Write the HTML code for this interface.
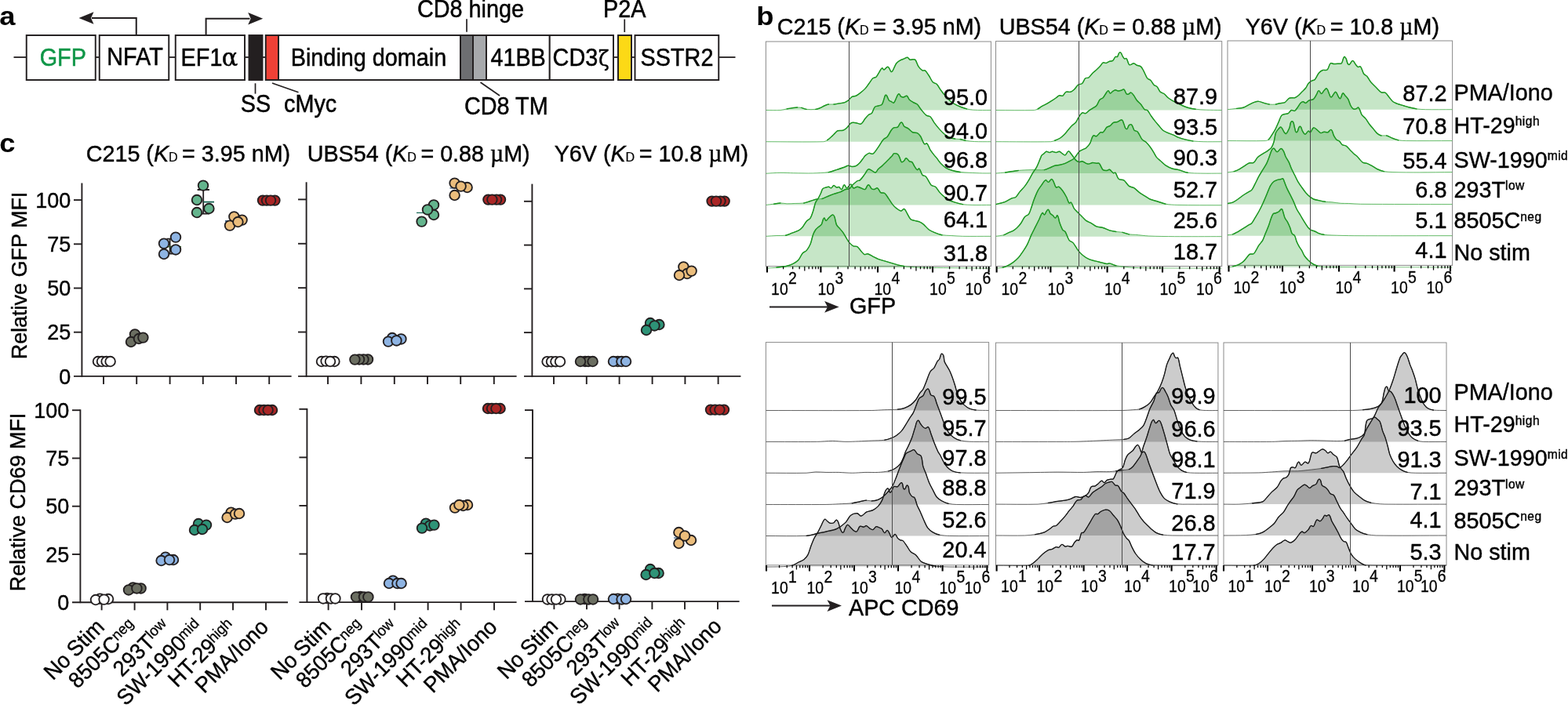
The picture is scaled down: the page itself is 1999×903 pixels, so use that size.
<!DOCTYPE html>
<html lang="en">
<head>
<meta charset="utf-8">
<title>Figure: affinity-tuned CAR reporter activation</title>
<style>
html,body{margin:0;padding:0;background:#fff;}
body{width:1999px;height:903px;overflow:hidden;}
svg{display:block;font-family:'Liberation Sans', Arial, Helvetica, sans-serif;}
text{white-space:pre;}
</style>
</head>
<body>
<svg width="1999" height="903" viewBox="0 0 1999 903">
<rect x="0" y="0" width="1999" height="903" fill="#ffffff"/>
<g id="panel-a">
<text transform="translate(-0.8 32.2) scale(1.07 1)" font-size="34" text-anchor="start" fill="#000" font-weight="bold" >a</text>
<line x1="17.5" y1="73" x2="33.75" y2="73" stroke="#231f20" stroke-width="1.8" />
<line x1="121.75" y1="73" x2="126.75" y2="73" stroke="#231f20" stroke-width="1.8" />
<line x1="215.25" y1="73" x2="223.75" y2="73" stroke="#231f20" stroke-width="1.8" />
<line x1="312" y1="73" x2="317.5" y2="73" stroke="#231f20" stroke-width="1.8" />
<line x1="334.5" y1="73" x2="338.75" y2="73" stroke="#231f20" stroke-width="1.8" />
<line x1="782" y1="73" x2="788" y2="73" stroke="#231f20" stroke-width="1.8" />
<line x1="805" y1="73" x2="809.5" y2="73" stroke="#231f20" stroke-width="1.8" />
<line x1="916.25" y1="73" x2="937.5" y2="73" stroke="#231f20" stroke-width="1.8" />
<rect x="33.75" y="45" width="88" height="57" fill="#fff" stroke="#231f20" stroke-width="1.95"/>
<rect x="126.75" y="45" width="88.5" height="57" fill="#fff" stroke="#231f20" stroke-width="1.95"/>
<rect x="223.75" y="45" width="88.25" height="57" fill="#fff" stroke="#231f20" stroke-width="1.95"/>
<rect x="317.5" y="45" width="17" height="57" fill="#231f20" stroke="#231f20" stroke-width="1.95"/>
<rect x="338.75" y="45" width="16.25" height="57" fill="#ef4136" stroke="#231f20" stroke-width="1.95"/>
<rect x="355" y="45" width="232" height="57" fill="#fff" stroke="#231f20" stroke-width="1.95"/>
<rect x="587" y="45" width="16" height="57" fill="#6d6e71" stroke="#231f20" stroke-width="1.95"/>
<rect x="603" y="45" width="17" height="57" fill="#a7a9ac" stroke="#231f20" stroke-width="1.95"/>
<rect x="620" y="45" width="80.75" height="57" fill="#fff" stroke="#231f20" stroke-width="1.95"/>
<rect x="700.75" y="45" width="81.25" height="57" fill="#fff" stroke="#231f20" stroke-width="1.95"/>
<rect x="788" y="45" width="17" height="57" fill="#fcd916" stroke="#231f20" stroke-width="1.95"/>
<rect x="809.5" y="45" width="106.75" height="57" fill="#fff" stroke="#231f20" stroke-width="1.95"/>
<text transform="translate(80.3 83.6) scale(0.932 1)" font-size="30.9" text-anchor="middle" fill="#0f9647" stroke="#0f9647" stroke-width="0.5" >GFP</text>
<text transform="translate(172 83.2) scale(0.932 1)" font-size="30.9" text-anchor="middle" fill="#000" stroke="#000" stroke-width="0.5" >NFAT</text>
<text transform="translate(230.6 83.6) scale(0.932 1)" font-size="30.9" text-anchor="start" fill="#000" stroke="#000" stroke-width="0.5" >EF1<tspan font-family="'DejaVu Serif', 'Liberation Serif', serif" font-size="32.5" dx="-0.8">α</tspan></text>
<text transform="translate(470 83.6) scale(0.932 1)" font-size="30.9" text-anchor="middle" fill="#000" stroke="#000" stroke-width="0.5" >Binding domain</text>
<text transform="translate(660.6 83.6) scale(0.932 1)" font-size="30.9" text-anchor="middle" fill="#000" stroke="#000" stroke-width="0.5" >41BB</text>
<text transform="translate(704.6 83.6) scale(0.932 1)" font-size="30.9" text-anchor="start" fill="#000" stroke="#000" stroke-width="0.5" >CD3<tspan font-family="'DejaVu Serif', 'Liberation Serif', serif" font-size="27" dx="0.8">ζ</tspan></text>
<text transform="translate(863 83.6) scale(0.932 1)" font-size="30.9" text-anchor="middle" fill="#000" stroke="#000" stroke-width="0.5" >SSTR2</text>
<path d="M173.75 45 V23 H117" fill="none" stroke="#231f20" stroke-width="2"/>
<path d="M100.5 23 L119.5 15.3 L116 23 L119.5 30.7 Z" fill="#231f20"/>
<path d="M262.6 45 V23.75 H318.5" fill="none" stroke="#231f20" stroke-width="2"/>
<path d="M335.2 23.75 L316.2 16.05 L319.7 23.75 L316.2 31.45 Z" fill="#231f20"/>
<line x1="325.5" y1="106.25" x2="325.5" y2="119.6" stroke="#231f20" stroke-width="1.7" />
<text transform="translate(326 142.9) scale(0.932 1)" font-size="30.9" text-anchor="middle" fill="#000" stroke="#000" stroke-width="0.5" >SS</text>
<line x1="347" y1="106" x2="380.5" y2="117.8" stroke="#231f20" stroke-width="1.7" />
<text transform="translate(362 142.9) scale(0.932 1)" font-size="30.9" text-anchor="start" fill="#000" stroke="#000" stroke-width="0.5" >cMyc</text>
<text transform="translate(532 21.6) scale(0.932 1)" font-size="30.9" text-anchor="start" fill="#000" stroke="#000" stroke-width="0.5" >CD8 hinge</text>
<line x1="595" y1="24.25" x2="595" y2="40.75" stroke="#231f20" stroke-width="1.7" />
<text transform="translate(769 21.6) scale(0.932 1)" font-size="30.9" text-anchor="start" fill="#000" stroke="#000" stroke-width="0.5" >P2A</text>
<line x1="796.25" y1="24.5" x2="796.25" y2="41" stroke="#231f20" stroke-width="1.7" />
<line x1="612.5" y1="105" x2="637" y2="122" stroke="#231f20" stroke-width="1.7" />
<text transform="translate(592 145.9) scale(0.932 1)" font-size="30.9" text-anchor="start" fill="#000" stroke="#000" stroke-width="0.5" >CD8 TM</text>
</g>
<g id="panel-c">
<text transform="translate(-0.8 194) scale(1.07 1)" font-size="34" text-anchor="start" fill="#000" font-weight="bold" >c</text>
<text transform="translate(109.7 205.85) scale(0.961 1)" font-size="29.9" text-anchor="start" fill="#000" stroke="#000" stroke-width="0.42" >C215 (<tspan font-style="italic">K</tspan><tspan font-size="16.8" dx="-0.2" stroke-width="0.2">D</tspan><tspan dx="-2.6"> = 3.95 nM)</tspan></text>
<text transform="translate(391.7 205.85) scale(0.961 1)" font-size="29.9" text-anchor="start" fill="#000" stroke="#000" stroke-width="0.42" >UBS54 (<tspan font-style="italic">K</tspan><tspan font-size="16.8" dx="-0.2" stroke-width="0.2">D</tspan><tspan dx="-2.6"> = 0.88 <tspan font-family="'Liberation Serif', 'DejaVu Serif', serif" font-size="31">µ</tspan>M)</tspan></text>
<text transform="translate(706.7 205.85) scale(0.961 1)" font-size="29.9" text-anchor="start" fill="#000" stroke="#000" stroke-width="0.42" >Y6V (<tspan font-style="italic">K</tspan><tspan font-size="16.8" dx="-0.2" stroke-width="0.2">D</tspan><tspan dx="-2.6"> = 10.8 <tspan font-family="'Liberation Serif', 'DejaVu Serif', serif" font-size="31">µ</tspan>M)</tspan></text>
<text transform="translate(34 351.5) rotate(-90) scale(0.953 1)" font-size="28.3" text-anchor="middle" fill="#000" stroke="#000" stroke-width="0.4" >Relative GFP MFI</text>
<text transform="translate(31.6 640.5) rotate(-90) scale(0.953 1)" font-size="28.3" text-anchor="middle" fill="#000" stroke="#000" stroke-width="0.4" >Relative CD69 MFI</text>
<line x1="104.4" y1="233.5" x2="104.4" y2="480.85" stroke="#231f20" stroke-width="1.9" />
<line x1="94" y1="479.9" x2="371.6" y2="479.9" stroke="#231f20" stroke-width="1.9" />
<text transform="translate(90.3 489.6) scale(0.953 1)" font-size="28.3" text-anchor="end" fill="#000" stroke="#000" stroke-width="0.4" >0</text>
<line x1="94" y1="423.7" x2="104.4" y2="423.7" stroke="#231f20" stroke-width="1.9" />
<text transform="translate(90.3 433.4) scale(0.953 1)" font-size="28.3" text-anchor="end" fill="#000" stroke="#000" stroke-width="0.4" >25</text>
<line x1="94" y1="367.5" x2="104.4" y2="367.5" stroke="#231f20" stroke-width="1.9" />
<text transform="translate(90.3 377.2) scale(0.953 1)" font-size="28.3" text-anchor="end" fill="#000" stroke="#000" stroke-width="0.4" >50</text>
<line x1="94" y1="311.3" x2="104.4" y2="311.3" stroke="#231f20" stroke-width="1.9" />
<text transform="translate(90.3 321) scale(0.953 1)" font-size="28.3" text-anchor="end" fill="#000" stroke="#000" stroke-width="0.4" >75</text>
<line x1="94" y1="255.1" x2="104.4" y2="255.1" stroke="#231f20" stroke-width="1.9" />
<text transform="translate(90.3 264.8) scale(0.953 1)" font-size="28.3" text-anchor="end" fill="#000" stroke="#000" stroke-width="0.4" >100</text>
<line x1="132" y1="479.9" x2="132" y2="490" stroke="#231f20" stroke-width="1.9" />
<line x1="174.2" y1="479.9" x2="174.2" y2="490" stroke="#231f20" stroke-width="1.9" />
<line x1="216.6" y1="479.9" x2="216.6" y2="490" stroke="#231f20" stroke-width="1.9" />
<line x1="258.8" y1="479.9" x2="258.8" y2="490" stroke="#231f20" stroke-width="1.9" />
<line x1="301" y1="479.9" x2="301" y2="490" stroke="#231f20" stroke-width="1.9" />
<line x1="343.2" y1="479.9" x2="343.2" y2="490" stroke="#231f20" stroke-width="1.9" />
<path d="M216.6 304.6 V323.6 M212.5 304.6 H220.5 M212.5 323.6 H220.5" stroke="#231f20" stroke-width="1.8" fill="none"/>
<path d="M210 314.6 H231" stroke="#2c5e1e" stroke-width="1.4" fill="none"/>
<path d="M259.2 242 V272.6 M251.6 242 H267 M252 272.6 H267" stroke="#231f20" stroke-width="1.8" fill="none"/>
<path d="M259.4 257.6 H273" stroke="#14614f" stroke-width="1.8" fill="none"/>
<path d="M287 281.9 H300" stroke="#1f4e79" stroke-width="1.5" fill="none"/>
<circle cx="125" cy="461" r="6.3" fill="#ffffff" stroke="#231f20" stroke-width="1.85"/>
<circle cx="130" cy="461" r="6.3" fill="#ffffff" stroke="#231f20" stroke-width="1.85"/>
<circle cx="135.6" cy="461" r="6.3" fill="#ffffff" stroke="#231f20" stroke-width="1.85"/>
<circle cx="140.6" cy="461" r="6.3" fill="#ffffff" stroke="#231f20" stroke-width="1.85"/>
<circle cx="172" cy="426.4" r="6.3" fill="#6b6e61" stroke="#231f20" stroke-width="1.85"/>
<circle cx="167" cy="436" r="6.3" fill="#6b6e61" stroke="#231f20" stroke-width="1.85"/>
<circle cx="177" cy="432" r="6.3" fill="#6b6e61" stroke="#231f20" stroke-width="1.85"/>
<circle cx="182.4" cy="430.6" r="6.3" fill="#6b6e61" stroke="#231f20" stroke-width="1.85"/>
<circle cx="209" cy="310.6" r="6.3" fill="#8eb4e3" stroke="#231f20" stroke-width="1.85"/>
<circle cx="209" cy="324" r="6.3" fill="#8eb4e3" stroke="#231f20" stroke-width="1.85"/>
<circle cx="224" cy="302.6" r="6.3" fill="#8eb4e3" stroke="#231f20" stroke-width="1.85"/>
<circle cx="224" cy="318.4" r="6.3" fill="#8eb4e3" stroke="#231f20" stroke-width="1.85"/>
<circle cx="259" cy="236.6" r="6.3" fill="#64b48d" stroke="#231f20" stroke-width="1.85"/>
<circle cx="251" cy="255" r="6.3" fill="#64b48d" stroke="#231f20" stroke-width="1.85"/>
<circle cx="251" cy="271" r="6.3" fill="#64b48d" stroke="#231f20" stroke-width="1.85"/>
<circle cx="266.4" cy="266" r="6.3" fill="#64b48d" stroke="#231f20" stroke-width="1.85"/>
<circle cx="298.4" cy="276.4" r="6.3" fill="#ebbd7c" stroke="#231f20" stroke-width="1.85"/>
<circle cx="293" cy="287.6" r="6.3" fill="#ebbd7c" stroke="#231f20" stroke-width="1.85"/>
<circle cx="308.6" cy="280.6" r="6.3" fill="#ebbd7c" stroke="#231f20" stroke-width="1.85"/>
<circle cx="303.4" cy="283" r="6.3" fill="#ebbd7c" stroke="#231f20" stroke-width="1.85"/>
<circle cx="335" cy="255.6" r="6.3" fill="#aa2626" stroke="#231f20" stroke-width="1.85"/>
<circle cx="340" cy="255.6" r="6.3" fill="#aa2626" stroke="#231f20" stroke-width="1.85"/>
<circle cx="350.4" cy="255.6" r="6.3" fill="#aa2626" stroke="#231f20" stroke-width="1.85"/>
<circle cx="345" cy="255.6" r="6.3" fill="#aa2626" stroke="#231f20" stroke-width="1.85"/>
<line x1="390.6" y1="232.3" x2="390.6" y2="480.85" stroke="#231f20" stroke-width="1.9" />
<line x1="380" y1="479.9" x2="658.6" y2="479.9" stroke="#231f20" stroke-width="1.9" />
<line x1="380" y1="423.52" x2="390.6" y2="423.52" stroke="#231f20" stroke-width="1.9" />
<line x1="380" y1="367.15" x2="390.6" y2="367.15" stroke="#231f20" stroke-width="1.9" />
<line x1="380" y1="310.77" x2="390.6" y2="310.77" stroke="#231f20" stroke-width="1.9" />
<line x1="380" y1="254.4" x2="390.6" y2="254.4" stroke="#231f20" stroke-width="1.9" />
<line x1="418" y1="479.9" x2="418" y2="490" stroke="#231f20" stroke-width="1.9" />
<line x1="460.4" y1="479.9" x2="460.4" y2="490" stroke="#231f20" stroke-width="1.9" />
<line x1="502.8" y1="479.9" x2="502.8" y2="490" stroke="#231f20" stroke-width="1.9" />
<line x1="545" y1="479.9" x2="545" y2="490" stroke="#231f20" stroke-width="1.9" />
<line x1="587.2" y1="479.9" x2="587.2" y2="490" stroke="#231f20" stroke-width="1.9" />
<line x1="629.8" y1="479.9" x2="629.8" y2="490" stroke="#231f20" stroke-width="1.9" />
<path d="M531 271.4 H545" stroke="#1d6b5a" stroke-width="1.3" fill="none"/>
<path d="M573.5 240 H587" stroke="#1f4e79" stroke-width="1.1" fill="none"/>
<circle cx="410" cy="461" r="6.3" fill="#ffffff" stroke="#231f20" stroke-width="1.85"/>
<circle cx="415.6" cy="460.6" r="6.3" fill="#ffffff" stroke="#231f20" stroke-width="1.85"/>
<circle cx="426.4" cy="461" r="6.3" fill="#ffffff" stroke="#231f20" stroke-width="1.85"/>
<circle cx="421" cy="461" r="6.3" fill="#ffffff" stroke="#231f20" stroke-width="1.85"/>
<circle cx="469" cy="458.4" r="6.3" fill="#6b6e61" stroke="#231f20" stroke-width="1.85"/>
<circle cx="463.4" cy="458.4" r="6.3" fill="#6b6e61" stroke="#231f20" stroke-width="1.85"/>
<circle cx="458" cy="458.4" r="6.3" fill="#6b6e61" stroke="#231f20" stroke-width="1.85"/>
<circle cx="452.4" cy="458.6" r="6.3" fill="#6b6e61" stroke="#231f20" stroke-width="1.85"/>
<circle cx="500" cy="431" r="6.3" fill="#8eb4e3" stroke="#231f20" stroke-width="1.85"/>
<circle cx="511.4" cy="432.4" r="6.3" fill="#8eb4e3" stroke="#231f20" stroke-width="1.85"/>
<circle cx="495" cy="435.6" r="6.3" fill="#8eb4e3" stroke="#231f20" stroke-width="1.85"/>
<circle cx="505.4" cy="434.4" r="6.3" fill="#8eb4e3" stroke="#231f20" stroke-width="1.85"/>
<circle cx="553" cy="261.4" r="6.3" fill="#64b48d" stroke="#231f20" stroke-width="1.85"/>
<circle cx="553" cy="274" r="6.3" fill="#64b48d" stroke="#231f20" stroke-width="1.85"/>
<circle cx="545" cy="267.4" r="6.3" fill="#64b48d" stroke="#231f20" stroke-width="1.85"/>
<circle cx="537.6" cy="282.6" r="6.3" fill="#64b48d" stroke="#231f20" stroke-width="1.85"/>
<circle cx="579.6" cy="233.6" r="6.3" fill="#ebbd7c" stroke="#231f20" stroke-width="1.85"/>
<circle cx="595.6" cy="239" r="6.3" fill="#ebbd7c" stroke="#231f20" stroke-width="1.85"/>
<circle cx="579.6" cy="249" r="6.3" fill="#ebbd7c" stroke="#231f20" stroke-width="1.85"/>
<circle cx="587.6" cy="237.6" r="6.3" fill="#ebbd7c" stroke="#231f20" stroke-width="1.85"/>
<circle cx="622.4" cy="254.6" r="6.3" fill="#aa2626" stroke="#231f20" stroke-width="1.85"/>
<circle cx="638" cy="254.6" r="6.3" fill="#aa2626" stroke="#231f20" stroke-width="1.85"/>
<circle cx="633" cy="254.6" r="6.3" fill="#aa2626" stroke="#231f20" stroke-width="1.85"/>
<circle cx="627.4" cy="254.6" r="6.3" fill="#aa2626" stroke="#231f20" stroke-width="1.85"/>
<line x1="678.4" y1="234.6" x2="678.4" y2="480.85" stroke="#231f20" stroke-width="1.9" />
<line x1="668" y1="479.9" x2="944.4" y2="479.9" stroke="#231f20" stroke-width="1.9" />
<line x1="668" y1="424.12" x2="678.4" y2="424.12" stroke="#231f20" stroke-width="1.9" />
<line x1="668" y1="368.35" x2="678.4" y2="368.35" stroke="#231f20" stroke-width="1.9" />
<line x1="668" y1="312.57" x2="678.4" y2="312.57" stroke="#231f20" stroke-width="1.9" />
<line x1="668" y1="256.8" x2="678.4" y2="256.8" stroke="#231f20" stroke-width="1.9" />
<line x1="706" y1="479.9" x2="706" y2="490" stroke="#231f20" stroke-width="1.9" />
<line x1="747.8" y1="479.9" x2="747.8" y2="490" stroke="#231f20" stroke-width="1.9" />
<line x1="789.6" y1="479.9" x2="789.6" y2="490" stroke="#231f20" stroke-width="1.9" />
<line x1="831.6" y1="479.9" x2="831.6" y2="490" stroke="#231f20" stroke-width="1.9" />
<line x1="873.4" y1="479.9" x2="873.4" y2="490" stroke="#231f20" stroke-width="1.9" />
<line x1="915.6" y1="479.9" x2="915.6" y2="490" stroke="#231f20" stroke-width="1.9" />
<circle cx="697.6" cy="461.2" r="6.3" fill="#ffffff" stroke="#231f20" stroke-width="1.85"/>
<circle cx="703" cy="461.2" r="6.3" fill="#ffffff" stroke="#231f20" stroke-width="1.85"/>
<circle cx="708.4" cy="461.2" r="6.3" fill="#ffffff" stroke="#231f20" stroke-width="1.85"/>
<circle cx="714" cy="461.2" r="6.3" fill="#ffffff" stroke="#231f20" stroke-width="1.85"/>
<circle cx="746" cy="461" r="6.3" fill="#6b6e61" stroke="#231f20" stroke-width="1.85"/>
<circle cx="750" cy="461" r="6.3" fill="#6b6e61" stroke="#231f20" stroke-width="1.85"/>
<circle cx="740" cy="461" r="6.3" fill="#6b6e61" stroke="#231f20" stroke-width="1.85"/>
<circle cx="755.6" cy="461" r="6.3" fill="#6b6e61" stroke="#231f20" stroke-width="1.85"/>
<circle cx="787.6" cy="461" r="6.3" fill="#8eb4e3" stroke="#231f20" stroke-width="1.85"/>
<circle cx="782" cy="461" r="6.3" fill="#8eb4e3" stroke="#231f20" stroke-width="1.85"/>
<circle cx="792.4" cy="461" r="6.3" fill="#8eb4e3" stroke="#231f20" stroke-width="1.85"/>
<circle cx="798" cy="461" r="6.3" fill="#8eb4e3" stroke="#231f20" stroke-width="1.85"/>
<circle cx="829" cy="412" r="6.3" fill="#2e9377" stroke="#231f20" stroke-width="1.85"/>
<circle cx="840.4" cy="414" r="6.3" fill="#2e9377" stroke="#231f20" stroke-width="1.85"/>
<circle cx="834.4" cy="415.4" r="6.3" fill="#2e9377" stroke="#231f20" stroke-width="1.85"/>
<circle cx="824" cy="421" r="6.3" fill="#2e9377" stroke="#231f20" stroke-width="1.85"/>
<circle cx="871.4" cy="340.4" r="6.3" fill="#ebbd7c" stroke="#231f20" stroke-width="1.85"/>
<circle cx="876" cy="349" r="6.3" fill="#ebbd7c" stroke="#231f20" stroke-width="1.85"/>
<circle cx="881.6" cy="345.6" r="6.3" fill="#ebbd7c" stroke="#231f20" stroke-width="1.85"/>
<circle cx="866" cy="351" r="6.3" fill="#ebbd7c" stroke="#231f20" stroke-width="1.85"/>
<circle cx="907.6" cy="256.6" r="6.3" fill="#aa2626" stroke="#231f20" stroke-width="1.85"/>
<circle cx="923.6" cy="256.6" r="6.3" fill="#aa2626" stroke="#231f20" stroke-width="1.85"/>
<circle cx="918.4" cy="256.6" r="6.3" fill="#aa2626" stroke="#231f20" stroke-width="1.85"/>
<circle cx="913" cy="256.6" r="6.3" fill="#aa2626" stroke="#231f20" stroke-width="1.85"/>
<line x1="102.4" y1="522.3" x2="102.4" y2="769.15" stroke="#231f20" stroke-width="1.9" />
<line x1="92" y1="768.2" x2="367" y2="768.2" stroke="#231f20" stroke-width="1.9" />
<text transform="translate(88.3 777.9) scale(0.953 1)" font-size="28.3" text-anchor="end" fill="#000" stroke="#000" stroke-width="0.4" >0</text>
<line x1="92" y1="706.95" x2="102.4" y2="706.95" stroke="#231f20" stroke-width="1.9" />
<text transform="translate(88.3 716.65) scale(0.953 1)" font-size="28.3" text-anchor="end" fill="#000" stroke="#000" stroke-width="0.4" >25</text>
<line x1="92" y1="645.7" x2="102.4" y2="645.7" stroke="#231f20" stroke-width="1.9" />
<text transform="translate(88.3 655.4) scale(0.953 1)" font-size="28.3" text-anchor="end" fill="#000" stroke="#000" stroke-width="0.4" >50</text>
<line x1="92" y1="584.45" x2="102.4" y2="584.45" stroke="#231f20" stroke-width="1.9" />
<text transform="translate(88.3 594.15) scale(0.953 1)" font-size="28.3" text-anchor="end" fill="#000" stroke="#000" stroke-width="0.4" >75</text>
<line x1="92" y1="523.2" x2="102.4" y2="523.2" stroke="#231f20" stroke-width="1.9" />
<text transform="translate(88.3 532.9) scale(0.953 1)" font-size="28.3" text-anchor="end" fill="#000" stroke="#000" stroke-width="0.4" >100</text>
<line x1="129.6" y1="768.2" x2="129.6" y2="778.3" stroke="#231f20" stroke-width="1.9" />
<line x1="171.6" y1="768.2" x2="171.6" y2="778.3" stroke="#231f20" stroke-width="1.9" />
<line x1="213.4" y1="768.2" x2="213.4" y2="778.3" stroke="#231f20" stroke-width="1.9" />
<line x1="255.2" y1="768.2" x2="255.2" y2="778.3" stroke="#231f20" stroke-width="1.9" />
<line x1="297" y1="768.2" x2="297" y2="778.3" stroke="#231f20" stroke-width="1.9" />
<line x1="339" y1="768.2" x2="339" y2="778.3" stroke="#231f20" stroke-width="1.9" />
<circle cx="127.4" cy="763.6" r="6.3" fill="#ffffff" stroke="#231f20" stroke-width="1.85"/>
<circle cx="122" cy="765" r="6.3" fill="#ffffff" stroke="#231f20" stroke-width="1.85"/>
<circle cx="138" cy="764" r="6.3" fill="#ffffff" stroke="#231f20" stroke-width="1.85"/>
<circle cx="132.6" cy="764.6" r="6.3" fill="#ffffff" stroke="#231f20" stroke-width="1.85"/>
<circle cx="169.6" cy="749.4" r="6.3" fill="#6b6e61" stroke="#231f20" stroke-width="1.85"/>
<circle cx="179.6" cy="750.4" r="6.3" fill="#6b6e61" stroke="#231f20" stroke-width="1.85"/>
<circle cx="164" cy="752.4" r="6.3" fill="#6b6e61" stroke="#231f20" stroke-width="1.85"/>
<circle cx="174.4" cy="750.4" r="6.3" fill="#6b6e61" stroke="#231f20" stroke-width="1.85"/>
<circle cx="211" cy="710.6" r="6.3" fill="#8eb4e3" stroke="#231f20" stroke-width="1.85"/>
<circle cx="221" cy="714" r="6.3" fill="#8eb4e3" stroke="#231f20" stroke-width="1.85"/>
<circle cx="205.6" cy="715" r="6.3" fill="#8eb4e3" stroke="#231f20" stroke-width="1.85"/>
<circle cx="216" cy="714" r="6.3" fill="#8eb4e3" stroke="#231f20" stroke-width="1.85"/>
<circle cx="253" cy="668" r="6.3" fill="#2e9377" stroke="#231f20" stroke-width="1.85"/>
<circle cx="263" cy="669.6" r="6.3" fill="#2e9377" stroke="#231f20" stroke-width="1.85"/>
<circle cx="248" cy="676" r="6.3" fill="#2e9377" stroke="#231f20" stroke-width="1.85"/>
<circle cx="258" cy="675" r="6.3" fill="#2e9377" stroke="#231f20" stroke-width="1.85"/>
<circle cx="294.6" cy="653.6" r="6.3" fill="#ebbd7c" stroke="#231f20" stroke-width="1.85"/>
<circle cx="289.6" cy="660" r="6.3" fill="#ebbd7c" stroke="#231f20" stroke-width="1.85"/>
<circle cx="300" cy="655.6" r="6.3" fill="#ebbd7c" stroke="#231f20" stroke-width="1.85"/>
<circle cx="305" cy="655" r="6.3" fill="#ebbd7c" stroke="#231f20" stroke-width="1.85"/>
<circle cx="331" cy="523" r="6.3" fill="#aa2626" stroke="#231f20" stroke-width="1.85"/>
<circle cx="336.4" cy="523" r="6.3" fill="#aa2626" stroke="#231f20" stroke-width="1.85"/>
<circle cx="347" cy="523" r="6.3" fill="#aa2626" stroke="#231f20" stroke-width="1.85"/>
<circle cx="341.6" cy="523" r="6.3" fill="#aa2626" stroke="#231f20" stroke-width="1.85"/>
<g transform="translate(134.6 801.4) rotate(-45)">
<text transform="translate(-94.96 0) scale(0.953 1)" font-size="28.3" text-anchor="start" fill="#000" stroke="#000" stroke-width="0.4" word-spacing="-1.0">No Stim</text>
</g>
<g transform="translate(176.6 801.4) rotate(-45)">
<text transform="translate(-109.92 0) scale(0.953 1)" font-size="28.3" text-anchor="start" fill="#000" stroke="#000" stroke-width="0.4" >8505C</text>
<text transform="translate(-30.75 -7.4) scale(0.97 1)" font-size="19" text-anchor="start" fill="#000" stroke="#000" stroke-width="0.3" >neg</text>
</g>
<g transform="translate(218.4 801.4) rotate(-45)">
<text transform="translate(-88.83 0) scale(0.953 1)" font-size="28.3" text-anchor="start" fill="#000" stroke="#000" stroke-width="0.4" >293T</text>
<text transform="translate(-27.65 -7.4) scale(0.97 1)" font-size="19" text-anchor="start" fill="#000" stroke="#000" stroke-width="0.3" >low</text>
</g>
<g transform="translate(260.2 801.4) rotate(-45)">
<text transform="translate(-141.33 0) scale(0.953 1)" font-size="28.3" text-anchor="start" fill="#000" stroke="#000" stroke-width="0.4" >SW-1990</text>
<text transform="translate(-29.7 -7.4) scale(0.97 1)" font-size="19" text-anchor="start" fill="#000" stroke="#000" stroke-width="0.3" >mid</text>
</g>
<g transform="translate(302 801.4) rotate(-45)">
<text transform="translate(-107.99 0) scale(0.953 1)" font-size="28.3" text-anchor="start" fill="#000" stroke="#000" stroke-width="0.4" >HT-29</text>
<text transform="translate(-34.84 -7.4) scale(0.97 1)" font-size="19" text-anchor="start" fill="#000" stroke="#000" stroke-width="0.3" >high</text>
</g>
<g transform="translate(344 801.4) rotate(-45)">
<text transform="translate(-118.43 0) scale(0.953 1)" font-size="28.3" text-anchor="start" fill="#000" stroke="#000" stroke-width="0.4" >PMA/Iono</text>
</g>
<line x1="391.4" y1="520.9" x2="391.4" y2="769.05" stroke="#231f20" stroke-width="1.9" />
<line x1="381.4" y1="768.1" x2="658.6" y2="768.1" stroke="#231f20" stroke-width="1.9" />
<line x1="381.4" y1="706.52" x2="391.4" y2="706.52" stroke="#231f20" stroke-width="1.9" />
<line x1="381.4" y1="644.95" x2="391.4" y2="644.95" stroke="#231f20" stroke-width="1.9" />
<line x1="381.4" y1="583.38" x2="391.4" y2="583.38" stroke="#231f20" stroke-width="1.9" />
<line x1="381.4" y1="521.8" x2="391.4" y2="521.8" stroke="#231f20" stroke-width="1.9" />
<line x1="418.6" y1="768.1" x2="418.6" y2="778.2" stroke="#231f20" stroke-width="1.9" />
<line x1="461" y1="768.1" x2="461" y2="778.2" stroke="#231f20" stroke-width="1.9" />
<line x1="503.2" y1="768.1" x2="503.2" y2="778.2" stroke="#231f20" stroke-width="1.9" />
<line x1="545.6" y1="768.1" x2="545.6" y2="778.2" stroke="#231f20" stroke-width="1.9" />
<line x1="587.6" y1="768.1" x2="587.6" y2="778.2" stroke="#231f20" stroke-width="1.9" />
<line x1="630" y1="768.1" x2="630" y2="778.2" stroke="#231f20" stroke-width="1.9" />
<circle cx="417" cy="763" r="6.3" fill="#ffffff" stroke="#231f20" stroke-width="1.85"/>
<circle cx="412" cy="763.4" r="6.3" fill="#ffffff" stroke="#231f20" stroke-width="1.85"/>
<circle cx="422" cy="763.4" r="6.3" fill="#ffffff" stroke="#231f20" stroke-width="1.85"/>
<circle cx="427.4" cy="763.4" r="6.3" fill="#ffffff" stroke="#231f20" stroke-width="1.85"/>
<circle cx="459.4" cy="761" r="6.3" fill="#6b6e61" stroke="#231f20" stroke-width="1.85"/>
<circle cx="454" cy="761.4" r="6.3" fill="#6b6e61" stroke="#231f20" stroke-width="1.85"/>
<circle cx="464" cy="761.4" r="6.3" fill="#6b6e61" stroke="#231f20" stroke-width="1.85"/>
<circle cx="469.4" cy="761.4" r="6.3" fill="#6b6e61" stroke="#231f20" stroke-width="1.85"/>
<circle cx="501" cy="740.6" r="6.3" fill="#8eb4e3" stroke="#231f20" stroke-width="1.85"/>
<circle cx="496" cy="744" r="6.3" fill="#8eb4e3" stroke="#231f20" stroke-width="1.85"/>
<circle cx="506.4" cy="744" r="6.3" fill="#8eb4e3" stroke="#231f20" stroke-width="1.85"/>
<circle cx="511.6" cy="744" r="6.3" fill="#8eb4e3" stroke="#231f20" stroke-width="1.85"/>
<circle cx="543" cy="667.6" r="6.3" fill="#2e9377" stroke="#231f20" stroke-width="1.85"/>
<circle cx="548" cy="670.4" r="6.3" fill="#2e9377" stroke="#231f20" stroke-width="1.85"/>
<circle cx="538" cy="673.6" r="6.3" fill="#2e9377" stroke="#231f20" stroke-width="1.85"/>
<circle cx="553.4" cy="669.6" r="6.3" fill="#2e9377" stroke="#231f20" stroke-width="1.85"/>
<circle cx="580" cy="647.6" r="6.3" fill="#ebbd7c" stroke="#231f20" stroke-width="1.85"/>
<circle cx="596" cy="644" r="6.3" fill="#ebbd7c" stroke="#231f20" stroke-width="1.85"/>
<circle cx="590.4" cy="645" r="6.3" fill="#ebbd7c" stroke="#231f20" stroke-width="1.85"/>
<circle cx="585.4" cy="644" r="6.3" fill="#ebbd7c" stroke="#231f20" stroke-width="1.85"/>
<circle cx="622" cy="521" r="6.3" fill="#aa2626" stroke="#231f20" stroke-width="1.85"/>
<circle cx="627" cy="521" r="6.3" fill="#aa2626" stroke="#231f20" stroke-width="1.85"/>
<circle cx="637.6" cy="521" r="6.3" fill="#aa2626" stroke="#231f20" stroke-width="1.85"/>
<circle cx="632.4" cy="521" r="6.3" fill="#aa2626" stroke="#231f20" stroke-width="1.85"/>
<g transform="translate(424 801.3) rotate(-45)">
<text transform="translate(-94.96 0) scale(0.953 1)" font-size="28.3" text-anchor="start" fill="#000" stroke="#000" stroke-width="0.4" word-spacing="-1.0">No Stim</text>
</g>
<g transform="translate(466.4 801.3) rotate(-45)">
<text transform="translate(-109.92 0) scale(0.953 1)" font-size="28.3" text-anchor="start" fill="#000" stroke="#000" stroke-width="0.4" >8505C</text>
<text transform="translate(-30.75 -7.4) scale(0.97 1)" font-size="19" text-anchor="start" fill="#000" stroke="#000" stroke-width="0.3" >neg</text>
</g>
<g transform="translate(508.6 801.3) rotate(-45)">
<text transform="translate(-88.83 0) scale(0.953 1)" font-size="28.3" text-anchor="start" fill="#000" stroke="#000" stroke-width="0.4" >293T</text>
<text transform="translate(-27.65 -7.4) scale(0.97 1)" font-size="19" text-anchor="start" fill="#000" stroke="#000" stroke-width="0.3" >low</text>
</g>
<g transform="translate(551 801.3) rotate(-45)">
<text transform="translate(-141.33 0) scale(0.953 1)" font-size="28.3" text-anchor="start" fill="#000" stroke="#000" stroke-width="0.4" >SW-1990</text>
<text transform="translate(-29.7 -7.4) scale(0.97 1)" font-size="19" text-anchor="start" fill="#000" stroke="#000" stroke-width="0.3" >mid</text>
</g>
<g transform="translate(593 801.3) rotate(-45)">
<text transform="translate(-107.99 0) scale(0.953 1)" font-size="28.3" text-anchor="start" fill="#000" stroke="#000" stroke-width="0.4" >HT-29</text>
<text transform="translate(-34.84 -7.4) scale(0.97 1)" font-size="19" text-anchor="start" fill="#000" stroke="#000" stroke-width="0.3" >high</text>
</g>
<g transform="translate(635.4 801.3) rotate(-45)">
<text transform="translate(-118.43 0) scale(0.953 1)" font-size="28.3" text-anchor="start" fill="#000" stroke="#000" stroke-width="0.4" >PMA/Iono</text>
</g>
<line x1="679" y1="522.2" x2="679" y2="768.05" stroke="#231f20" stroke-width="1.9" />
<line x1="669" y1="767.1" x2="942.6" y2="767.1" stroke="#231f20" stroke-width="1.9" />
<line x1="669" y1="706.1" x2="679" y2="706.1" stroke="#231f20" stroke-width="1.9" />
<line x1="669" y1="645.1" x2="679" y2="645.1" stroke="#231f20" stroke-width="1.9" />
<line x1="669" y1="584.1" x2="679" y2="584.1" stroke="#231f20" stroke-width="1.9" />
<line x1="669" y1="523.1" x2="679" y2="523.1" stroke="#231f20" stroke-width="1.9" />
<line x1="706.4" y1="767.1" x2="706.4" y2="777.2" stroke="#231f20" stroke-width="1.9" />
<line x1="748" y1="767.1" x2="748" y2="777.2" stroke="#231f20" stroke-width="1.9" />
<line x1="789.6" y1="767.1" x2="789.6" y2="777.2" stroke="#231f20" stroke-width="1.9" />
<line x1="831.4" y1="767.1" x2="831.4" y2="777.2" stroke="#231f20" stroke-width="1.9" />
<line x1="873" y1="767.1" x2="873" y2="777.2" stroke="#231f20" stroke-width="1.9" />
<line x1="915" y1="767.1" x2="915" y2="777.2" stroke="#231f20" stroke-width="1.9" />
<path d="M859 686 H873" stroke="#1f4e79" stroke-width="1.1" fill="none"/>
<circle cx="698" cy="764.4" r="6.3" fill="#ffffff" stroke="#231f20" stroke-width="1.85"/>
<circle cx="703.6" cy="764.4" r="6.3" fill="#ffffff" stroke="#231f20" stroke-width="1.85"/>
<circle cx="714.4" cy="764.4" r="6.3" fill="#ffffff" stroke="#231f20" stroke-width="1.85"/>
<circle cx="709" cy="764.4" r="6.3" fill="#ffffff" stroke="#231f20" stroke-width="1.85"/>
<circle cx="745.4" cy="764" r="6.3" fill="#6b6e61" stroke="#231f20" stroke-width="1.85"/>
<circle cx="740" cy="764.4" r="6.3" fill="#6b6e61" stroke="#231f20" stroke-width="1.85"/>
<circle cx="750.4" cy="764.4" r="6.3" fill="#6b6e61" stroke="#231f20" stroke-width="1.85"/>
<circle cx="756" cy="764.4" r="6.3" fill="#6b6e61" stroke="#231f20" stroke-width="1.85"/>
<circle cx="787.6" cy="763.6" r="6.3" fill="#8eb4e3" stroke="#231f20" stroke-width="1.85"/>
<circle cx="782" cy="764" r="6.3" fill="#8eb4e3" stroke="#231f20" stroke-width="1.85"/>
<circle cx="792.6" cy="764.4" r="6.3" fill="#8eb4e3" stroke="#231f20" stroke-width="1.85"/>
<circle cx="798" cy="764" r="6.3" fill="#8eb4e3" stroke="#231f20" stroke-width="1.85"/>
<circle cx="829" cy="726" r="6.3" fill="#2e9377" stroke="#231f20" stroke-width="1.85"/>
<circle cx="839.6" cy="731" r="6.3" fill="#2e9377" stroke="#231f20" stroke-width="1.85"/>
<circle cx="823.6" cy="733" r="6.3" fill="#2e9377" stroke="#231f20" stroke-width="1.85"/>
<circle cx="834.4" cy="731" r="6.3" fill="#2e9377" stroke="#231f20" stroke-width="1.85"/>
<circle cx="865.4" cy="679" r="6.3" fill="#ebbd7c" stroke="#231f20" stroke-width="1.85"/>
<circle cx="881" cy="689" r="6.3" fill="#ebbd7c" stroke="#231f20" stroke-width="1.85"/>
<circle cx="865.4" cy="693" r="6.3" fill="#ebbd7c" stroke="#231f20" stroke-width="1.85"/>
<circle cx="873" cy="683.4" r="6.3" fill="#ebbd7c" stroke="#231f20" stroke-width="1.85"/>
<circle cx="906" cy="522.6" r="6.3" fill="#aa2626" stroke="#231f20" stroke-width="1.85"/>
<circle cx="911.6" cy="522.6" r="6.3" fill="#aa2626" stroke="#231f20" stroke-width="1.85"/>
<circle cx="923" cy="522.6" r="6.3" fill="#aa2626" stroke="#231f20" stroke-width="1.85"/>
<circle cx="917.4" cy="522.6" r="6.3" fill="#aa2626" stroke="#231f20" stroke-width="1.85"/>
<g transform="translate(713 800.3) rotate(-45)">
<text transform="translate(-94.96 0) scale(0.953 1)" font-size="28.3" text-anchor="start" fill="#000" stroke="#000" stroke-width="0.4" word-spacing="-1.0">No Stim</text>
</g>
<g transform="translate(754.6 800.3) rotate(-45)">
<text transform="translate(-109.92 0) scale(0.953 1)" font-size="28.3" text-anchor="start" fill="#000" stroke="#000" stroke-width="0.4" >8505C</text>
<text transform="translate(-30.75 -7.4) scale(0.97 1)" font-size="19" text-anchor="start" fill="#000" stroke="#000" stroke-width="0.3" >neg</text>
</g>
<g transform="translate(796.2 800.3) rotate(-45)">
<text transform="translate(-88.83 0) scale(0.953 1)" font-size="28.3" text-anchor="start" fill="#000" stroke="#000" stroke-width="0.4" >293T</text>
<text transform="translate(-27.65 -7.4) scale(0.97 1)" font-size="19" text-anchor="start" fill="#000" stroke="#000" stroke-width="0.3" >low</text>
</g>
<g transform="translate(838 800.3) rotate(-45)">
<text transform="translate(-141.33 0) scale(0.953 1)" font-size="28.3" text-anchor="start" fill="#000" stroke="#000" stroke-width="0.4" >SW-1990</text>
<text transform="translate(-29.7 -7.4) scale(0.97 1)" font-size="19" text-anchor="start" fill="#000" stroke="#000" stroke-width="0.3" >mid</text>
</g>
<g transform="translate(879.6 800.3) rotate(-45)">
<text transform="translate(-107.99 0) scale(0.953 1)" font-size="28.3" text-anchor="start" fill="#000" stroke="#000" stroke-width="0.4" >HT-29</text>
<text transform="translate(-34.84 -7.4) scale(0.97 1)" font-size="19" text-anchor="start" fill="#000" stroke="#000" stroke-width="0.3" >high</text>
</g>
<g transform="translate(921.6 800.3) rotate(-45)">
<text transform="translate(-118.43 0) scale(0.953 1)" font-size="28.3" text-anchor="start" fill="#000" stroke="#000" stroke-width="0.4" >PMA/Iono</text>
</g>
</g>
<g id="panel-b">
<text transform="translate(964.3 32.2) scale(1.07 1)" font-size="34" text-anchor="start" fill="#000" font-weight="bold" >b</text>
<text transform="translate(990.7 44.35) scale(0.961 1)" font-size="29.9" text-anchor="start" fill="#000" stroke="#000" stroke-width="0.42" >C215 (<tspan font-style="italic">K</tspan><tspan font-size="16.8" dx="-0.2" stroke-width="0.2">D</tspan><tspan dx="-2.6"> = 3.95 nM)</tspan></text>
<text transform="translate(1273.7 44.35) scale(0.961 1)" font-size="29.9" text-anchor="start" fill="#000" stroke="#000" stroke-width="0.42" >UBS54 (<tspan font-style="italic">K</tspan><tspan font-size="16.8" dx="-0.2" stroke-width="0.2">D</tspan><tspan dx="-2.6"> = 0.88 <tspan font-family="'Liberation Serif', 'DejaVu Serif', serif" font-size="31">µ</tspan>M)</tspan></text>
<text transform="translate(1587.7 44.35) scale(0.961 1)" font-size="29.9" text-anchor="start" fill="#000" stroke="#000" stroke-width="0.42" >Y6V (<tspan font-style="italic">K</tspan><tspan font-size="16.8" dx="-0.2" stroke-width="0.2">D</tspan><tspan dx="-2.6"> = 10.8 <tspan font-family="'Liberation Serif', 'DejaVu Serif', serif" font-size="31">µ</tspan>M)</tspan></text>
<g id="hist-g1">
<clipPath id="clip-g1"><rect x="976.4" y="53" width="287" height="289.6"/></clipPath>
<rect x="976.4" y="53" width="287" height="286.6" fill="#fff" stroke="#8a8a8a" stroke-width="1"/>
<g clip-path="url(#clip-g1)">
<path d="M976.4 140.53C981.96 140.53 989.37 140.87 994.92 140.53C997.45 140.37 1000.71 139.28 1003.22 138.87C1007.2 138.23 1012.5 137.37 1016.51 137.04C1018 136.92 1020.03 137.08 1021.5 137.38C1023.54 137.78 1026.07 139.14 1028.14 139.37C1031.61 139.75 1036.29 139.65 1039.77 139.37C1041.31 139.25 1043.31 138.61 1044.75 138.04C1046.82 137.21 1049.35 135.6 1051.4 134.72C1052.84 134.1 1054.82 133.28 1056.38 133.06C1058.35 132.77 1061.04 133.23 1063.02 133.06C1065.04 132.88 1067.67 132.22 1069.67 131.89C1071.66 131.57 1074.4 131.53 1076.31 130.9C1077.94 130.36 1079.92 129.1 1081.3 128.07C1082.93 126.85 1084.51 124.45 1086.28 123.42C1087.61 122.65 1089.86 122.89 1091.26 122.26C1092.9 121.52 1094.83 120.05 1096.25 118.94C1098.33 117.3 1101.08 115.06 1102.89 113.12C1104.59 111.3 1106.38 108.47 1107.87 106.48C1109.37 104.49 1111.01 101.51 1112.86 99.83C1113.85 98.93 1116.06 99.12 1117.01 98.17C1118.67 96.51 1119.87 93.49 1121.16 91.53C1122.11 90.1 1122.91 87.55 1124.49 86.88C1125.39 86.49 1126.01 89.25 1126.98 89.04C1128.82 88.63 1130.14 84.72 1131.96 85.22C1134.15 85.81 1134.46 89.97 1136.11 91.53C1136.52 91.91 1137.48 91.17 1137.77 90.7C1139.53 87.85 1140.8 83.44 1142.76 80.73C1143.86 79.2 1146.11 77.86 1147.74 76.91C1149.13 76.1 1151.23 75.51 1152.72 74.92C1153.97 74.42 1155.56 73.02 1156.88 73.26C1158.2 73.49 1158.94 75.78 1160.2 76.25C1161.14 76.6 1162.51 75.75 1163.52 75.75C1164.53 75.75 1166.21 75.47 1166.84 76.25C1168.66 78.47 1169.4 82.5 1171 84.88C1172.17 86.64 1174.17 88.78 1175.98 89.87C1176.83 90.38 1178.52 89.24 1179.3 89.87C1181.25 91.42 1182.9 94.44 1184.29 96.51C1185.9 98.93 1187.3 102.68 1189.27 104.82C1190.4 106.05 1193.07 106.13 1194.25 107.31C1196.16 109.21 1197.64 112.61 1199.24 114.78C1201.13 117.35 1203.76 120.7 1205.88 123.09C1207.75 125.2 1210.34 127.96 1212.52 129.73C1214.35 131.22 1217.09 132.79 1219.17 133.89C1221.09 134.89 1223.79 135.95 1225.81 136.71C1227.78 137.45 1230.42 138.39 1232.46 138.87C1234.92 139.44 1238.25 139.99 1240.76 140.2C1244.24 140.49 1248.9 140.48 1252.39 140.53C1255.69 140.58 1260.1 140.53 1263.4 140.53L1263.4 140.53L976.4 140.53Z" fill="rgba(10,145,15,0.23)" stroke="none"/>
<path d="M976.4 180.73C998.4 180.73 1027.74 181.29 1049.73 180.73C1051.34 180.69 1053.35 179.58 1054.72 178.74C1056.37 177.72 1058.27 175.9 1059.7 174.58C1061.26 173.16 1063.14 171.05 1064.68 169.6C1065.64 168.71 1066.77 167.19 1068.01 166.78C1069.9 166.15 1072.75 166.9 1074.65 166.28C1076.36 165.72 1078.31 164.17 1079.63 162.96C1081.33 161.4 1082.82 158.58 1084.62 157.14C1085.42 156.5 1086.91 156.31 1087.94 156.31C1089.46 156.31 1091.43 156.89 1092.92 157.14C1094.42 157.39 1096.6 158.74 1097.91 157.97C1100.06 156.72 1101.3 153.24 1102.89 151.33C1104.29 149.65 1106.17 147.38 1107.87 146.01C1108.71 145.34 1110.54 145.53 1111.2 144.68C1112.9 142.48 1113.53 138.49 1115.35 136.38C1116.2 135.39 1118.27 135.5 1119.5 135.05C1121.01 134.5 1123.59 134.39 1124.49 133.06C1126.55 129.98 1126.94 124.72 1128.64 121.43C1128.87 120.98 1130 121.35 1130.3 121.76C1131.59 123.57 1132.27 126.63 1133.62 128.41C1134.11 129.05 1135.38 129.07 1136.11 129.4C1137.13 129.87 1138.52 131.7 1139.44 131.06C1141.19 129.84 1141.71 126.62 1142.76 124.75C1143.61 123.23 1144.07 120.25 1145.75 119.77C1147.01 119.41 1147.49 122.36 1148.57 123.09C1149.42 123.66 1150.87 124.03 1151.89 123.92C1153.23 123.77 1154.82 121.71 1156.05 122.26C1157.69 122.99 1158.1 125.97 1159.37 127.24C1160.64 128.51 1162.8 129.66 1164.35 130.56C1165.8 131.41 1168.1 131.93 1169.34 133.06C1171.17 134.74 1172.73 137.78 1174.32 139.7C1176.23 142.02 1178.6 145.32 1180.96 147.18C1182.2 148.15 1184.79 147.77 1185.95 148.84C1187.93 150.66 1189.33 154.14 1190.93 156.31C1192.82 158.88 1195.45 162.23 1197.57 164.62C1199.45 166.72 1202.03 169.48 1204.22 171.26C1206.04 172.74 1208.71 174.47 1210.86 175.42C1212.75 176.24 1215.48 176.75 1217.51 177.08C1219.48 177.4 1222.18 177.25 1224.15 177.57C1226.18 177.9 1228.77 178.9 1230.8 179.24C1234.26 179.8 1238.92 180.4 1242.43 180.56C1248.71 180.85 1257.11 180.68 1263.4 180.73L1263.4 180.73L976.4 180.73Z" fill="rgba(10,145,15,0.23)" stroke="none"/>
<path d="M976.4 221.26C981.96 220.96 989.35 220.34 994.92 220.27C999.9 220.2 1006.54 220.68 1011.53 220.76C1019 220.88 1028.97 221.12 1036.45 220.93C1042.44 220.77 1050.45 220.46 1056.38 219.6C1059.47 219.16 1063.37 217.55 1066.35 216.61C1069.35 215.66 1073.34 214.34 1076.31 213.29C1077.83 212.75 1079.69 211.43 1081.3 211.3C1082.83 211.17 1084.74 212.41 1086.28 212.46C1087.79 212.51 1089.91 212.31 1091.26 211.63C1093 210.76 1094.93 208.91 1096.25 207.48C1097.94 205.64 1099.73 202.82 1101.23 200.83C1101.72 200.18 1102.26 199.19 1102.89 198.67C1104.28 197.53 1106.13 195.78 1107.87 195.35C1109.34 194.98 1111.58 197 1112.86 196.18C1115.54 194.45 1117.62 190.45 1119.5 187.87C1121.62 184.97 1123.78 180.61 1126.15 177.91C1127.33 176.55 1129.96 175.95 1131.13 174.58C1133.02 172.38 1134.42 168.64 1136.11 166.28C1136.93 165.13 1138.17 163.59 1139.44 162.96C1140.79 162.28 1143.19 163.02 1144.42 162.13C1146.29 160.77 1146.77 156.21 1149.07 155.98C1151 155.79 1151.29 160 1152.72 161.3C1153.96 162.42 1156.33 162.84 1157.71 163.79C1159.6 165.09 1161.47 167.74 1163.52 168.77C1165.1 169.56 1167.76 168.81 1169.34 169.6C1170.91 170.39 1172.53 172.27 1173.49 173.75C1175.3 176.56 1176.22 181.25 1178.47 183.72C1179.16 184.48 1181.07 182.16 1181.79 182.89C1183.76 184.86 1184.49 188.82 1185.95 191.2C1187.25 193.32 1189.38 195.89 1190.93 197.84C1191.87 199.03 1193.31 200.47 1194.25 201.66C1195.8 203.61 1197.54 206.48 1199.24 208.31C1201.04 210.24 1203.62 212.74 1205.88 214.12C1208.17 215.52 1211.61 216.69 1214.19 217.44C1217.11 218.29 1221.13 219.04 1224.15 219.44C1227.62 219.89 1232.29 220.08 1235.78 220.27C1240.76 220.53 1247.41 220.81 1252.39 220.93C1255.69 221.01 1260.1 220.93 1263.4 220.93L1263.4 220.93L976.4 220.93Z" fill="rgba(10,145,15,0.23)" stroke="none"/>
<path d="M976.4 261.46C979.46 261.06 983.55 260.54 986.61 260.13C989.1 259.8 992.4 259.02 994.92 258.97C997.42 258.92 1000.72 259.73 1003.22 259.8C1006.21 259.88 1010.2 259.58 1013.19 259.47C1016.68 259.33 1021.36 259.49 1024.82 258.97C1027.39 258.58 1030.63 257.23 1033.12 256.48C1035.61 255.73 1038.88 254.5 1041.43 253.99C1043.39 253.59 1046.13 253.97 1048.07 253.49C1050.17 252.96 1052.71 251.49 1054.72 250.66C1057.2 249.64 1060.49 248.23 1063.02 247.34C1065.48 246.48 1068.9 245.79 1071.33 244.85C1073.41 244.04 1075.87 242.28 1077.97 241.53C1079.4 241.02 1081.66 241.48 1082.96 240.7C1084.32 239.88 1085.15 237.67 1086.28 236.54C1088.15 234.67 1090.72 232.2 1092.92 230.73C1093.78 230.16 1095.49 230.59 1096.25 229.9C1098.6 227.74 1100.95 224.13 1102.89 221.59C1104.19 219.89 1105.13 216.74 1107.04 215.78C1108.24 215.18 1109.97 216.89 1111.2 217.44C1112.72 218.13 1114.54 220.26 1116.18 219.93C1117.74 219.62 1118.37 216.91 1119.5 215.78C1120.88 214.4 1123.05 212.94 1124.49 211.63C1126.04 210.2 1127.97 208.14 1129.47 206.64C1130.96 205.15 1132.96 203.16 1134.45 201.66C1135.45 200.66 1136.86 199.41 1137.77 198.34C1138.36 197.66 1138.56 196.07 1139.44 195.85C1140.91 195.48 1143.16 195.84 1144.42 196.68C1145.63 197.48 1146.26 199.53 1146.91 200.83C1147.76 202.53 1147.86 205.54 1149.4 206.64C1150.31 207.29 1151.88 205.71 1152.72 204.98C1153.67 204.17 1153.98 201.51 1155.22 201.66C1156.96 201.88 1157.9 204.84 1159.37 205.81C1160.22 206.38 1161.96 205.92 1162.69 206.64C1164.11 208.07 1164.9 210.79 1166.01 212.46C1166.9 213.79 1167.87 215.98 1169.34 216.61C1170.16 216.97 1171.19 214.31 1171.83 214.95C1173.8 216.92 1174.2 221.12 1175.98 223.26C1176.84 224.29 1179.18 223.97 1180.13 224.92C1181.8 226.58 1183.01 229.58 1184.29 231.56C1185.26 233.07 1186.2 235.42 1187.61 236.54C1188.84 237.53 1191.38 237.2 1192.59 238.21C1194.51 239.8 1195.95 242.96 1197.57 244.85C1198.95 246.46 1200.95 248.46 1202.56 249.83C1204.45 251.46 1207.02 253.61 1209.2 254.82C1211.55 256.12 1214.95 257.33 1217.51 258.14C1220.45 259.07 1224.43 260.16 1227.48 260.63C1230.93 261.16 1235.61 261.38 1239.1 261.46C1246.39 261.63 1256.11 261.46 1263.4 261.46L1263.4 261.46L976.4 261.46Z" fill="rgba(10,145,15,0.23)" stroke="none"/>
<path d="M976.4 301.33C980.46 301.08 985.87 300.69 989.93 300.5C993.42 300.34 998.12 300.74 1001.56 300.17C1004.17 299.73 1007.39 298.12 1009.87 297.18C1012.38 296.22 1015.83 295.17 1018.17 293.85C1019.87 292.9 1021.89 291.18 1023.16 289.7C1024.91 287.65 1026.39 284.27 1028.14 282.23C1029.41 280.75 1032.04 279.69 1033.12 278.07C1034.61 275.84 1035.6 272.31 1036.45 269.77C1037.59 266.33 1038.42 261.51 1039.77 258.14C1040.43 256.47 1042.2 254.72 1043.09 253.16C1044.2 251.22 1045.47 248.53 1046.41 246.51C1047.21 244.79 1047.64 242.12 1048.9 240.7C1049.8 239.69 1051.78 239.46 1053.06 239.04C1054.03 238.71 1055.36 238.08 1056.38 238.21C1057.48 238.34 1058.62 240.14 1059.7 239.87C1061.07 239.53 1061.62 236.72 1063.02 236.54C1064.26 236.39 1065.15 238.68 1066.35 239.04C1067.31 239.33 1068.72 238.18 1069.67 238.54C1070.92 239.01 1071.76 242.05 1072.99 241.53C1074.84 240.74 1074.36 236.2 1076.31 235.71C1077.86 235.33 1078.05 240.03 1079.63 239.87C1081.74 239.66 1082.5 234.88 1084.62 234.88C1086.41 234.88 1086.27 239.2 1087.94 239.87C1089.4 240.45 1091.35 238.21 1092.92 238.21C1094.5 238.21 1096.41 239.37 1097.91 239.87C1099.4 240.37 1101.46 242.18 1102.89 241.53C1104.84 240.64 1104.91 235.93 1107.04 235.71C1108.98 235.52 1109.66 239.5 1111.2 240.7C1112.01 241.33 1113.5 241.64 1114.52 241.53C1115.85 241.38 1117.47 239.27 1118.67 239.87C1120.59 240.83 1121.09 244.42 1122.82 245.68C1124.05 246.57 1126.59 245.6 1127.81 246.51C1129.8 248.01 1131.35 251.12 1132.79 253.16C1134.34 255.36 1136.09 258.53 1137.77 260.63C1139.09 262.28 1141.08 264.33 1142.76 265.61C1144.35 266.84 1146.57 268.77 1148.57 268.94C1150.02 269.06 1151.35 265.99 1152.72 266.45C1154.43 267.01 1155.09 269.9 1156.05 271.43C1157.59 273.89 1158.98 277.68 1161.03 279.73C1162.14 280.85 1164.5 280.96 1166.01 281.4C1167.99 281.96 1170.77 282.25 1172.66 283.06C1174.31 283.76 1176.28 285.21 1177.64 286.38C1179.78 288.21 1182.03 291.33 1184.29 293.02C1186.07 294.36 1188.86 295.52 1190.93 296.35C1193.86 297.52 1197.8 299.07 1200.9 299.67C1204.33 300.33 1209.03 300.28 1212.52 300.5C1217.01 300.78 1222.98 301.26 1227.48 301.33C1238.25 301.5 1252.62 301.33 1263.4 301.33L1263.4 301.33L976.4 301.33Z" fill="rgba(10,145,15,0.23)" stroke="none"/>
<path d="M976.4 342.52C980.46 342.13 985.88 341.7 989.93 341.2C993.93 340.7 999.29 340.11 1003.22 339.2C1005.8 338.61 1009.19 337.46 1011.53 336.21C1013.73 335.04 1016.53 333.1 1018.17 331.23C1020.09 329.04 1021.27 325.13 1023.16 322.92C1024.33 321.56 1026.97 320.97 1028.14 319.6C1030.03 317.4 1032.01 313.98 1033.12 311.3C1034.52 307.95 1035.21 303.08 1036.45 299.67C1037.21 297.57 1038.53 294.88 1039.77 293.02C1040.55 291.85 1042.04 290.64 1043.09 289.7C1044.28 288.64 1046.38 287.72 1047.24 286.38C1048.69 284.12 1048.53 279.82 1050.56 278.07C1051.51 277.26 1051.81 281.4 1053.06 281.4C1054.47 281.4 1055.33 279.02 1056.38 278.07C1057.83 276.77 1059.46 274.34 1061.36 273.92C1062.39 273.69 1063.46 275.43 1063.85 276.41C1065 279.27 1065.17 283.53 1066.35 286.38C1066.95 287.85 1068.65 289.31 1069.67 290.53C1071.14 292.3 1073.33 294.47 1074.65 296.35C1076.33 298.72 1078.09 302.19 1079.63 304.65C1080.59 306.17 1081.75 308.31 1082.96 309.63C1084.27 311.07 1086.2 312.92 1087.94 313.79C1089.3 314.47 1091.66 313.78 1092.92 314.62C1094.83 315.89 1096.35 318.74 1097.91 320.43C1099.1 321.73 1100.42 323.93 1102.06 324.58C1103.24 325.06 1104.97 323.47 1106.21 323.75C1108.38 324.26 1110.86 326.08 1112.86 327.08C1114.85 328.07 1117.42 329.59 1119.5 330.4C1121.93 331.34 1125.32 332.14 1127.81 332.89C1130.3 333.64 1133.62 334.63 1136.11 335.38C1138.6 336.13 1141.89 337.24 1144.42 337.87C1146.88 338.49 1150.2 339.23 1152.72 339.53C1157.69 340.13 1164.34 340.66 1169.34 340.86C1179.3 341.26 1192.59 341.35 1202.56 341.53C1220.81 341.85 1245.15 342.23 1263.4 342.52L1263.4 341.53L976.4 341.53Z" fill="rgba(10,145,15,0.23)" stroke="none"/>
<path d="M976.4 140.53C981.96 140.53 989.37 140.87 994.92 140.53C997.45 140.37 1000.71 139.28 1003.22 138.87C1007.2 138.23 1012.5 137.37 1016.51 137.04C1018 136.92 1020.03 137.08 1021.5 137.38C1023.54 137.78 1026.07 139.14 1028.14 139.37C1031.61 139.75 1036.29 139.65 1039.77 139.37C1041.31 139.25 1043.31 138.61 1044.75 138.04C1046.82 137.21 1049.35 135.6 1051.4 134.72C1052.84 134.1 1054.82 133.28 1056.38 133.06C1058.35 132.77 1061.04 133.23 1063.02 133.06C1065.04 132.88 1067.67 132.22 1069.67 131.89C1071.66 131.57 1074.4 131.53 1076.31 130.9C1077.94 130.36 1079.92 129.1 1081.3 128.07C1082.93 126.85 1084.51 124.45 1086.28 123.42C1087.61 122.65 1089.86 122.89 1091.26 122.26C1092.9 121.52 1094.83 120.05 1096.25 118.94C1098.33 117.3 1101.08 115.06 1102.89 113.12C1104.59 111.3 1106.38 108.47 1107.87 106.48C1109.37 104.49 1111.01 101.51 1112.86 99.83C1113.85 98.93 1116.06 99.12 1117.01 98.17C1118.67 96.51 1119.87 93.49 1121.16 91.53C1122.11 90.1 1122.91 87.55 1124.49 86.88C1125.39 86.49 1126.01 89.25 1126.98 89.04C1128.82 88.63 1130.14 84.72 1131.96 85.22C1134.15 85.81 1134.46 89.97 1136.11 91.53C1136.52 91.91 1137.48 91.17 1137.77 90.7C1139.53 87.85 1140.8 83.44 1142.76 80.73C1143.86 79.2 1146.11 77.86 1147.74 76.91C1149.13 76.1 1151.23 75.51 1152.72 74.92C1153.97 74.42 1155.56 73.02 1156.88 73.26C1158.2 73.49 1158.94 75.78 1160.2 76.25C1161.14 76.6 1162.51 75.75 1163.52 75.75C1164.53 75.75 1166.21 75.47 1166.84 76.25C1168.66 78.47 1169.4 82.5 1171 84.88C1172.17 86.64 1174.17 88.78 1175.98 89.87C1176.83 90.38 1178.52 89.24 1179.3 89.87C1181.25 91.42 1182.9 94.44 1184.29 96.51C1185.9 98.93 1187.3 102.68 1189.27 104.82C1190.4 106.05 1193.07 106.13 1194.25 107.31C1196.16 109.21 1197.64 112.61 1199.24 114.78C1201.13 117.35 1203.76 120.7 1205.88 123.09C1207.75 125.2 1210.34 127.96 1212.52 129.73C1214.35 131.22 1217.09 132.79 1219.17 133.89C1221.09 134.89 1223.79 135.95 1225.81 136.71C1227.78 137.45 1230.42 138.39 1232.46 138.87C1234.92 139.44 1238.25 139.99 1240.76 140.2C1244.24 140.49 1248.9 140.48 1252.39 140.53C1255.69 140.58 1260.1 140.53 1263.4 140.53" fill="none" stroke="#3daa42" stroke-width="0.8" stroke-linejoin="round"/>
<path d="M1003.22 138.87C1007.2 138.23 1012.5 137.37 1016.51 137.04M1021.5 137.38C1023.54 137.78 1026.07 139.14 1028.14 139.37M1039.77 139.37C1041.31 139.25 1043.31 138.61 1044.75 138.04C1046.82 137.21 1049.35 135.6 1051.4 134.72C1052.84 134.1 1054.82 133.28 1056.38 133.06M1063.02 133.06C1065.04 132.88 1067.67 132.22 1069.67 131.89C1071.66 131.57 1074.4 131.53 1076.31 130.9C1077.94 130.36 1079.92 129.1 1081.3 128.07C1082.93 126.85 1084.51 124.45 1086.28 123.42C1087.61 122.65 1089.86 122.89 1091.26 122.26C1092.9 121.52 1094.83 120.05 1096.25 118.94C1098.33 117.3 1101.08 115.06 1102.89 113.12C1104.59 111.3 1106.38 108.47 1107.87 106.48C1109.37 104.49 1111.01 101.51 1112.86 99.83C1113.85 98.93 1116.06 99.12 1117.01 98.17C1118.67 96.51 1119.87 93.49 1121.16 91.53C1122.11 90.1 1122.91 87.55 1124.49 86.88C1125.39 86.49 1126.01 89.25 1126.98 89.04C1128.82 88.63 1130.14 84.72 1131.96 85.22C1134.15 85.81 1134.46 89.97 1136.11 91.53C1136.52 91.91 1137.48 91.17 1137.77 90.7C1139.53 87.85 1140.8 83.44 1142.76 80.73C1143.86 79.2 1146.11 77.86 1147.74 76.91C1149.13 76.1 1151.23 75.51 1152.72 74.92C1153.97 74.42 1155.56 73.02 1156.88 73.26C1158.2 73.49 1158.94 75.78 1160.2 76.25C1161.14 76.6 1162.51 75.75 1163.52 75.75C1164.53 75.75 1166.21 75.47 1166.84 76.25C1168.66 78.47 1169.4 82.5 1171 84.88C1172.17 86.64 1174.17 88.78 1175.98 89.87C1176.83 90.38 1178.52 89.24 1179.3 89.87C1181.25 91.42 1182.9 94.44 1184.29 96.51C1185.9 98.93 1187.3 102.68 1189.27 104.82C1190.4 106.05 1193.07 106.13 1194.25 107.31C1196.16 109.21 1197.64 112.61 1199.24 114.78C1201.13 117.35 1203.76 120.7 1205.88 123.09C1207.75 125.2 1210.34 127.96 1212.52 129.73C1214.35 131.22 1217.09 132.79 1219.17 133.89C1221.09 134.89 1223.79 135.95 1225.81 136.71C1227.78 137.45 1230.42 138.39 1232.46 138.87" fill="none" stroke="#1a961f" stroke-width="1.45" stroke-linejoin="round" stroke-linecap="round"/>
<path d="M976.4 180.73C998.4 180.73 1027.74 181.29 1049.73 180.73C1051.34 180.69 1053.35 179.58 1054.72 178.74C1056.37 177.72 1058.27 175.9 1059.7 174.58C1061.26 173.16 1063.14 171.05 1064.68 169.6C1065.64 168.71 1066.77 167.19 1068.01 166.78C1069.9 166.15 1072.75 166.9 1074.65 166.28C1076.36 165.72 1078.31 164.17 1079.63 162.96C1081.33 161.4 1082.82 158.58 1084.62 157.14C1085.42 156.5 1086.91 156.31 1087.94 156.31C1089.46 156.31 1091.43 156.89 1092.92 157.14C1094.42 157.39 1096.6 158.74 1097.91 157.97C1100.06 156.72 1101.3 153.24 1102.89 151.33C1104.29 149.65 1106.17 147.38 1107.87 146.01C1108.71 145.34 1110.54 145.53 1111.2 144.68C1112.9 142.48 1113.53 138.49 1115.35 136.38C1116.2 135.39 1118.27 135.5 1119.5 135.05C1121.01 134.5 1123.59 134.39 1124.49 133.06C1126.55 129.98 1126.94 124.72 1128.64 121.43C1128.87 120.98 1130 121.35 1130.3 121.76C1131.59 123.57 1132.27 126.63 1133.62 128.41C1134.11 129.05 1135.38 129.07 1136.11 129.4C1137.13 129.87 1138.52 131.7 1139.44 131.06C1141.19 129.84 1141.71 126.62 1142.76 124.75C1143.61 123.23 1144.07 120.25 1145.75 119.77C1147.01 119.41 1147.49 122.36 1148.57 123.09C1149.42 123.66 1150.87 124.03 1151.89 123.92C1153.23 123.77 1154.82 121.71 1156.05 122.26C1157.69 122.99 1158.1 125.97 1159.37 127.24C1160.64 128.51 1162.8 129.66 1164.35 130.56C1165.8 131.41 1168.1 131.93 1169.34 133.06C1171.17 134.74 1172.73 137.78 1174.32 139.7C1176.23 142.02 1178.6 145.32 1180.96 147.18C1182.2 148.15 1184.79 147.77 1185.95 148.84C1187.93 150.66 1189.33 154.14 1190.93 156.31C1192.82 158.88 1195.45 162.23 1197.57 164.62C1199.45 166.72 1202.03 169.48 1204.22 171.26C1206.04 172.74 1208.71 174.47 1210.86 175.42C1212.75 176.24 1215.48 176.75 1217.51 177.08C1219.48 177.4 1222.18 177.25 1224.15 177.57C1226.18 177.9 1228.77 178.9 1230.8 179.24C1234.26 179.8 1238.92 180.4 1242.43 180.56C1248.71 180.85 1257.11 180.68 1263.4 180.73" fill="none" stroke="#3daa42" stroke-width="0.8" stroke-linejoin="round"/>
<path d="M1054.72 178.74C1056.37 177.72 1058.27 175.9 1059.7 174.58C1061.26 173.16 1063.14 171.05 1064.68 169.6C1065.64 168.71 1066.77 167.19 1068.01 166.78C1069.9 166.15 1072.75 166.9 1074.65 166.28C1076.36 165.72 1078.31 164.17 1079.63 162.96C1081.33 161.4 1082.82 158.58 1084.62 157.14C1085.42 156.5 1086.91 156.31 1087.94 156.31C1089.46 156.31 1091.43 156.89 1092.92 157.14C1094.42 157.39 1096.6 158.74 1097.91 157.97C1100.06 156.72 1101.3 153.24 1102.89 151.33C1104.29 149.65 1106.17 147.38 1107.87 146.01C1108.71 145.34 1110.54 145.53 1111.2 144.68C1112.9 142.48 1113.53 138.49 1115.35 136.38C1116.2 135.39 1118.27 135.5 1119.5 135.05C1121.01 134.5 1123.59 134.39 1124.49 133.06C1126.55 129.98 1126.94 124.72 1128.64 121.43C1128.87 120.98 1130 121.35 1130.3 121.76C1131.59 123.57 1132.27 126.63 1133.62 128.41C1134.11 129.05 1135.38 129.07 1136.11 129.4C1137.13 129.87 1138.52 131.7 1139.44 131.06C1141.19 129.84 1141.71 126.62 1142.76 124.75C1143.61 123.23 1144.07 120.25 1145.75 119.77C1147.01 119.41 1147.49 122.36 1148.57 123.09C1149.42 123.66 1150.87 124.03 1151.89 123.92C1153.23 123.77 1154.82 121.71 1156.05 122.26C1157.69 122.99 1158.1 125.97 1159.37 127.24C1160.64 128.51 1162.8 129.66 1164.35 130.56C1165.8 131.41 1168.1 131.93 1169.34 133.06C1171.17 134.74 1172.73 137.78 1174.32 139.7C1176.23 142.02 1178.6 145.32 1180.96 147.18C1182.2 148.15 1184.79 147.77 1185.95 148.84C1187.93 150.66 1189.33 154.14 1190.93 156.31C1192.82 158.88 1195.45 162.23 1197.57 164.62C1199.45 166.72 1202.03 169.48 1204.22 171.26C1206.04 172.74 1208.71 174.47 1210.86 175.42C1212.75 176.24 1215.48 176.75 1217.51 177.08M1224.15 177.57C1226.18 177.9 1228.77 178.9 1230.8 179.24" fill="none" stroke="#1a961f" stroke-width="1.45" stroke-linejoin="round" stroke-linecap="round"/>
<path d="M976.4 221.26C981.96 220.96 989.35 220.34 994.92 220.27C999.9 220.2 1006.54 220.68 1011.53 220.76C1019 220.88 1028.97 221.12 1036.45 220.93C1042.44 220.77 1050.45 220.46 1056.38 219.6C1059.47 219.16 1063.37 217.55 1066.35 216.61C1069.35 215.66 1073.34 214.34 1076.31 213.29C1077.83 212.75 1079.69 211.43 1081.3 211.3C1082.83 211.17 1084.74 212.41 1086.28 212.46C1087.79 212.51 1089.91 212.31 1091.26 211.63C1093 210.76 1094.93 208.91 1096.25 207.48C1097.94 205.64 1099.73 202.82 1101.23 200.83C1101.72 200.18 1102.26 199.19 1102.89 198.67C1104.28 197.53 1106.13 195.78 1107.87 195.35C1109.34 194.98 1111.58 197 1112.86 196.18C1115.54 194.45 1117.62 190.45 1119.5 187.87C1121.62 184.97 1123.78 180.61 1126.15 177.91C1127.33 176.55 1129.96 175.95 1131.13 174.58C1133.02 172.38 1134.42 168.64 1136.11 166.28C1136.93 165.13 1138.17 163.59 1139.44 162.96C1140.79 162.28 1143.19 163.02 1144.42 162.13C1146.29 160.77 1146.77 156.21 1149.07 155.98C1151 155.79 1151.29 160 1152.72 161.3C1153.96 162.42 1156.33 162.84 1157.71 163.79C1159.6 165.09 1161.47 167.74 1163.52 168.77C1165.1 169.56 1167.76 168.81 1169.34 169.6C1170.91 170.39 1172.53 172.27 1173.49 173.75C1175.3 176.56 1176.22 181.25 1178.47 183.72C1179.16 184.48 1181.07 182.16 1181.79 182.89C1183.76 184.86 1184.49 188.82 1185.95 191.2C1187.25 193.32 1189.38 195.89 1190.93 197.84C1191.87 199.03 1193.31 200.47 1194.25 201.66C1195.8 203.61 1197.54 206.48 1199.24 208.31C1201.04 210.24 1203.62 212.74 1205.88 214.12C1208.17 215.52 1211.61 216.69 1214.19 217.44C1217.11 218.29 1221.13 219.04 1224.15 219.44C1227.62 219.89 1232.29 220.08 1235.78 220.27C1240.76 220.53 1247.41 220.81 1252.39 220.93C1255.69 221.01 1260.1 220.93 1263.4 220.93" fill="none" stroke="#3daa42" stroke-width="0.8" stroke-linejoin="round"/>
<path d="M1056.38 219.6C1059.47 219.16 1063.37 217.55 1066.35 216.61C1069.35 215.66 1073.34 214.34 1076.31 213.29C1077.83 212.75 1079.69 211.43 1081.3 211.3C1082.83 211.17 1084.74 212.41 1086.28 212.46C1087.79 212.51 1089.91 212.31 1091.26 211.63C1093 210.76 1094.93 208.91 1096.25 207.48C1097.94 205.64 1099.73 202.82 1101.23 200.83C1101.72 200.18 1102.26 199.19 1102.89 198.67C1104.28 197.53 1106.13 195.78 1107.87 195.35C1109.34 194.98 1111.58 197 1112.86 196.18C1115.54 194.45 1117.62 190.45 1119.5 187.87C1121.62 184.97 1123.78 180.61 1126.15 177.91C1127.33 176.55 1129.96 175.95 1131.13 174.58C1133.02 172.38 1134.42 168.64 1136.11 166.28C1136.93 165.13 1138.17 163.59 1139.44 162.96C1140.79 162.28 1143.19 163.02 1144.42 162.13C1146.29 160.77 1146.77 156.21 1149.07 155.98C1151 155.79 1151.29 160 1152.72 161.3C1153.96 162.42 1156.33 162.84 1157.71 163.79C1159.6 165.09 1161.47 167.74 1163.52 168.77C1165.1 169.56 1167.76 168.81 1169.34 169.6C1170.91 170.39 1172.53 172.27 1173.49 173.75C1175.3 176.56 1176.22 181.25 1178.47 183.72C1179.16 184.48 1181.07 182.16 1181.79 182.89C1183.76 184.86 1184.49 188.82 1185.95 191.2C1187.25 193.32 1189.38 195.89 1190.93 197.84C1191.87 199.03 1193.31 200.47 1194.25 201.66C1195.8 203.61 1197.54 206.48 1199.24 208.31C1201.04 210.24 1203.62 212.74 1205.88 214.12C1208.17 215.52 1211.61 216.69 1214.19 217.44C1217.11 218.29 1221.13 219.04 1224.15 219.44" fill="none" stroke="#1a961f" stroke-width="1.45" stroke-linejoin="round" stroke-linecap="round"/>
<path d="M976.4 261.46C979.46 261.06 983.55 260.54 986.61 260.13C989.1 259.8 992.4 259.02 994.92 258.97C997.42 258.92 1000.72 259.73 1003.22 259.8C1006.21 259.88 1010.2 259.58 1013.19 259.47C1016.68 259.33 1021.36 259.49 1024.82 258.97C1027.39 258.58 1030.63 257.23 1033.12 256.48C1035.61 255.73 1038.88 254.5 1041.43 253.99C1043.39 253.59 1046.13 253.97 1048.07 253.49C1050.17 252.96 1052.71 251.49 1054.72 250.66C1057.2 249.64 1060.49 248.23 1063.02 247.34C1065.48 246.48 1068.9 245.79 1071.33 244.85C1073.41 244.04 1075.87 242.28 1077.97 241.53C1079.4 241.02 1081.66 241.48 1082.96 240.7C1084.32 239.88 1085.15 237.67 1086.28 236.54C1088.15 234.67 1090.72 232.2 1092.92 230.73C1093.78 230.16 1095.49 230.59 1096.25 229.9C1098.6 227.74 1100.95 224.13 1102.89 221.59C1104.19 219.89 1105.13 216.74 1107.04 215.78C1108.24 215.18 1109.97 216.89 1111.2 217.44C1112.72 218.13 1114.54 220.26 1116.18 219.93C1117.74 219.62 1118.37 216.91 1119.5 215.78C1120.88 214.4 1123.05 212.94 1124.49 211.63C1126.04 210.2 1127.97 208.14 1129.47 206.64C1130.96 205.15 1132.96 203.16 1134.45 201.66C1135.45 200.66 1136.86 199.41 1137.77 198.34C1138.36 197.66 1138.56 196.07 1139.44 195.85C1140.91 195.48 1143.16 195.84 1144.42 196.68C1145.63 197.48 1146.26 199.53 1146.91 200.83C1147.76 202.53 1147.86 205.54 1149.4 206.64C1150.31 207.29 1151.88 205.71 1152.72 204.98C1153.67 204.17 1153.98 201.51 1155.22 201.66C1156.96 201.88 1157.9 204.84 1159.37 205.81C1160.22 206.38 1161.96 205.92 1162.69 206.64C1164.11 208.07 1164.9 210.79 1166.01 212.46C1166.9 213.79 1167.87 215.98 1169.34 216.61C1170.16 216.97 1171.19 214.31 1171.83 214.95C1173.8 216.92 1174.2 221.12 1175.98 223.26C1176.84 224.29 1179.18 223.97 1180.13 224.92C1181.8 226.58 1183.01 229.58 1184.29 231.56C1185.26 233.07 1186.2 235.42 1187.61 236.54C1188.84 237.53 1191.38 237.2 1192.59 238.21C1194.51 239.8 1195.95 242.96 1197.57 244.85C1198.95 246.46 1200.95 248.46 1202.56 249.83C1204.45 251.46 1207.02 253.61 1209.2 254.82C1211.55 256.12 1214.95 257.33 1217.51 258.14C1220.45 259.07 1224.43 260.16 1227.48 260.63C1230.93 261.16 1235.61 261.38 1239.1 261.46C1246.39 261.63 1256.11 261.46 1263.4 261.46" fill="none" stroke="#3daa42" stroke-width="0.8" stroke-linejoin="round"/>
<path d="M986.61 260.13C989.1 259.8 992.4 259.02 994.92 258.97M1024.82 258.97C1027.39 258.58 1030.63 257.23 1033.12 256.48C1035.61 255.73 1038.88 254.5 1041.43 253.99M1048.07 253.49C1050.17 252.96 1052.71 251.49 1054.72 250.66C1057.2 249.64 1060.49 248.23 1063.02 247.34C1065.48 246.48 1068.9 245.79 1071.33 244.85C1073.41 244.04 1075.87 242.28 1077.97 241.53C1079.4 241.02 1081.66 241.48 1082.96 240.7C1084.32 239.88 1085.15 237.67 1086.28 236.54C1088.15 234.67 1090.72 232.2 1092.92 230.73C1093.78 230.16 1095.49 230.59 1096.25 229.9C1098.6 227.74 1100.95 224.13 1102.89 221.59C1104.19 219.89 1105.13 216.74 1107.04 215.78C1108.24 215.18 1109.97 216.89 1111.2 217.44C1112.72 218.13 1114.54 220.26 1116.18 219.93C1117.74 219.62 1118.37 216.91 1119.5 215.78C1120.88 214.4 1123.05 212.94 1124.49 211.63C1126.04 210.2 1127.97 208.14 1129.47 206.64C1130.96 205.15 1132.96 203.16 1134.45 201.66C1135.45 200.66 1136.86 199.41 1137.77 198.34C1138.36 197.66 1138.56 196.07 1139.44 195.85C1140.91 195.48 1143.16 195.84 1144.42 196.68C1145.63 197.48 1146.26 199.53 1146.91 200.83C1147.76 202.53 1147.86 205.54 1149.4 206.64C1150.31 207.29 1151.88 205.71 1152.72 204.98C1153.67 204.17 1153.98 201.51 1155.22 201.66C1156.96 201.88 1157.9 204.84 1159.37 205.81C1160.22 206.38 1161.96 205.92 1162.69 206.64C1164.11 208.07 1164.9 210.79 1166.01 212.46C1166.9 213.79 1167.87 215.98 1169.34 216.61C1170.16 216.97 1171.19 214.31 1171.83 214.95C1173.8 216.92 1174.2 221.12 1175.98 223.26C1176.84 224.29 1179.18 223.97 1180.13 224.92C1181.8 226.58 1183.01 229.58 1184.29 231.56C1185.26 233.07 1186.2 235.42 1187.61 236.54C1188.84 237.53 1191.38 237.2 1192.59 238.21C1194.51 239.8 1195.95 242.96 1197.57 244.85C1198.95 246.46 1200.95 248.46 1202.56 249.83C1204.45 251.46 1207.02 253.61 1209.2 254.82C1211.55 256.12 1214.95 257.33 1217.51 258.14C1220.45 259.07 1224.43 260.16 1227.48 260.63" fill="none" stroke="#1a961f" stroke-width="1.45" stroke-linejoin="round" stroke-linecap="round"/>
<path d="M976.4 301.33C980.46 301.08 985.87 300.69 989.93 300.5C993.42 300.34 998.12 300.74 1001.56 300.17C1004.17 299.73 1007.39 298.12 1009.87 297.18C1012.38 296.22 1015.83 295.17 1018.17 293.85C1019.87 292.9 1021.89 291.18 1023.16 289.7C1024.91 287.65 1026.39 284.27 1028.14 282.23C1029.41 280.75 1032.04 279.69 1033.12 278.07C1034.61 275.84 1035.6 272.31 1036.45 269.77C1037.59 266.33 1038.42 261.51 1039.77 258.14C1040.43 256.47 1042.2 254.72 1043.09 253.16C1044.2 251.22 1045.47 248.53 1046.41 246.51C1047.21 244.79 1047.64 242.12 1048.9 240.7C1049.8 239.69 1051.78 239.46 1053.06 239.04C1054.03 238.71 1055.36 238.08 1056.38 238.21C1057.48 238.34 1058.62 240.14 1059.7 239.87C1061.07 239.53 1061.62 236.72 1063.02 236.54C1064.26 236.39 1065.15 238.68 1066.35 239.04C1067.31 239.33 1068.72 238.18 1069.67 238.54C1070.92 239.01 1071.76 242.05 1072.99 241.53C1074.84 240.74 1074.36 236.2 1076.31 235.71C1077.86 235.33 1078.05 240.03 1079.63 239.87C1081.74 239.66 1082.5 234.88 1084.62 234.88C1086.41 234.88 1086.27 239.2 1087.94 239.87C1089.4 240.45 1091.35 238.21 1092.92 238.21C1094.5 238.21 1096.41 239.37 1097.91 239.87C1099.4 240.37 1101.46 242.18 1102.89 241.53C1104.84 240.64 1104.91 235.93 1107.04 235.71C1108.98 235.52 1109.66 239.5 1111.2 240.7C1112.01 241.33 1113.5 241.64 1114.52 241.53C1115.85 241.38 1117.47 239.27 1118.67 239.87C1120.59 240.83 1121.09 244.42 1122.82 245.68C1124.05 246.57 1126.59 245.6 1127.81 246.51C1129.8 248.01 1131.35 251.12 1132.79 253.16C1134.34 255.36 1136.09 258.53 1137.77 260.63C1139.09 262.28 1141.08 264.33 1142.76 265.61C1144.35 266.84 1146.57 268.77 1148.57 268.94C1150.02 269.06 1151.35 265.99 1152.72 266.45C1154.43 267.01 1155.09 269.9 1156.05 271.43C1157.59 273.89 1158.98 277.68 1161.03 279.73C1162.14 280.85 1164.5 280.96 1166.01 281.4C1167.99 281.96 1170.77 282.25 1172.66 283.06C1174.31 283.76 1176.28 285.21 1177.64 286.38C1179.78 288.21 1182.03 291.33 1184.29 293.02C1186.07 294.36 1188.86 295.52 1190.93 296.35C1193.86 297.52 1197.8 299.07 1200.9 299.67C1204.33 300.33 1209.03 300.28 1212.52 300.5C1217.01 300.78 1222.98 301.26 1227.48 301.33C1238.25 301.5 1252.62 301.33 1263.4 301.33" fill="none" stroke="#3daa42" stroke-width="0.8" stroke-linejoin="round"/>
<path d="M1001.56 300.17C1004.17 299.73 1007.39 298.12 1009.87 297.18C1012.38 296.22 1015.83 295.17 1018.17 293.85C1019.87 292.9 1021.89 291.18 1023.16 289.7C1024.91 287.65 1026.39 284.27 1028.14 282.23C1029.41 280.75 1032.04 279.69 1033.12 278.07C1034.61 275.84 1035.6 272.31 1036.45 269.77C1037.59 266.33 1038.42 261.51 1039.77 258.14C1040.43 256.47 1042.2 254.72 1043.09 253.16C1044.2 251.22 1045.47 248.53 1046.41 246.51C1047.21 244.79 1047.64 242.12 1048.9 240.7C1049.8 239.69 1051.78 239.46 1053.06 239.04C1054.03 238.71 1055.36 238.08 1056.38 238.21C1057.48 238.34 1058.62 240.14 1059.7 239.87C1061.07 239.53 1061.62 236.72 1063.02 236.54C1064.26 236.39 1065.15 238.68 1066.35 239.04C1067.31 239.33 1068.72 238.18 1069.67 238.54C1070.92 239.01 1071.76 242.05 1072.99 241.53C1074.84 240.74 1074.36 236.2 1076.31 235.71C1077.86 235.33 1078.05 240.03 1079.63 239.87C1081.74 239.66 1082.5 234.88 1084.62 234.88C1086.41 234.88 1086.27 239.2 1087.94 239.87C1089.4 240.45 1091.35 238.21 1092.92 238.21C1094.5 238.21 1096.41 239.37 1097.91 239.87C1099.4 240.37 1101.46 242.18 1102.89 241.53C1104.84 240.64 1104.91 235.93 1107.04 235.71C1108.98 235.52 1109.66 239.5 1111.2 240.7C1112.01 241.33 1113.5 241.64 1114.52 241.53C1115.85 241.38 1117.47 239.27 1118.67 239.87C1120.59 240.83 1121.09 244.42 1122.82 245.68C1124.05 246.57 1126.59 245.6 1127.81 246.51C1129.8 248.01 1131.35 251.12 1132.79 253.16C1134.34 255.36 1136.09 258.53 1137.77 260.63C1139.09 262.28 1141.08 264.33 1142.76 265.61C1144.35 266.84 1146.57 268.77 1148.57 268.94C1150.02 269.06 1151.35 265.99 1152.72 266.45C1154.43 267.01 1155.09 269.9 1156.05 271.43C1157.59 273.89 1158.98 277.68 1161.03 279.73C1162.14 280.85 1164.5 280.96 1166.01 281.4C1167.99 281.96 1170.77 282.25 1172.66 283.06C1174.31 283.76 1176.28 285.21 1177.64 286.38C1179.78 288.21 1182.03 291.33 1184.29 293.02C1186.07 294.36 1188.86 295.52 1190.93 296.35C1193.86 297.52 1197.8 299.07 1200.9 299.67" fill="none" stroke="#1a961f" stroke-width="1.45" stroke-linejoin="round" stroke-linecap="round"/>
<path d="M976.4 342.52C980.46 342.13 985.88 341.7 989.93 341.2C993.93 340.7 999.29 340.11 1003.22 339.2C1005.8 338.61 1009.19 337.46 1011.53 336.21C1013.73 335.04 1016.53 333.1 1018.17 331.23C1020.09 329.04 1021.27 325.13 1023.16 322.92C1024.33 321.56 1026.97 320.97 1028.14 319.6C1030.03 317.4 1032.01 313.98 1033.12 311.3C1034.52 307.95 1035.21 303.08 1036.45 299.67C1037.21 297.57 1038.53 294.88 1039.77 293.02C1040.55 291.85 1042.04 290.64 1043.09 289.7C1044.28 288.64 1046.38 287.72 1047.24 286.38C1048.69 284.12 1048.53 279.82 1050.56 278.07C1051.51 277.26 1051.81 281.4 1053.06 281.4C1054.47 281.4 1055.33 279.02 1056.38 278.07C1057.83 276.77 1059.46 274.34 1061.36 273.92C1062.39 273.69 1063.46 275.43 1063.85 276.41C1065 279.27 1065.17 283.53 1066.35 286.38C1066.95 287.85 1068.65 289.31 1069.67 290.53C1071.14 292.3 1073.33 294.47 1074.65 296.35C1076.33 298.72 1078.09 302.19 1079.63 304.65C1080.59 306.17 1081.75 308.31 1082.96 309.63C1084.27 311.07 1086.2 312.92 1087.94 313.79C1089.3 314.47 1091.66 313.78 1092.92 314.62C1094.83 315.89 1096.35 318.74 1097.91 320.43C1099.1 321.73 1100.42 323.93 1102.06 324.58C1103.24 325.06 1104.97 323.47 1106.21 323.75C1108.38 324.26 1110.86 326.08 1112.86 327.08C1114.85 328.07 1117.42 329.59 1119.5 330.4C1121.93 331.34 1125.32 332.14 1127.81 332.89C1130.3 333.64 1133.62 334.63 1136.11 335.38C1138.6 336.13 1141.89 337.24 1144.42 337.87C1146.88 338.49 1150.2 339.23 1152.72 339.53C1157.69 340.13 1164.34 340.66 1169.34 340.86C1179.3 341.26 1192.59 341.35 1202.56 341.53C1220.81 341.85 1245.15 342.23 1263.4 342.52" fill="none" stroke="#3daa42" stroke-width="0.8" stroke-linejoin="round"/>
<path d="M989.93 341.2C993.93 340.7 999.29 340.11 1003.22 339.2C1005.8 338.61 1009.19 337.46 1011.53 336.21C1013.73 335.04 1016.53 333.1 1018.17 331.23C1020.09 329.04 1021.27 325.13 1023.16 322.92C1024.33 321.56 1026.97 320.97 1028.14 319.6C1030.03 317.4 1032.01 313.98 1033.12 311.3C1034.52 307.95 1035.21 303.08 1036.45 299.67C1037.21 297.57 1038.53 294.88 1039.77 293.02C1040.55 291.85 1042.04 290.64 1043.09 289.7C1044.28 288.64 1046.38 287.72 1047.24 286.38C1048.69 284.12 1048.53 279.82 1050.56 278.07C1051.51 277.26 1051.81 281.4 1053.06 281.4C1054.47 281.4 1055.33 279.02 1056.38 278.07C1057.83 276.77 1059.46 274.34 1061.36 273.92C1062.39 273.69 1063.46 275.43 1063.85 276.41C1065 279.27 1065.17 283.53 1066.35 286.38C1066.95 287.85 1068.65 289.31 1069.67 290.53C1071.14 292.3 1073.33 294.47 1074.65 296.35C1076.33 298.72 1078.09 302.19 1079.63 304.65C1080.59 306.17 1081.75 308.31 1082.96 309.63C1084.27 311.07 1086.2 312.92 1087.94 313.79C1089.3 314.47 1091.66 313.78 1092.92 314.62C1094.83 315.89 1096.35 318.74 1097.91 320.43C1099.1 321.73 1100.42 323.93 1102.06 324.58C1103.24 325.06 1104.97 323.47 1106.21 323.75C1108.38 324.26 1110.86 326.08 1112.86 327.08C1114.85 328.07 1117.42 329.59 1119.5 330.4C1121.93 331.34 1125.32 332.14 1127.81 332.89C1130.3 333.64 1133.62 334.63 1136.11 335.38C1138.6 336.13 1141.89 337.24 1144.42 337.87C1146.88 338.49 1150.2 339.23 1152.72 339.53" fill="none" stroke="#1a961f" stroke-width="1.45" stroke-linejoin="round" stroke-linecap="round"/>
</g>
<line x1="1082.5" y1="53" x2="1082.5" y2="339.6" stroke="#4a4a4a" stroke-width="1" />
<text transform="translate(1259 133.9) scale(0.982 1)" font-size="29.4" text-anchor="end" fill="#000" stroke="#000" stroke-width="0.42" >95.0</text>
<text transform="translate(1259 177) scale(0.982 1)" font-size="29.4" text-anchor="end" fill="#000" stroke="#000" stroke-width="0.42" >94.0</text>
<text transform="translate(1259 213.5) scale(0.982 1)" font-size="29.4" text-anchor="end" fill="#000" stroke="#000" stroke-width="0.42" >96.8</text>
<text transform="translate(1259 256.3) scale(0.982 1)" font-size="29.4" text-anchor="end" fill="#000" stroke="#000" stroke-width="0.42" >90.7</text>
<text transform="translate(1259 290.3) scale(0.982 1)" font-size="29.4" text-anchor="end" fill="#000" stroke="#000" stroke-width="0.42" >64.1</text>
<text transform="translate(1259 333) scale(0.982 1)" font-size="29.4" text-anchor="end" fill="#000" stroke="#000" stroke-width="0.42" >31.8</text>
</g>
<g id="hist-g2">
<clipPath id="clip-g2"><rect x="1269.5" y="52.6" width="288.2" height="290"/></clipPath>
<rect x="1269.5" y="52.6" width="288.2" height="287" fill="#fff" stroke="#8a8a8a" stroke-width="1"/>
<g clip-path="url(#clip-g2)">
<path d="M1269.5 140.53C1284.1 140.53 1303.57 140.98 1318.16 140.53C1319.73 140.48 1321.73 139.58 1323.14 138.87C1324.75 138.07 1326.56 136.44 1328.12 135.55C1330.06 134.44 1332.83 133.32 1334.77 132.23C1336.82 131.07 1339.43 129.34 1341.41 128.07C1342.92 127.1 1344.92 125.77 1346.4 124.75C1347.66 123.88 1349.08 122.2 1350.55 121.76C1351.75 121.4 1353.6 122.86 1354.7 122.26C1356.41 121.33 1357.11 118.15 1358.85 117.28C1360.41 116.5 1363 117.79 1364.67 117.28C1366.39 116.75 1368.33 115.17 1369.65 113.95C1371.34 112.4 1372.8 109.52 1374.63 108.14C1375.9 107.19 1378.45 107.54 1379.62 106.48C1381.36 104.9 1382.02 101.41 1383.77 99.83C1384.72 98.98 1386.9 99.75 1387.92 99C1389.78 97.65 1391.28 94.81 1392.91 93.19C1394.28 91.81 1396.46 90.35 1397.89 89.04C1399.45 87.61 1401.45 85.62 1402.87 84.05C1403.95 82.87 1404.76 80.6 1406.2 79.9C1407.32 79.35 1409.12 80.64 1410.35 80.4C1411.73 80.12 1413.18 78.71 1414.5 78.24C1415.7 77.81 1417.65 78.19 1418.65 77.41C1420.07 76.31 1420.61 73.59 1421.98 72.43C1422.54 71.94 1423.94 72.95 1424.47 72.43C1425.89 71 1425.8 66.86 1427.79 66.61C1429.57 66.39 1430.08 70.12 1431.11 71.59C1431.83 72.62 1432.54 74.28 1433.6 74.92C1434.25 75.3 1435.63 73.99 1436.1 74.58C1437.66 76.59 1437.9 80.35 1439.42 82.39C1439.87 82.99 1441.19 82.6 1441.91 82.39C1442.98 82.09 1444.13 80.61 1445.23 80.73C1446.68 80.89 1448.06 82.62 1449.39 83.22C1450.82 83.87 1453.14 83.9 1454.37 84.88C1455.77 86.01 1456.82 88.3 1457.69 89.87C1459.31 92.79 1460.7 97.14 1462.67 99.83C1463.53 101.01 1465.8 101.3 1466.83 102.33C1468.34 103.84 1469.46 106.62 1470.98 108.14C1472.01 109.17 1474.16 109.56 1475.13 110.63C1476.71 112.37 1477.62 115.61 1479.29 117.28C1480.47 118.46 1482.93 118.76 1484.27 119.77C1485.96 121.04 1487.63 123.4 1489.25 124.75C1490.63 125.9 1492.68 127.18 1494.24 128.07C1496.17 129.18 1498.89 130.4 1500.88 131.4C1502.87 132.39 1505.48 133.82 1507.52 134.72C1509.48 135.57 1512.11 136.65 1514.17 137.21C1517.11 138 1521.11 138.81 1524.14 139.2C1528.1 139.71 1533.43 140.04 1537.43 140.2C1543.5 140.44 1551.62 140.43 1557.7 140.53L1557.7 140.53L1269.5 140.53Z" fill="rgba(10,145,15,0.23)" stroke="none"/>
<path d="M1269.5 180.73C1290.58 180.73 1318.68 181.15 1339.75 180.73C1341.31 180.7 1343.28 179.8 1344.73 179.24C1346.77 178.45 1349.52 177.39 1351.38 176.25C1353.04 175.23 1354.99 173.47 1356.36 172.09C1357.99 170.47 1359.85 168.02 1361.35 166.28C1362.84 164.53 1364.7 162.09 1366.33 160.47C1367.7 159.09 1370.07 157.81 1371.31 156.31C1372.6 154.77 1373.52 152.17 1374.63 150.5C1376.02 148.43 1377.52 145.19 1379.62 143.85C1380.69 143.17 1382.55 145.05 1383.77 144.68C1385.3 144.23 1386.63 142.3 1387.92 141.36C1389.38 140.31 1391.41 139.04 1392.91 138.04C1394.4 137.04 1396.73 136.09 1397.89 134.72C1399.55 132.76 1400.4 129.21 1402.04 127.24C1402.97 126.13 1405.17 125.78 1406.2 124.75C1407.47 123.48 1408.46 121.22 1409.52 119.77C1410.46 118.48 1411.26 115.84 1412.84 115.61C1414.07 115.44 1414.1 118.76 1415.33 118.94C1416.57 119.11 1417.6 117.11 1418.65 116.45C1419.6 115.85 1420.87 114.87 1421.98 114.78C1423.03 114.71 1424.25 115.88 1425.3 115.95C1426.56 116.03 1428.23 115.61 1429.45 115.28C1430.49 115.01 1431.88 113.35 1432.77 113.95C1434.44 115.08 1434.72 118.31 1436.1 119.77C1436.61 120.32 1437.86 120.31 1438.59 120.1C1439.71 119.78 1440.77 117.88 1441.91 118.11C1443.29 118.38 1444.39 120.3 1445.23 121.43C1446.64 123.31 1447.93 126.22 1449.39 128.07C1450.69 129.74 1452.99 131.45 1454.37 133.06C1455.99 134.95 1457.5 138.03 1459.35 139.7C1460.12 140.39 1461.95 139.81 1462.67 140.53C1464.58 142.44 1466.1 145.8 1467.66 148.01C1469.09 150.04 1471.08 152.71 1472.64 154.65C1474.08 156.44 1476.13 158.72 1477.62 160.47C1479.12 162.21 1480.8 164.86 1482.61 166.28C1484.36 167.66 1487.21 168.71 1489.25 169.6C1491.2 170.45 1493.95 171.24 1495.9 172.09C1497.94 172.99 1500.46 174.61 1502.54 175.42C1504.97 176.36 1508.32 177.29 1510.85 177.91C1513.81 178.63 1517.79 179.53 1520.81 179.9C1524.78 180.38 1530.11 180.64 1534.1 180.73C1541.18 180.89 1550.62 180.73 1557.7 180.73L1557.7 180.73L1269.5 180.73Z" fill="rgba(10,145,15,0.23)" stroke="none"/>
<path d="M1269.5 221.1C1273.13 220.75 1277.99 220.39 1281.61 219.93C1286.61 219.3 1293.21 217.94 1298.22 217.44C1303.19 216.95 1309.85 216.74 1314.83 216.61C1319.82 216.49 1326.49 217.14 1331.45 216.61C1333.56 216.38 1336.11 214.91 1338.09 214.12C1340.1 213.32 1342.65 211.89 1344.73 211.3C1346.67 210.74 1349.41 210.74 1351.38 210.3C1353.41 209.84 1356.09 209.08 1358.02 208.31C1360.09 207.48 1362.71 206.04 1364.67 204.98C1365.95 204.29 1367.7 203.42 1368.82 202.49C1369.72 201.75 1370.6 200.42 1371.31 199.5C1372.84 197.53 1374.46 194.54 1376.3 192.86C1377.53 191.73 1379.78 191.11 1381.28 190.37C1382.28 189.87 1383.77 189.45 1384.6 188.7C1386.31 187.17 1388.43 184.88 1389.58 182.89C1391.21 180.09 1391.56 175.32 1393.74 172.92C1394.59 171.98 1396.73 174.28 1397.89 173.75C1399.82 172.88 1401.06 169.86 1402.87 168.77C1403.73 168.26 1405.42 169.39 1406.2 168.77C1408.14 167.21 1409.34 163.8 1411.18 162.13C1412.17 161.22 1414.23 161.23 1415.33 160.47C1416.78 159.45 1417.94 157.16 1419.49 156.31C1420.82 155.59 1423.02 155.93 1424.47 155.48C1426.28 154.92 1428.46 152.44 1430.28 152.99C1431.88 153.47 1432.03 156.48 1432.77 157.97C1433.77 159.97 1433.93 164.08 1436.1 164.62C1437.84 165.05 1438.03 160.78 1439.42 159.63C1440.2 158.99 1442.03 158.42 1442.74 159.14C1444.41 160.81 1444.53 164.48 1446.06 166.28C1446.93 167.3 1449.34 166.92 1450.22 167.94C1452.47 170.57 1453.85 175.22 1456.03 177.91C1457.16 179.3 1459.69 180.02 1461.01 181.23C1462.71 182.78 1464.62 185.21 1466 187.04C1467.61 189.2 1469.55 192.23 1470.98 194.52C1472.04 196.22 1473.05 198.76 1474.3 200.33C1475.57 201.93 1477.77 203.62 1479.29 204.98C1481.25 206.76 1483.73 209.33 1485.93 210.8C1488.25 212.34 1491.61 214.03 1494.24 214.95C1496.63 215.79 1500.09 215.96 1502.54 216.61C1506.07 217.55 1510.56 219.69 1514.17 220.27C1519.1 221.05 1525.79 221 1530.78 221.1C1538.86 221.25 1549.62 221.1 1557.7 221.1L1557.7 221.1L1269.5 221.1Z" fill="rgba(10,145,15,0.23)" stroke="none"/>
<path d="M1269.5 260.63C1273.13 259.63 1278.09 258.65 1281.61 257.31C1284.26 256.3 1287.32 253.96 1289.92 252.82C1291.33 252.2 1293.69 252.46 1294.9 251.5C1296.85 249.94 1298.3 246.77 1299.88 244.85C1301.79 242.53 1304.69 239.74 1306.53 237.38C1308.18 235.25 1310.12 232.21 1311.51 229.9C1313.12 227.22 1314.89 223.44 1316.5 220.76C1317.88 218.45 1320.23 215.68 1321.48 213.29C1323.23 209.92 1324.96 205.15 1326.46 201.66C1326.96 200.51 1327.37 198.84 1328.12 197.84C1328.67 197.12 1329.91 196.74 1330.61 196.18C1331.66 195.34 1332.63 193.48 1333.94 193.19C1335.21 192.91 1336.78 194.52 1338.09 194.52C1339.16 194.52 1340.34 193.19 1341.41 193.19C1342.96 193.19 1344.85 194.52 1346.4 194.52C1347.7 194.52 1349.27 192.93 1350.55 193.19C1352.05 193.49 1353.4 195.37 1354.7 196.18C1355.65 196.77 1357 198.29 1358.02 197.84C1359.8 197.05 1360.28 193.28 1362.18 192.86C1363.55 192.55 1364.57 195.12 1365.5 196.18C1366.32 197.12 1367.26 198.5 1367.99 199.5C1369 200.89 1370.07 202.97 1371.31 204.15C1372.36 205.16 1374.04 206.36 1375.47 206.64C1376.71 206.89 1378.37 205.59 1379.62 205.81C1381.26 206.11 1383.05 207.68 1384.6 208.31C1385.56 208.69 1386.9 209.24 1387.92 209.14C1389.49 208.98 1391.34 207.61 1392.91 207.48C1394.42 207.35 1396.38 208.15 1397.89 208.31C1398.88 208.4 1400.51 207.6 1401.21 208.31C1403.27 210.36 1404.05 214.65 1406.2 216.61C1407.31 217.64 1409.66 217.5 1411.18 217.44C1412.23 217.4 1413.52 215.89 1414.5 216.28C1416.37 217.03 1417.71 219.82 1419.49 220.76C1420.16 221.12 1421.47 219.7 1421.98 220.27C1423.77 222.28 1424.12 226.44 1426.13 228.24C1427.66 229.61 1431.08 228.74 1432.77 229.9C1435.25 231.6 1437.02 235.58 1439.42 237.38C1441.12 238.65 1444.26 238.74 1446.06 239.87C1448.31 241.27 1450.59 244.09 1452.71 245.68C1454.59 247.09 1457.36 248.59 1459.35 249.83C1461.35 251.08 1463.85 253.03 1466 253.99C1468.37 255.04 1471.82 255.71 1474.3 256.48C1477.8 257.56 1482.34 259.46 1485.93 260.13C1490.36 260.96 1496.38 261.36 1500.88 261.46C1517.92 261.86 1540.65 261.69 1557.7 261.79L1557.7 261.46L1269.5 261.46Z" fill="rgba(10,145,15,0.23)" stroke="none"/>
<path d="M1269.5 301.33C1272.64 300.83 1276.9 300.56 1279.95 299.67C1282.09 299.04 1284.57 297.27 1286.59 296.35C1288.06 295.68 1290.19 295.16 1291.58 294.35C1293.21 293.4 1295.21 291.84 1296.56 290.53C1298.21 288.93 1300.22 286.59 1301.54 284.72C1303.22 282.34 1304.64 278.62 1306.53 276.41C1307.7 275.05 1310.47 274.55 1311.51 273.09C1313.07 270.91 1313.92 267.31 1314.83 264.78C1315.91 261.82 1317.02 257.76 1318.16 254.82C1319.52 251.28 1321.38 246.55 1323.14 243.19C1324.39 240.8 1326.53 237.89 1328.12 235.71C1329.52 233.8 1330.9 230.45 1333.11 229.57C1334.32 229.08 1335.13 232.56 1336.43 232.39C1338.11 232.17 1338.9 228.78 1340.58 228.57C1341.74 228.43 1342.51 230.54 1343.07 231.56C1344.26 233.71 1344.66 237.3 1346.4 239.04C1347.12 239.76 1348.8 237.75 1349.72 238.21C1351.61 239.15 1353.43 241.5 1354.7 243.19C1356.44 245.51 1358.33 248.92 1359.68 251.5C1360.83 253.67 1361.39 257.12 1363.01 258.97C1363.53 259.56 1364.97 257.55 1365.5 258.14C1367.35 260.22 1368.07 264.15 1369.65 266.45C1370.85 268.19 1373.14 269.93 1374.63 271.43C1376.13 272.92 1378.12 274.92 1379.62 276.41C1381.11 277.91 1382.88 280.17 1384.6 281.4C1386.41 282.69 1389.3 283.62 1391.25 284.72C1393.29 285.87 1395.7 288.02 1397.89 288.87C1400.26 289.79 1403.76 289.8 1406.2 290.53C1408.77 291.3 1411.93 293.08 1414.5 293.85C1416.94 294.58 1420.29 295.14 1422.81 295.51C1425.28 295.89 1428.66 295.85 1431.11 296.35C1433.66 296.86 1436.86 298.38 1439.42 298.84C1441.88 299.28 1445.24 299.12 1447.72 299.34C1452.71 299.77 1459.33 300.76 1464.34 301C1474.29 301.46 1487.59 301.59 1497.56 301.66C1515.6 301.79 1539.66 301.66 1557.7 301.66L1557.7 301.66L1269.5 301.66Z" fill="rgba(10,145,15,0.23)" stroke="none"/>
<path d="M1269.5 342.52C1272.14 342.13 1275.7 341.84 1278.29 341.2C1280.36 340.68 1283.03 339.66 1284.93 338.7C1287.04 337.65 1289.7 335.96 1291.58 334.55C1293.7 332.96 1296.46 330.72 1298.22 328.74C1300.47 326.2 1302.99 322.42 1304.87 319.6C1306.48 317.18 1308.55 313.89 1309.85 311.3C1311.55 307.9 1313.24 303.11 1314.83 299.67C1316.23 296.63 1318.32 292.69 1319.82 289.7C1321.31 286.71 1323.31 282.72 1324.8 279.73C1326.05 277.24 1326.86 273.26 1328.95 271.43C1329.75 270.73 1330.44 274.25 1331.45 273.92C1332.82 273.46 1333.07 270.93 1333.94 269.77C1334.57 268.92 1335.48 266.8 1336.43 267.28C1337.92 268.02 1337.89 270.94 1338.92 272.26C1339.69 273.24 1341.3 273.93 1342.24 274.75C1343.3 275.68 1344.16 278.07 1345.56 278.07C1346.81 278.07 1347.18 273.87 1348.06 274.75C1349.9 276.59 1349.66 280.61 1350.55 283.06C1351.66 286.1 1353.03 290.25 1354.7 293.02C1355.34 294.09 1357.36 294.46 1358.02 295.51C1359.91 298.54 1360.95 303.4 1363.01 306.31C1364.04 307.78 1366.81 308.28 1367.99 309.63C1370.36 312.34 1372.39 316.8 1374.63 319.6C1376.4 321.8 1379.09 324.47 1381.28 326.25C1383.1 327.73 1385.78 329.44 1387.92 330.4C1390.3 331.46 1393.72 332.21 1396.23 332.89C1398.7 333.56 1402.05 334.28 1404.53 334.88C1406.53 335.37 1409.13 336.34 1411.18 336.54C1412.19 336.65 1413.5 335.69 1414.5 335.88C1417.09 336.36 1420.23 338.19 1422.81 338.7C1427.74 339.69 1434.41 340.46 1439.42 340.86C1446.88 341.46 1456.85 341.92 1464.34 342.03C1492.34 342.42 1529.69 342.38 1557.7 342.52L1557.7 341.53L1269.5 341.53Z" fill="rgba(10,145,15,0.23)" stroke="none"/>
<path d="M1269.5 140.53C1284.1 140.53 1303.57 140.98 1318.16 140.53C1319.73 140.48 1321.73 139.58 1323.14 138.87C1324.75 138.07 1326.56 136.44 1328.12 135.55C1330.06 134.44 1332.83 133.32 1334.77 132.23C1336.82 131.07 1339.43 129.34 1341.41 128.07C1342.92 127.1 1344.92 125.77 1346.4 124.75C1347.66 123.88 1349.08 122.2 1350.55 121.76C1351.75 121.4 1353.6 122.86 1354.7 122.26C1356.41 121.33 1357.11 118.15 1358.85 117.28C1360.41 116.5 1363 117.79 1364.67 117.28C1366.39 116.75 1368.33 115.17 1369.65 113.95C1371.34 112.4 1372.8 109.52 1374.63 108.14C1375.9 107.19 1378.45 107.54 1379.62 106.48C1381.36 104.9 1382.02 101.41 1383.77 99.83C1384.72 98.98 1386.9 99.75 1387.92 99C1389.78 97.65 1391.28 94.81 1392.91 93.19C1394.28 91.81 1396.46 90.35 1397.89 89.04C1399.45 87.61 1401.45 85.62 1402.87 84.05C1403.95 82.87 1404.76 80.6 1406.2 79.9C1407.32 79.35 1409.12 80.64 1410.35 80.4C1411.73 80.12 1413.18 78.71 1414.5 78.24C1415.7 77.81 1417.65 78.19 1418.65 77.41C1420.07 76.31 1420.61 73.59 1421.98 72.43C1422.54 71.94 1423.94 72.95 1424.47 72.43C1425.89 71 1425.8 66.86 1427.79 66.61C1429.57 66.39 1430.08 70.12 1431.11 71.59C1431.83 72.62 1432.54 74.28 1433.6 74.92C1434.25 75.3 1435.63 73.99 1436.1 74.58C1437.66 76.59 1437.9 80.35 1439.42 82.39C1439.87 82.99 1441.19 82.6 1441.91 82.39C1442.98 82.09 1444.13 80.61 1445.23 80.73C1446.68 80.89 1448.06 82.62 1449.39 83.22C1450.82 83.87 1453.14 83.9 1454.37 84.88C1455.77 86.01 1456.82 88.3 1457.69 89.87C1459.31 92.79 1460.7 97.14 1462.67 99.83C1463.53 101.01 1465.8 101.3 1466.83 102.33C1468.34 103.84 1469.46 106.62 1470.98 108.14C1472.01 109.17 1474.16 109.56 1475.13 110.63C1476.71 112.37 1477.62 115.61 1479.29 117.28C1480.47 118.46 1482.93 118.76 1484.27 119.77C1485.96 121.04 1487.63 123.4 1489.25 124.75C1490.63 125.9 1492.68 127.18 1494.24 128.07C1496.17 129.18 1498.89 130.4 1500.88 131.4C1502.87 132.39 1505.48 133.82 1507.52 134.72C1509.48 135.57 1512.11 136.65 1514.17 137.21C1517.11 138 1521.11 138.81 1524.14 139.2C1528.1 139.71 1533.43 140.04 1537.43 140.2C1543.5 140.44 1551.62 140.43 1557.7 140.53" fill="none" stroke="#3daa42" stroke-width="0.8" stroke-linejoin="round"/>
<path d="M1323.14 138.87C1324.75 138.07 1326.56 136.44 1328.12 135.55C1330.06 134.44 1332.83 133.32 1334.77 132.23C1336.82 131.07 1339.43 129.34 1341.41 128.07C1342.92 127.1 1344.92 125.77 1346.4 124.75C1347.66 123.88 1349.08 122.2 1350.55 121.76C1351.75 121.4 1353.6 122.86 1354.7 122.26C1356.41 121.33 1357.11 118.15 1358.85 117.28C1360.41 116.5 1363 117.79 1364.67 117.28C1366.39 116.75 1368.33 115.17 1369.65 113.95C1371.34 112.4 1372.8 109.52 1374.63 108.14C1375.9 107.19 1378.45 107.54 1379.62 106.48C1381.36 104.9 1382.02 101.41 1383.77 99.83C1384.72 98.98 1386.9 99.75 1387.92 99C1389.78 97.65 1391.28 94.81 1392.91 93.19C1394.28 91.81 1396.46 90.35 1397.89 89.04C1399.45 87.61 1401.45 85.62 1402.87 84.05C1403.95 82.87 1404.76 80.6 1406.2 79.9C1407.32 79.35 1409.12 80.64 1410.35 80.4C1411.73 80.12 1413.18 78.71 1414.5 78.24C1415.7 77.81 1417.65 78.19 1418.65 77.41C1420.07 76.31 1420.61 73.59 1421.98 72.43C1422.54 71.94 1423.94 72.95 1424.47 72.43C1425.89 71 1425.8 66.86 1427.79 66.61C1429.57 66.39 1430.08 70.12 1431.11 71.59C1431.83 72.62 1432.54 74.28 1433.6 74.92C1434.25 75.3 1435.63 73.99 1436.1 74.58C1437.66 76.59 1437.9 80.35 1439.42 82.39C1439.87 82.99 1441.19 82.6 1441.91 82.39C1442.98 82.09 1444.13 80.61 1445.23 80.73C1446.68 80.89 1448.06 82.62 1449.39 83.22C1450.82 83.87 1453.14 83.9 1454.37 84.88C1455.77 86.01 1456.82 88.3 1457.69 89.87C1459.31 92.79 1460.7 97.14 1462.67 99.83C1463.53 101.01 1465.8 101.3 1466.83 102.33C1468.34 103.84 1469.46 106.62 1470.98 108.14C1472.01 109.17 1474.16 109.56 1475.13 110.63C1476.71 112.37 1477.62 115.61 1479.29 117.28C1480.47 118.46 1482.93 118.76 1484.27 119.77C1485.96 121.04 1487.63 123.4 1489.25 124.75C1490.63 125.9 1492.68 127.18 1494.24 128.07C1496.17 129.18 1498.89 130.4 1500.88 131.4C1502.87 132.39 1505.48 133.82 1507.52 134.72C1509.48 135.57 1512.11 136.65 1514.17 137.21C1517.11 138 1521.11 138.81 1524.14 139.2" fill="none" stroke="#1a961f" stroke-width="1.45" stroke-linejoin="round" stroke-linecap="round"/>
<path d="M1269.5 180.73C1290.58 180.73 1318.68 181.15 1339.75 180.73C1341.31 180.7 1343.28 179.8 1344.73 179.24C1346.77 178.45 1349.52 177.39 1351.38 176.25C1353.04 175.23 1354.99 173.47 1356.36 172.09C1357.99 170.47 1359.85 168.02 1361.35 166.28C1362.84 164.53 1364.7 162.09 1366.33 160.47C1367.7 159.09 1370.07 157.81 1371.31 156.31C1372.6 154.77 1373.52 152.17 1374.63 150.5C1376.02 148.43 1377.52 145.19 1379.62 143.85C1380.69 143.17 1382.55 145.05 1383.77 144.68C1385.3 144.23 1386.63 142.3 1387.92 141.36C1389.38 140.31 1391.41 139.04 1392.91 138.04C1394.4 137.04 1396.73 136.09 1397.89 134.72C1399.55 132.76 1400.4 129.21 1402.04 127.24C1402.97 126.13 1405.17 125.78 1406.2 124.75C1407.47 123.48 1408.46 121.22 1409.52 119.77C1410.46 118.48 1411.26 115.84 1412.84 115.61C1414.07 115.44 1414.1 118.76 1415.33 118.94C1416.57 119.11 1417.6 117.11 1418.65 116.45C1419.6 115.85 1420.87 114.87 1421.98 114.78C1423.03 114.71 1424.25 115.88 1425.3 115.95C1426.56 116.03 1428.23 115.61 1429.45 115.28C1430.49 115.01 1431.88 113.35 1432.77 113.95C1434.44 115.08 1434.72 118.31 1436.1 119.77C1436.61 120.32 1437.86 120.31 1438.59 120.1C1439.71 119.78 1440.77 117.88 1441.91 118.11C1443.29 118.38 1444.39 120.3 1445.23 121.43C1446.64 123.31 1447.93 126.22 1449.39 128.07C1450.69 129.74 1452.99 131.45 1454.37 133.06C1455.99 134.95 1457.5 138.03 1459.35 139.7C1460.12 140.39 1461.95 139.81 1462.67 140.53C1464.58 142.44 1466.1 145.8 1467.66 148.01C1469.09 150.04 1471.08 152.71 1472.64 154.65C1474.08 156.44 1476.13 158.72 1477.62 160.47C1479.12 162.21 1480.8 164.86 1482.61 166.28C1484.36 167.66 1487.21 168.71 1489.25 169.6C1491.2 170.45 1493.95 171.24 1495.9 172.09C1497.94 172.99 1500.46 174.61 1502.54 175.42C1504.97 176.36 1508.32 177.29 1510.85 177.91C1513.81 178.63 1517.79 179.53 1520.81 179.9C1524.78 180.38 1530.11 180.64 1534.1 180.73C1541.18 180.89 1550.62 180.73 1557.7 180.73" fill="none" stroke="#3daa42" stroke-width="0.8" stroke-linejoin="round"/>
<path d="M1344.73 179.24C1346.77 178.45 1349.52 177.39 1351.38 176.25C1353.04 175.23 1354.99 173.47 1356.36 172.09C1357.99 170.47 1359.85 168.02 1361.35 166.28C1362.84 164.53 1364.7 162.09 1366.33 160.47C1367.7 159.09 1370.07 157.81 1371.31 156.31C1372.6 154.77 1373.52 152.17 1374.63 150.5C1376.02 148.43 1377.52 145.19 1379.62 143.85C1380.69 143.17 1382.55 145.05 1383.77 144.68C1385.3 144.23 1386.63 142.3 1387.92 141.36C1389.38 140.31 1391.41 139.04 1392.91 138.04C1394.4 137.04 1396.73 136.09 1397.89 134.72C1399.55 132.76 1400.4 129.21 1402.04 127.24C1402.97 126.13 1405.17 125.78 1406.2 124.75C1407.47 123.48 1408.46 121.22 1409.52 119.77C1410.46 118.48 1411.26 115.84 1412.84 115.61C1414.07 115.44 1414.1 118.76 1415.33 118.94C1416.57 119.11 1417.6 117.11 1418.65 116.45C1419.6 115.85 1420.87 114.87 1421.98 114.78C1423.03 114.71 1424.25 115.88 1425.3 115.95C1426.56 116.03 1428.23 115.61 1429.45 115.28C1430.49 115.01 1431.88 113.35 1432.77 113.95C1434.44 115.08 1434.72 118.31 1436.1 119.77C1436.61 120.32 1437.86 120.31 1438.59 120.1C1439.71 119.78 1440.77 117.88 1441.91 118.11C1443.29 118.38 1444.39 120.3 1445.23 121.43C1446.64 123.31 1447.93 126.22 1449.39 128.07C1450.69 129.74 1452.99 131.45 1454.37 133.06C1455.99 134.95 1457.5 138.03 1459.35 139.7C1460.12 140.39 1461.95 139.81 1462.67 140.53C1464.58 142.44 1466.1 145.8 1467.66 148.01C1469.09 150.04 1471.08 152.71 1472.64 154.65C1474.08 156.44 1476.13 158.72 1477.62 160.47C1479.12 162.21 1480.8 164.86 1482.61 166.28C1484.36 167.66 1487.21 168.71 1489.25 169.6C1491.2 170.45 1493.95 171.24 1495.9 172.09C1497.94 172.99 1500.46 174.61 1502.54 175.42C1504.97 176.36 1508.32 177.29 1510.85 177.91C1513.81 178.63 1517.79 179.53 1520.81 179.9" fill="none" stroke="#1a961f" stroke-width="1.45" stroke-linejoin="round" stroke-linecap="round"/>
<path d="M1269.5 221.1C1273.13 220.75 1277.99 220.39 1281.61 219.93C1286.61 219.3 1293.21 217.94 1298.22 217.44C1303.19 216.95 1309.85 216.74 1314.83 216.61C1319.82 216.49 1326.49 217.14 1331.45 216.61C1333.56 216.38 1336.11 214.91 1338.09 214.12C1340.1 213.32 1342.65 211.89 1344.73 211.3C1346.67 210.74 1349.41 210.74 1351.38 210.3C1353.41 209.84 1356.09 209.08 1358.02 208.31C1360.09 207.48 1362.71 206.04 1364.67 204.98C1365.95 204.29 1367.7 203.42 1368.82 202.49C1369.72 201.75 1370.6 200.42 1371.31 199.5C1372.84 197.53 1374.46 194.54 1376.3 192.86C1377.53 191.73 1379.78 191.11 1381.28 190.37C1382.28 189.87 1383.77 189.45 1384.6 188.7C1386.31 187.17 1388.43 184.88 1389.58 182.89C1391.21 180.09 1391.56 175.32 1393.74 172.92C1394.59 171.98 1396.73 174.28 1397.89 173.75C1399.82 172.88 1401.06 169.86 1402.87 168.77C1403.73 168.26 1405.42 169.39 1406.2 168.77C1408.14 167.21 1409.34 163.8 1411.18 162.13C1412.17 161.22 1414.23 161.23 1415.33 160.47C1416.78 159.45 1417.94 157.16 1419.49 156.31C1420.82 155.59 1423.02 155.93 1424.47 155.48C1426.28 154.92 1428.46 152.44 1430.28 152.99C1431.88 153.47 1432.03 156.48 1432.77 157.97C1433.77 159.97 1433.93 164.08 1436.1 164.62C1437.84 165.05 1438.03 160.78 1439.42 159.63C1440.2 158.99 1442.03 158.42 1442.74 159.14C1444.41 160.81 1444.53 164.48 1446.06 166.28C1446.93 167.3 1449.34 166.92 1450.22 167.94C1452.47 170.57 1453.85 175.22 1456.03 177.91C1457.16 179.3 1459.69 180.02 1461.01 181.23C1462.71 182.78 1464.62 185.21 1466 187.04C1467.61 189.2 1469.55 192.23 1470.98 194.52C1472.04 196.22 1473.05 198.76 1474.3 200.33C1475.57 201.93 1477.77 203.62 1479.29 204.98C1481.25 206.76 1483.73 209.33 1485.93 210.8C1488.25 212.34 1491.61 214.03 1494.24 214.95C1496.63 215.79 1500.09 215.96 1502.54 216.61C1506.07 217.55 1510.56 219.69 1514.17 220.27C1519.1 221.05 1525.79 221 1530.78 221.1C1538.86 221.25 1549.62 221.1 1557.7 221.1" fill="none" stroke="#3daa42" stroke-width="0.8" stroke-linejoin="round"/>
<path d="M1281.61 219.93C1286.61 219.3 1293.21 217.94 1298.22 217.44M1331.45 216.61C1333.56 216.38 1336.11 214.91 1338.09 214.12C1340.1 213.32 1342.65 211.89 1344.73 211.3C1346.67 210.74 1349.41 210.74 1351.38 210.3C1353.41 209.84 1356.09 209.08 1358.02 208.31C1360.09 207.48 1362.71 206.04 1364.67 204.98C1365.95 204.29 1367.7 203.42 1368.82 202.49C1369.72 201.75 1370.6 200.42 1371.31 199.5C1372.84 197.53 1374.46 194.54 1376.3 192.86C1377.53 191.73 1379.78 191.11 1381.28 190.37C1382.28 189.87 1383.77 189.45 1384.6 188.7C1386.31 187.17 1388.43 184.88 1389.58 182.89C1391.21 180.09 1391.56 175.32 1393.74 172.92C1394.59 171.98 1396.73 174.28 1397.89 173.75C1399.82 172.88 1401.06 169.86 1402.87 168.77C1403.73 168.26 1405.42 169.39 1406.2 168.77C1408.14 167.21 1409.34 163.8 1411.18 162.13C1412.17 161.22 1414.23 161.23 1415.33 160.47C1416.78 159.45 1417.94 157.16 1419.49 156.31C1420.82 155.59 1423.02 155.93 1424.47 155.48C1426.28 154.92 1428.46 152.44 1430.28 152.99C1431.88 153.47 1432.03 156.48 1432.77 157.97C1433.77 159.97 1433.93 164.08 1436.1 164.62C1437.84 165.05 1438.03 160.78 1439.42 159.63C1440.2 158.99 1442.03 158.42 1442.74 159.14C1444.41 160.81 1444.53 164.48 1446.06 166.28C1446.93 167.3 1449.34 166.92 1450.22 167.94C1452.47 170.57 1453.85 175.22 1456.03 177.91C1457.16 179.3 1459.69 180.02 1461.01 181.23C1462.71 182.78 1464.62 185.21 1466 187.04C1467.61 189.2 1469.55 192.23 1470.98 194.52C1472.04 196.22 1473.05 198.76 1474.3 200.33C1475.57 201.93 1477.77 203.62 1479.29 204.98C1481.25 206.76 1483.73 209.33 1485.93 210.8C1488.25 212.34 1491.61 214.03 1494.24 214.95C1496.63 215.79 1500.09 215.96 1502.54 216.61C1506.07 217.55 1510.56 219.69 1514.17 220.27" fill="none" stroke="#1a961f" stroke-width="1.45" stroke-linejoin="round" stroke-linecap="round"/>
<path d="M1269.5 260.63C1273.13 259.63 1278.09 258.65 1281.61 257.31C1284.26 256.3 1287.32 253.96 1289.92 252.82C1291.33 252.2 1293.69 252.46 1294.9 251.5C1296.85 249.94 1298.3 246.77 1299.88 244.85C1301.79 242.53 1304.69 239.74 1306.53 237.38C1308.18 235.25 1310.12 232.21 1311.51 229.9C1313.12 227.22 1314.89 223.44 1316.5 220.76C1317.88 218.45 1320.23 215.68 1321.48 213.29C1323.23 209.92 1324.96 205.15 1326.46 201.66C1326.96 200.51 1327.37 198.84 1328.12 197.84C1328.67 197.12 1329.91 196.74 1330.61 196.18C1331.66 195.34 1332.63 193.48 1333.94 193.19C1335.21 192.91 1336.78 194.52 1338.09 194.52C1339.16 194.52 1340.34 193.19 1341.41 193.19C1342.96 193.19 1344.85 194.52 1346.4 194.52C1347.7 194.52 1349.27 192.93 1350.55 193.19C1352.05 193.49 1353.4 195.37 1354.7 196.18C1355.65 196.77 1357 198.29 1358.02 197.84C1359.8 197.05 1360.28 193.28 1362.18 192.86C1363.55 192.55 1364.57 195.12 1365.5 196.18C1366.32 197.12 1367.26 198.5 1367.99 199.5C1369 200.89 1370.07 202.97 1371.31 204.15C1372.36 205.16 1374.04 206.36 1375.47 206.64C1376.71 206.89 1378.37 205.59 1379.62 205.81C1381.26 206.11 1383.05 207.68 1384.6 208.31C1385.56 208.69 1386.9 209.24 1387.92 209.14C1389.49 208.98 1391.34 207.61 1392.91 207.48C1394.42 207.35 1396.38 208.15 1397.89 208.31C1398.88 208.4 1400.51 207.6 1401.21 208.31C1403.27 210.36 1404.05 214.65 1406.2 216.61C1407.31 217.64 1409.66 217.5 1411.18 217.44C1412.23 217.4 1413.52 215.89 1414.5 216.28C1416.37 217.03 1417.71 219.82 1419.49 220.76C1420.16 221.12 1421.47 219.7 1421.98 220.27C1423.77 222.28 1424.12 226.44 1426.13 228.24C1427.66 229.61 1431.08 228.74 1432.77 229.9C1435.25 231.6 1437.02 235.58 1439.42 237.38C1441.12 238.65 1444.26 238.74 1446.06 239.87C1448.31 241.27 1450.59 244.09 1452.71 245.68C1454.59 247.09 1457.36 248.59 1459.35 249.83C1461.35 251.08 1463.85 253.03 1466 253.99C1468.37 255.04 1471.82 255.71 1474.3 256.48C1477.8 257.56 1482.34 259.46 1485.93 260.13C1490.36 260.96 1496.38 261.36 1500.88 261.46C1517.92 261.86 1540.65 261.69 1557.7 261.79" fill="none" stroke="#3daa42" stroke-width="0.8" stroke-linejoin="round"/>
<path d="M1269.5 260.63C1273.13 259.63 1278.09 258.65 1281.61 257.31C1284.26 256.3 1287.32 253.96 1289.92 252.82C1291.33 252.2 1293.69 252.46 1294.9 251.5C1296.85 249.94 1298.3 246.77 1299.88 244.85C1301.79 242.53 1304.69 239.74 1306.53 237.38C1308.18 235.25 1310.12 232.21 1311.51 229.9C1313.12 227.22 1314.89 223.44 1316.5 220.76C1317.88 218.45 1320.23 215.68 1321.48 213.29C1323.23 209.92 1324.96 205.15 1326.46 201.66C1326.96 200.51 1327.37 198.84 1328.12 197.84C1328.67 197.12 1329.91 196.74 1330.61 196.18C1331.66 195.34 1332.63 193.48 1333.94 193.19C1335.21 192.91 1336.78 194.52 1338.09 194.52C1339.16 194.52 1340.34 193.19 1341.41 193.19C1342.96 193.19 1344.85 194.52 1346.4 194.52C1347.7 194.52 1349.27 192.93 1350.55 193.19C1352.05 193.49 1353.4 195.37 1354.7 196.18C1355.65 196.77 1357 198.29 1358.02 197.84C1359.8 197.05 1360.28 193.28 1362.18 192.86C1363.55 192.55 1364.57 195.12 1365.5 196.18C1366.32 197.12 1367.26 198.5 1367.99 199.5C1369 200.89 1370.07 202.97 1371.31 204.15C1372.36 205.16 1374.04 206.36 1375.47 206.64C1376.71 206.89 1378.37 205.59 1379.62 205.81C1381.26 206.11 1383.05 207.68 1384.6 208.31C1385.56 208.69 1386.9 209.24 1387.92 209.14C1389.49 208.98 1391.34 207.61 1392.91 207.48C1394.42 207.35 1396.38 208.15 1397.89 208.31C1398.88 208.4 1400.51 207.6 1401.21 208.31C1403.27 210.36 1404.05 214.65 1406.2 216.61C1407.31 217.64 1409.66 217.5 1411.18 217.44C1412.23 217.4 1413.52 215.89 1414.5 216.28C1416.37 217.03 1417.71 219.82 1419.49 220.76C1420.16 221.12 1421.47 219.7 1421.98 220.27C1423.77 222.28 1424.12 226.44 1426.13 228.24C1427.66 229.61 1431.08 228.74 1432.77 229.9C1435.25 231.6 1437.02 235.58 1439.42 237.38C1441.12 238.65 1444.26 238.74 1446.06 239.87C1448.31 241.27 1450.59 244.09 1452.71 245.68C1454.59 247.09 1457.36 248.59 1459.35 249.83C1461.35 251.08 1463.85 253.03 1466 253.99C1468.37 255.04 1471.82 255.71 1474.3 256.48C1477.8 257.56 1482.34 259.46 1485.93 260.13" fill="none" stroke="#1a961f" stroke-width="1.45" stroke-linejoin="round" stroke-linecap="round"/>
<path d="M1269.5 301.33C1272.64 300.83 1276.9 300.56 1279.95 299.67C1282.09 299.04 1284.57 297.27 1286.59 296.35C1288.06 295.68 1290.19 295.16 1291.58 294.35C1293.21 293.4 1295.21 291.84 1296.56 290.53C1298.21 288.93 1300.22 286.59 1301.54 284.72C1303.22 282.34 1304.64 278.62 1306.53 276.41C1307.7 275.05 1310.47 274.55 1311.51 273.09C1313.07 270.91 1313.92 267.31 1314.83 264.78C1315.91 261.82 1317.02 257.76 1318.16 254.82C1319.52 251.28 1321.38 246.55 1323.14 243.19C1324.39 240.8 1326.53 237.89 1328.12 235.71C1329.52 233.8 1330.9 230.45 1333.11 229.57C1334.32 229.08 1335.13 232.56 1336.43 232.39C1338.11 232.17 1338.9 228.78 1340.58 228.57C1341.74 228.43 1342.51 230.54 1343.07 231.56C1344.26 233.71 1344.66 237.3 1346.4 239.04C1347.12 239.76 1348.8 237.75 1349.72 238.21C1351.61 239.15 1353.43 241.5 1354.7 243.19C1356.44 245.51 1358.33 248.92 1359.68 251.5C1360.83 253.67 1361.39 257.12 1363.01 258.97C1363.53 259.56 1364.97 257.55 1365.5 258.14C1367.35 260.22 1368.07 264.15 1369.65 266.45C1370.85 268.19 1373.14 269.93 1374.63 271.43C1376.13 272.92 1378.12 274.92 1379.62 276.41C1381.11 277.91 1382.88 280.17 1384.6 281.4C1386.41 282.69 1389.3 283.62 1391.25 284.72C1393.29 285.87 1395.7 288.02 1397.89 288.87C1400.26 289.79 1403.76 289.8 1406.2 290.53C1408.77 291.3 1411.93 293.08 1414.5 293.85C1416.94 294.58 1420.29 295.14 1422.81 295.51C1425.28 295.89 1428.66 295.85 1431.11 296.35C1433.66 296.86 1436.86 298.38 1439.42 298.84C1441.88 299.28 1445.24 299.12 1447.72 299.34C1452.71 299.77 1459.33 300.76 1464.34 301C1474.29 301.46 1487.59 301.59 1497.56 301.66C1515.6 301.79 1539.66 301.66 1557.7 301.66" fill="none" stroke="#3daa42" stroke-width="0.8" stroke-linejoin="round"/>
<path d="M1279.95 299.67C1282.09 299.04 1284.57 297.27 1286.59 296.35C1288.06 295.68 1290.19 295.16 1291.58 294.35C1293.21 293.4 1295.21 291.84 1296.56 290.53C1298.21 288.93 1300.22 286.59 1301.54 284.72C1303.22 282.34 1304.64 278.62 1306.53 276.41C1307.7 275.05 1310.47 274.55 1311.51 273.09C1313.07 270.91 1313.92 267.31 1314.83 264.78C1315.91 261.82 1317.02 257.76 1318.16 254.82C1319.52 251.28 1321.38 246.55 1323.14 243.19C1324.39 240.8 1326.53 237.89 1328.12 235.71C1329.52 233.8 1330.9 230.45 1333.11 229.57C1334.32 229.08 1335.13 232.56 1336.43 232.39C1338.11 232.17 1338.9 228.78 1340.58 228.57C1341.74 228.43 1342.51 230.54 1343.07 231.56C1344.26 233.71 1344.66 237.3 1346.4 239.04C1347.12 239.76 1348.8 237.75 1349.72 238.21C1351.61 239.15 1353.43 241.5 1354.7 243.19C1356.44 245.51 1358.33 248.92 1359.68 251.5C1360.83 253.67 1361.39 257.12 1363.01 258.97C1363.53 259.56 1364.97 257.55 1365.5 258.14C1367.35 260.22 1368.07 264.15 1369.65 266.45C1370.85 268.19 1373.14 269.93 1374.63 271.43C1376.13 272.92 1378.12 274.92 1379.62 276.41C1381.11 277.91 1382.88 280.17 1384.6 281.4C1386.41 282.69 1389.3 283.62 1391.25 284.72C1393.29 285.87 1395.7 288.02 1397.89 288.87C1400.26 289.79 1403.76 289.8 1406.2 290.53C1408.77 291.3 1411.93 293.08 1414.5 293.85C1416.94 294.58 1420.29 295.14 1422.81 295.51M1431.11 296.35C1433.66 296.86 1436.86 298.38 1439.42 298.84" fill="none" stroke="#1a961f" stroke-width="1.45" stroke-linejoin="round" stroke-linecap="round"/>
<path d="M1269.5 342.52C1272.14 342.13 1275.7 341.84 1278.29 341.2C1280.36 340.68 1283.03 339.66 1284.93 338.7C1287.04 337.65 1289.7 335.96 1291.58 334.55C1293.7 332.96 1296.46 330.72 1298.22 328.74C1300.47 326.2 1302.99 322.42 1304.87 319.6C1306.48 317.18 1308.55 313.89 1309.85 311.3C1311.55 307.9 1313.24 303.11 1314.83 299.67C1316.23 296.63 1318.32 292.69 1319.82 289.7C1321.31 286.71 1323.31 282.72 1324.8 279.73C1326.05 277.24 1326.86 273.26 1328.95 271.43C1329.75 270.73 1330.44 274.25 1331.45 273.92C1332.82 273.46 1333.07 270.93 1333.94 269.77C1334.57 268.92 1335.48 266.8 1336.43 267.28C1337.92 268.02 1337.89 270.94 1338.92 272.26C1339.69 273.24 1341.3 273.93 1342.24 274.75C1343.3 275.68 1344.16 278.07 1345.56 278.07C1346.81 278.07 1347.18 273.87 1348.06 274.75C1349.9 276.59 1349.66 280.61 1350.55 283.06C1351.66 286.1 1353.03 290.25 1354.7 293.02C1355.34 294.09 1357.36 294.46 1358.02 295.51C1359.91 298.54 1360.95 303.4 1363.01 306.31C1364.04 307.78 1366.81 308.28 1367.99 309.63C1370.36 312.34 1372.39 316.8 1374.63 319.6C1376.4 321.8 1379.09 324.47 1381.28 326.25C1383.1 327.73 1385.78 329.44 1387.92 330.4C1390.3 331.46 1393.72 332.21 1396.23 332.89C1398.7 333.56 1402.05 334.28 1404.53 334.88C1406.53 335.37 1409.13 336.34 1411.18 336.54C1412.19 336.65 1413.5 335.69 1414.5 335.88C1417.09 336.36 1420.23 338.19 1422.81 338.7C1427.74 339.69 1434.41 340.46 1439.42 340.86C1446.88 341.46 1456.85 341.92 1464.34 342.03C1492.34 342.42 1529.69 342.38 1557.7 342.52" fill="none" stroke="#3daa42" stroke-width="0.8" stroke-linejoin="round"/>
<path d="M1278.29 341.2C1280.36 340.68 1283.03 339.66 1284.93 338.7C1287.04 337.65 1289.7 335.96 1291.58 334.55C1293.7 332.96 1296.46 330.72 1298.22 328.74C1300.47 326.2 1302.99 322.42 1304.87 319.6C1306.48 317.18 1308.55 313.89 1309.85 311.3C1311.55 307.9 1313.24 303.11 1314.83 299.67C1316.23 296.63 1318.32 292.69 1319.82 289.7C1321.31 286.71 1323.31 282.72 1324.8 279.73C1326.05 277.24 1326.86 273.26 1328.95 271.43C1329.75 270.73 1330.44 274.25 1331.45 273.92C1332.82 273.46 1333.07 270.93 1333.94 269.77C1334.57 268.92 1335.48 266.8 1336.43 267.28C1337.92 268.02 1337.89 270.94 1338.92 272.26C1339.69 273.24 1341.3 273.93 1342.24 274.75C1343.3 275.68 1344.16 278.07 1345.56 278.07C1346.81 278.07 1347.18 273.87 1348.06 274.75C1349.9 276.59 1349.66 280.61 1350.55 283.06C1351.66 286.1 1353.03 290.25 1354.7 293.02C1355.34 294.09 1357.36 294.46 1358.02 295.51C1359.91 298.54 1360.95 303.4 1363.01 306.31C1364.04 307.78 1366.81 308.28 1367.99 309.63C1370.36 312.34 1372.39 316.8 1374.63 319.6C1376.4 321.8 1379.09 324.47 1381.28 326.25C1383.1 327.73 1385.78 329.44 1387.92 330.4C1390.3 331.46 1393.72 332.21 1396.23 332.89C1398.7 333.56 1402.05 334.28 1404.53 334.88C1406.53 335.37 1409.13 336.34 1411.18 336.54C1412.19 336.65 1413.5 335.69 1414.5 335.88C1417.09 336.36 1420.23 338.19 1422.81 338.7" fill="none" stroke="#1a961f" stroke-width="1.45" stroke-linejoin="round" stroke-linecap="round"/>
</g>
<line x1="1375.5" y1="52.6" x2="1375.5" y2="339.6" stroke="#4a4a4a" stroke-width="1" />
<text transform="translate(1552 132.9) scale(0.982 1)" font-size="29.4" text-anchor="end" fill="#000" stroke="#000" stroke-width="0.42" >87.9</text>
<text transform="translate(1552 172) scale(0.982 1)" font-size="29.4" text-anchor="end" fill="#000" stroke="#000" stroke-width="0.42" >93.5</text>
<text transform="translate(1552 211) scale(0.982 1)" font-size="29.4" text-anchor="end" fill="#000" stroke="#000" stroke-width="0.42" >90.3</text>
<text transform="translate(1552 252) scale(0.982 1)" font-size="29.4" text-anchor="end" fill="#000" stroke="#000" stroke-width="0.42" >52.7</text>
<text transform="translate(1552 291) scale(0.982 1)" font-size="29.4" text-anchor="end" fill="#000" stroke="#000" stroke-width="0.42" >25.6</text>
<text transform="translate(1552 330.5) scale(0.982 1)" font-size="29.4" text-anchor="end" fill="#000" stroke="#000" stroke-width="0.42" >18.7</text>
</g>
<g id="hist-g3">
<clipPath id="clip-g3"><rect x="1565" y="52" width="286.6" height="289.4"/></clipPath>
<rect x="1565" y="52" width="286.6" height="286.4" fill="#fff" stroke="#8a8a8a" stroke-width="1"/>
<g clip-path="url(#clip-g3)">
<path d="M1565 139.7C1568.48 139.3 1573.13 138.81 1576.61 138.37C1579.11 138.06 1582.52 137.98 1584.92 137.21C1587.57 136.36 1590.71 134.26 1593.22 133.06C1595.19 132.11 1597.78 130.72 1599.87 130.07C1601.31 129.61 1603.35 129.23 1604.85 129.4C1606.92 129.64 1609.49 130.84 1611.5 131.4C1613.48 131.94 1616.1 132.83 1618.14 133.06C1620.62 133.33 1623.97 133.3 1626.45 133.06C1627.98 132.9 1629.92 132.05 1631.43 131.73C1633.41 131.3 1636.28 131.51 1638.07 130.56C1639.94 129.58 1641.32 126.79 1643.06 125.58C1643.9 124.99 1645.36 124.86 1646.38 124.75C1647.62 124.61 1649.34 125.11 1650.53 124.75C1651.92 124.33 1653.56 123.18 1654.68 122.26C1656.32 120.92 1658.17 118.77 1659.67 117.28C1661.16 115.78 1663.36 113.97 1664.65 112.29C1665.88 110.7 1666.7 108.03 1667.97 106.48C1668.98 105.24 1670.76 103.98 1672.13 103.16C1673.28 102.47 1675.37 102.48 1676.28 101.5C1678.24 99.35 1679.4 95.42 1681.26 93.19C1682.45 91.77 1684.52 90.2 1686.25 89.53C1687.88 88.91 1690.75 90.2 1692.06 89.04C1694.15 87.19 1694.14 82.59 1696.21 80.73C1697.16 79.88 1699.1 81.5 1700.37 81.56C1702.11 81.65 1704.44 81.37 1706.18 81.23C1707.43 81.13 1709.52 81.69 1710.33 80.73C1712.07 78.69 1711.76 74.32 1713.65 72.43C1714.4 71.68 1715.61 74 1716.15 74.92C1717.38 77.04 1717.12 81.69 1719.47 82.39C1721.49 83 1722.35 77.62 1724.45 77.41C1726.04 77.25 1726.75 80.34 1727.77 81.56C1728.75 82.73 1729.74 84.7 1731.1 85.38C1732 85.83 1733.76 84.12 1734.42 84.88C1736.39 87.16 1736.9 91.51 1738.57 94.02C1739.46 95.35 1741.69 96.12 1742.72 97.34C1744.47 99.4 1745.99 102.74 1747.71 104.82C1749.5 106.99 1752.33 109.49 1754.35 111.46C1756.32 113.38 1758.61 116.41 1761 117.77C1762.3 118.52 1764.7 117.32 1765.98 118.11C1767.94 119.31 1769.47 122.18 1770.96 123.92C1772.46 125.66 1774.12 128.35 1775.95 129.73C1777.69 131.05 1780.54 131.96 1782.59 132.72C1784.54 133.45 1787.24 134.12 1789.24 134.72C1791.23 135.32 1793.86 136.21 1795.88 136.71C1798.85 137.45 1802.82 138.45 1805.85 138.87C1809.31 139.35 1813.98 139.64 1817.48 139.7C1827.71 139.89 1841.36 139.7 1851.6 139.7L1851.6 139.7L1565 139.7Z" fill="rgba(10,145,15,0.23)" stroke="none"/>
<path d="M1565 179.57C1579.45 179.57 1598.72 180.03 1613.16 179.57C1614.5 179.53 1616.31 178.8 1617.31 177.91C1618.9 176.47 1620.27 173.88 1621.46 172.09C1622.77 170.14 1624.52 167.53 1625.61 165.45C1627.02 162.78 1628.52 159.05 1629.77 156.31C1631.01 153.57 1632.08 149.56 1633.92 147.18C1634.74 146.11 1636.79 145.9 1638.07 145.51C1639.29 145.15 1641.14 145.34 1642.23 144.68C1643.74 143.78 1644.74 141.19 1646.38 140.53C1647.56 140.06 1649.4 141.93 1650.53 141.36C1652.27 140.49 1653.52 137.94 1654.68 136.38C1655.76 134.94 1656.74 132.67 1658.01 131.4C1658.79 130.61 1660.21 129.73 1661.33 129.73C1662.44 129.73 1663.56 131.64 1664.65 131.4C1666.21 131.05 1667.38 128.79 1668.8 128.07C1670.43 127.26 1673.22 127.57 1674.62 126.41C1676.42 124.91 1677.54 121.77 1678.77 119.77C1679.53 118.53 1679.81 115.7 1681.26 115.61C1682.78 115.53 1683.07 119.44 1684.58 119.44C1686.1 119.44 1686.83 116.69 1687.91 115.61C1688.83 114.69 1690.12 112.1 1691.23 112.79C1693.2 114.02 1693.48 117.71 1694.55 119.77C1695.22 121.06 1695.59 123.92 1697.04 123.92C1698.64 123.92 1699.31 120.97 1700.37 119.77C1701.06 118.97 1701.94 116.75 1702.86 117.28C1704.6 118.27 1705.03 121.44 1706.18 123.09C1706.79 123.96 1707.81 126.2 1708.67 125.58C1710.48 124.29 1710.18 120.23 1711.99 118.94C1712.85 118.32 1713.78 120.64 1714.49 121.43C1715.78 122.88 1717.68 124.72 1718.64 126.41C1719.95 128.75 1720.7 132.35 1721.96 134.72C1722.71 136.13 1723.93 138.02 1725.28 138.87C1726.13 139.4 1727.64 139.11 1728.6 138.87C1729.69 138.6 1731.14 136.42 1731.93 137.21C1734.06 139.34 1734.44 143.82 1736.08 146.35C1737.23 148.12 1739.74 149.68 1741.06 151.33C1742.75 153.43 1744.43 156.65 1746.05 158.8C1747.42 160.64 1749.53 162.87 1751.03 164.62C1752.52 166.36 1754.25 168.96 1756.01 170.43C1757.3 171.5 1759.36 172.57 1761 172.92C1762.95 173.34 1765.7 172.49 1767.64 172.92C1769.77 173.4 1772.25 175.12 1774.29 175.91C1776.74 176.87 1780.01 178.22 1782.59 178.74C1785.53 179.33 1789.56 179.53 1792.56 179.57C1810.27 179.78 1833.89 179.57 1851.6 179.57L1851.6 179.57L1565 179.57Z" fill="rgba(10,145,15,0.23)" stroke="none"/>
<path d="M1565 219.93C1567.49 219.53 1570.86 219.28 1573.29 218.6C1575.38 218.02 1578.02 216.79 1579.93 215.78C1582.01 214.69 1584.59 212.88 1586.58 211.63C1588.32 210.53 1590.45 208.67 1592.39 207.97C1594.04 207.38 1596.75 208.44 1598.21 207.48C1600.28 206.1 1601.4 202.57 1603.19 200.83C1604.93 199.14 1607.81 197.52 1609.83 196.18C1611.79 194.88 1614.55 193.36 1616.48 192.03C1617.79 191.12 1619.72 190.02 1620.63 188.7C1622.03 186.69 1623.24 183.58 1623.95 181.23C1624.99 177.82 1625.27 172.97 1626.45 169.6C1627.04 167.91 1628.57 165.96 1629.77 164.62C1630.6 163.69 1632 161.52 1633.09 162.13C1635.14 163.27 1635.77 166.94 1637.24 168.77C1637.8 169.47 1639.06 171.02 1639.73 170.43C1641.66 168.74 1642.79 165.28 1643.89 162.96C1645.04 160.53 1644.53 154.65 1647.21 154.65C1649.89 154.65 1649.51 160.48 1650.53 162.96C1651.25 164.71 1651.18 169.23 1653.02 168.77C1655.51 168.15 1654.67 161.85 1657.18 161.3C1659.14 160.86 1659.38 165.44 1660.5 167.11C1661.38 168.44 1662.23 171.26 1663.82 171.26C1665.58 171.26 1666.32 167.73 1667.97 167.11C1668.81 166.79 1669.7 169.25 1670.47 168.77C1672.28 167.63 1672.63 163.75 1674.62 162.96C1675.97 162.42 1677.6 164.59 1678.77 165.45C1680.34 166.59 1681.89 169.03 1683.75 169.6C1685 169.99 1686.6 168.39 1687.91 168.27C1689.4 168.14 1691.45 169.21 1692.89 168.77C1694.41 168.3 1695.65 164.67 1697.04 165.45C1699.19 166.64 1699.21 170.76 1700.37 172.92C1701.21 174.51 1702.42 176.64 1703.69 177.91C1704.72 178.93 1706.75 179.43 1707.84 180.4C1709.03 181.46 1709.86 183.64 1711.16 184.55C1712.45 185.46 1714.83 185.34 1716.15 186.21C1717.91 187.39 1719.63 189.7 1721.13 191.2C1722.62 192.69 1724.55 194.76 1726.11 196.18C1727.29 197.25 1729.11 198.4 1730.27 199.5C1731.11 200.31 1731.96 201.64 1732.76 202.49C1734.2 204.03 1735.91 206.41 1737.74 207.48C1739.05 208.24 1741.3 207.8 1742.72 208.31C1744.82 209.06 1747.43 210.54 1749.37 211.63C1751.42 212.78 1753.88 214.79 1756.01 215.78C1758.4 216.89 1761.73 218.11 1764.32 218.6C1767.76 219.26 1772.45 219.5 1775.95 219.6C1785.91 219.9 1799.2 219.93 1809.17 219.93C1821.9 219.93 1838.87 219.7 1851.6 219.6L1851.6 219.93L1565 219.93Z" fill="rgba(10,145,15,0.23)" stroke="none"/>
<path d="M1565 259.47C1566.99 259.07 1569.75 258.91 1571.63 258.14C1573.8 257.24 1576.34 255.32 1578.27 253.99C1580.33 252.58 1582.86 250.41 1584.92 249C1586.85 247.67 1589.56 246.08 1591.56 244.85C1592.8 244.09 1594.78 243.47 1595.71 242.36C1597.36 240.39 1598.68 237.16 1599.87 234.88C1601.42 231.92 1603.25 227.85 1604.85 224.92C1606.24 222.37 1608.34 219.1 1609.83 216.61C1611.33 214.12 1613.52 210.9 1614.82 208.31C1616.02 205.91 1617.17 202.5 1618.14 200C1619.16 197.37 1620.12 193.68 1621.46 191.2C1621.92 190.35 1623.06 188.87 1623.95 189.2C1625.67 189.85 1626.27 193.62 1628.11 193.69C1630.05 193.76 1631.15 189.73 1633.09 189.53C1634.49 189.39 1635.7 191.64 1636.41 192.86C1637.48 194.7 1637.98 197.58 1638.9 199.5C1639.98 201.73 1641.98 204.41 1643.06 206.64C1644.23 209.06 1645.28 212.5 1646.38 214.95C1647.52 217.49 1649.29 220.76 1650.53 223.26C1651.78 225.75 1653.29 229.15 1654.68 231.56C1656.03 233.89 1658.11 236.83 1659.67 239.04C1661.1 241.07 1663.03 243.79 1664.65 245.68C1666.03 247.29 1668.01 249.31 1669.63 250.66C1671.01 251.81 1672.97 253.28 1674.62 253.99C1676.51 254.8 1679.26 255.2 1681.26 255.65C1683.74 256.2 1687.05 256.98 1689.57 257.31C1692.04 257.63 1695.39 257.56 1697.87 257.81C1701.37 258.16 1705.99 259.03 1709.5 259.3C1712.48 259.53 1716.48 259.35 1719.47 259.47C1723.96 259.65 1729.93 260.26 1734.42 260.3C1769.57 260.61 1816.45 260.53 1851.6 260.63L1851.6 260.63L1565 260.63Z" fill="rgba(10,145,15,0.23)" stroke="none"/>
<path d="M1565 299.67C1566.99 299.42 1569.72 299.44 1571.63 298.84C1573.75 298.17 1576.33 296.61 1578.27 295.51C1580.32 294.36 1582.92 292.61 1584.92 291.36C1586.91 290.12 1589.56 288.44 1591.56 287.21C1592.8 286.45 1594.74 285.79 1595.71 284.72C1597.3 282.98 1598.64 280.08 1599.87 278.07C1601.38 275.59 1603.46 272.32 1604.85 269.77C1606.45 266.83 1608.43 262.84 1609.83 259.8C1611.42 256.35 1613.32 251.66 1614.82 248.17C1616.31 244.68 1617.97 239.87 1619.8 236.54C1620.74 234.84 1622.46 232.81 1623.95 231.56C1625.01 230.67 1626.79 230 1628.11 229.57C1629.56 229.09 1631.6 228.9 1633.09 228.57C1633.84 228.4 1634.95 227.45 1635.58 227.91C1636.56 228.61 1636.78 230.45 1637.24 231.56C1638.27 234.04 1639.46 237.42 1640.56 239.87C1641.71 242.41 1643.47 245.68 1644.72 248.17C1645.96 250.66 1647.72 253.94 1648.87 256.48C1650.21 259.43 1651.57 263.55 1653.02 266.45C1654.32 269.04 1656.51 272.26 1658.01 274.75C1659.5 277.24 1661.44 280.6 1662.99 283.06C1664.43 285.34 1666.28 288.43 1667.97 290.53C1668.79 291.55 1670.14 292.73 1671.3 293.36C1672.68 294.1 1674.83 294.39 1676.28 295.02C1677.83 295.69 1679.67 297.08 1681.26 297.67C1683.19 298.39 1685.87 299.05 1687.91 299.34C1690.87 299.75 1694.88 299.9 1697.87 300C1706.34 300.29 1717.64 300.63 1726.11 300.66C1763.76 300.83 1813.95 300.66 1851.6 300.66L1851.6 300.66L1565 300.66Z" fill="rgba(10,145,15,0.23)" stroke="none"/>
<path d="M1565 341.2C1566.99 340.8 1569.66 340.36 1571.63 339.87C1573.65 339.36 1576.38 338.75 1578.27 337.87C1580.41 336.89 1583.13 335.25 1584.92 333.72C1586.66 332.23 1588.39 329.63 1589.9 327.91C1590.88 326.79 1591.9 324.92 1593.22 324.25C1594.57 323.58 1596.95 324.58 1598.21 323.75C1599.71 322.76 1600.59 320.3 1601.53 318.77C1602.58 317.06 1603.74 314.63 1604.85 312.96C1606.23 310.88 1608.62 308.49 1609.83 306.31C1611.14 303.97 1612.14 300.49 1613.16 298.01C1614.38 295.01 1616.17 291.07 1617.31 288.04C1618.42 285.09 1619.51 281.02 1620.63 278.07C1621.26 276.43 1621.93 274.05 1623.12 272.76C1623.83 271.99 1625.48 272.15 1626.45 271.76C1627.73 271.25 1629.47 270.57 1630.6 269.77C1631.75 268.95 1632.51 266.45 1633.92 266.45C1635.03 266.45 1635.21 268.72 1635.58 269.77C1636.46 272.22 1637.03 275.69 1638.07 278.07C1638.79 279.72 1640.55 281.47 1641.4 283.06C1642.55 285.22 1643.83 288.24 1644.72 290.53C1645.57 292.73 1646.02 295.96 1647.21 298.01C1647.84 299.08 1649.9 299.42 1650.53 300.5C1651.72 302.54 1652.12 305.79 1653.02 307.97C1653.87 310.03 1655.24 312.68 1656.35 314.62C1657.24 316.18 1658.78 318.04 1659.67 319.6C1660.77 321.54 1661.75 324.39 1662.99 326.25C1664.26 328.16 1666.35 330.44 1667.97 332.06C1669.35 333.44 1671.3 335.19 1672.96 336.21C1674.82 337.36 1677.48 338.67 1679.6 339.2C1682.52 339.93 1686.56 340.33 1689.57 340.37C1738.18 340.93 1802.99 340.95 1851.6 341.2L1851.6 340.86L1565 340.86Z" fill="rgba(10,145,15,0.23)" stroke="none"/>
<path d="M1565 139.7C1568.48 139.3 1573.13 138.81 1576.61 138.37C1579.11 138.06 1582.52 137.98 1584.92 137.21C1587.57 136.36 1590.71 134.26 1593.22 133.06C1595.19 132.11 1597.78 130.72 1599.87 130.07C1601.31 129.61 1603.35 129.23 1604.85 129.4C1606.92 129.64 1609.49 130.84 1611.5 131.4C1613.48 131.94 1616.1 132.83 1618.14 133.06C1620.62 133.33 1623.97 133.3 1626.45 133.06C1627.98 132.9 1629.92 132.05 1631.43 131.73C1633.41 131.3 1636.28 131.51 1638.07 130.56C1639.94 129.58 1641.32 126.79 1643.06 125.58C1643.9 124.99 1645.36 124.86 1646.38 124.75C1647.62 124.61 1649.34 125.11 1650.53 124.75C1651.92 124.33 1653.56 123.18 1654.68 122.26C1656.32 120.92 1658.17 118.77 1659.67 117.28C1661.16 115.78 1663.36 113.97 1664.65 112.29C1665.88 110.7 1666.7 108.03 1667.97 106.48C1668.98 105.24 1670.76 103.98 1672.13 103.16C1673.28 102.47 1675.37 102.48 1676.28 101.5C1678.24 99.35 1679.4 95.42 1681.26 93.19C1682.45 91.77 1684.52 90.2 1686.25 89.53C1687.88 88.91 1690.75 90.2 1692.06 89.04C1694.15 87.19 1694.14 82.59 1696.21 80.73C1697.16 79.88 1699.1 81.5 1700.37 81.56C1702.11 81.65 1704.44 81.37 1706.18 81.23C1707.43 81.13 1709.52 81.69 1710.33 80.73C1712.07 78.69 1711.76 74.32 1713.65 72.43C1714.4 71.68 1715.61 74 1716.15 74.92C1717.38 77.04 1717.12 81.69 1719.47 82.39C1721.49 83 1722.35 77.62 1724.45 77.41C1726.04 77.25 1726.75 80.34 1727.77 81.56C1728.75 82.73 1729.74 84.7 1731.1 85.38C1732 85.83 1733.76 84.12 1734.42 84.88C1736.39 87.16 1736.9 91.51 1738.57 94.02C1739.46 95.35 1741.69 96.12 1742.72 97.34C1744.47 99.4 1745.99 102.74 1747.71 104.82C1749.5 106.99 1752.33 109.49 1754.35 111.46C1756.32 113.38 1758.61 116.41 1761 117.77C1762.3 118.52 1764.7 117.32 1765.98 118.11C1767.94 119.31 1769.47 122.18 1770.96 123.92C1772.46 125.66 1774.12 128.35 1775.95 129.73C1777.69 131.05 1780.54 131.96 1782.59 132.72C1784.54 133.45 1787.24 134.12 1789.24 134.72C1791.23 135.32 1793.86 136.21 1795.88 136.71C1798.85 137.45 1802.82 138.45 1805.85 138.87C1809.31 139.35 1813.98 139.64 1817.48 139.7C1827.71 139.89 1841.36 139.7 1851.6 139.7" fill="none" stroke="#3daa42" stroke-width="0.8" stroke-linejoin="round"/>
<path d="M1576.61 138.37C1579.11 138.06 1582.52 137.98 1584.92 137.21C1587.57 136.36 1590.71 134.26 1593.22 133.06C1595.19 132.11 1597.78 130.72 1599.87 130.07C1601.31 129.61 1603.35 129.23 1604.85 129.4C1606.92 129.64 1609.49 130.84 1611.5 131.4C1613.48 131.94 1616.1 132.83 1618.14 133.06M1626.45 133.06C1627.98 132.9 1629.92 132.05 1631.43 131.73C1633.41 131.3 1636.28 131.51 1638.07 130.56C1639.94 129.58 1641.32 126.79 1643.06 125.58C1643.9 124.99 1645.36 124.86 1646.38 124.75C1647.62 124.61 1649.34 125.11 1650.53 124.75C1651.92 124.33 1653.56 123.18 1654.68 122.26C1656.32 120.92 1658.17 118.77 1659.67 117.28C1661.16 115.78 1663.36 113.97 1664.65 112.29C1665.88 110.7 1666.7 108.03 1667.97 106.48C1668.98 105.24 1670.76 103.98 1672.13 103.16C1673.28 102.47 1675.37 102.48 1676.28 101.5C1678.24 99.35 1679.4 95.42 1681.26 93.19C1682.45 91.77 1684.52 90.2 1686.25 89.53C1687.88 88.91 1690.75 90.2 1692.06 89.04C1694.15 87.19 1694.14 82.59 1696.21 80.73C1697.16 79.88 1699.1 81.5 1700.37 81.56C1702.11 81.65 1704.44 81.37 1706.18 81.23C1707.43 81.13 1709.52 81.69 1710.33 80.73C1712.07 78.69 1711.76 74.32 1713.65 72.43C1714.4 71.68 1715.61 74 1716.15 74.92C1717.38 77.04 1717.12 81.69 1719.47 82.39C1721.49 83 1722.35 77.62 1724.45 77.41C1726.04 77.25 1726.75 80.34 1727.77 81.56C1728.75 82.73 1729.74 84.7 1731.1 85.38C1732 85.83 1733.76 84.12 1734.42 84.88C1736.39 87.16 1736.9 91.51 1738.57 94.02C1739.46 95.35 1741.69 96.12 1742.72 97.34C1744.47 99.4 1745.99 102.74 1747.71 104.82C1749.5 106.99 1752.33 109.49 1754.35 111.46C1756.32 113.38 1758.61 116.41 1761 117.77C1762.3 118.52 1764.7 117.32 1765.98 118.11C1767.94 119.31 1769.47 122.18 1770.96 123.92C1772.46 125.66 1774.12 128.35 1775.95 129.73C1777.69 131.05 1780.54 131.96 1782.59 132.72C1784.54 133.45 1787.24 134.12 1789.24 134.72C1791.23 135.32 1793.86 136.21 1795.88 136.71C1798.85 137.45 1802.82 138.45 1805.85 138.87" fill="none" stroke="#1a961f" stroke-width="1.45" stroke-linejoin="round" stroke-linecap="round"/>
<path d="M1565 179.57C1579.45 179.57 1598.72 180.03 1613.16 179.57C1614.5 179.53 1616.31 178.8 1617.31 177.91C1618.9 176.47 1620.27 173.88 1621.46 172.09C1622.77 170.14 1624.52 167.53 1625.61 165.45C1627.02 162.78 1628.52 159.05 1629.77 156.31C1631.01 153.57 1632.08 149.56 1633.92 147.18C1634.74 146.11 1636.79 145.9 1638.07 145.51C1639.29 145.15 1641.14 145.34 1642.23 144.68C1643.74 143.78 1644.74 141.19 1646.38 140.53C1647.56 140.06 1649.4 141.93 1650.53 141.36C1652.27 140.49 1653.52 137.94 1654.68 136.38C1655.76 134.94 1656.74 132.67 1658.01 131.4C1658.79 130.61 1660.21 129.73 1661.33 129.73C1662.44 129.73 1663.56 131.64 1664.65 131.4C1666.21 131.05 1667.38 128.79 1668.8 128.07C1670.43 127.26 1673.22 127.57 1674.62 126.41C1676.42 124.91 1677.54 121.77 1678.77 119.77C1679.53 118.53 1679.81 115.7 1681.26 115.61C1682.78 115.53 1683.07 119.44 1684.58 119.44C1686.1 119.44 1686.83 116.69 1687.91 115.61C1688.83 114.69 1690.12 112.1 1691.23 112.79C1693.2 114.02 1693.48 117.71 1694.55 119.77C1695.22 121.06 1695.59 123.92 1697.04 123.92C1698.64 123.92 1699.31 120.97 1700.37 119.77C1701.06 118.97 1701.94 116.75 1702.86 117.28C1704.6 118.27 1705.03 121.44 1706.18 123.09C1706.79 123.96 1707.81 126.2 1708.67 125.58C1710.48 124.29 1710.18 120.23 1711.99 118.94C1712.85 118.32 1713.78 120.64 1714.49 121.43C1715.78 122.88 1717.68 124.72 1718.64 126.41C1719.95 128.75 1720.7 132.35 1721.96 134.72C1722.71 136.13 1723.93 138.02 1725.28 138.87C1726.13 139.4 1727.64 139.11 1728.6 138.87C1729.69 138.6 1731.14 136.42 1731.93 137.21C1734.06 139.34 1734.44 143.82 1736.08 146.35C1737.23 148.12 1739.74 149.68 1741.06 151.33C1742.75 153.43 1744.43 156.65 1746.05 158.8C1747.42 160.64 1749.53 162.87 1751.03 164.62C1752.52 166.36 1754.25 168.96 1756.01 170.43C1757.3 171.5 1759.36 172.57 1761 172.92C1762.95 173.34 1765.7 172.49 1767.64 172.92C1769.77 173.4 1772.25 175.12 1774.29 175.91C1776.74 176.87 1780.01 178.22 1782.59 178.74C1785.53 179.33 1789.56 179.53 1792.56 179.57C1810.27 179.78 1833.89 179.57 1851.6 179.57" fill="none" stroke="#3daa42" stroke-width="0.8" stroke-linejoin="round"/>
<path d="M1617.31 177.91C1618.9 176.47 1620.27 173.88 1621.46 172.09C1622.77 170.14 1624.52 167.53 1625.61 165.45C1627.02 162.78 1628.52 159.05 1629.77 156.31C1631.01 153.57 1632.08 149.56 1633.92 147.18C1634.74 146.11 1636.79 145.9 1638.07 145.51C1639.29 145.15 1641.14 145.34 1642.23 144.68C1643.74 143.78 1644.74 141.19 1646.38 140.53C1647.56 140.06 1649.4 141.93 1650.53 141.36C1652.27 140.49 1653.52 137.94 1654.68 136.38C1655.76 134.94 1656.74 132.67 1658.01 131.4C1658.79 130.61 1660.21 129.73 1661.33 129.73C1662.44 129.73 1663.56 131.64 1664.65 131.4C1666.21 131.05 1667.38 128.79 1668.8 128.07C1670.43 127.26 1673.22 127.57 1674.62 126.41C1676.42 124.91 1677.54 121.77 1678.77 119.77C1679.53 118.53 1679.81 115.7 1681.26 115.61C1682.78 115.53 1683.07 119.44 1684.58 119.44C1686.1 119.44 1686.83 116.69 1687.91 115.61C1688.83 114.69 1690.12 112.1 1691.23 112.79C1693.2 114.02 1693.48 117.71 1694.55 119.77C1695.22 121.06 1695.59 123.92 1697.04 123.92C1698.64 123.92 1699.31 120.97 1700.37 119.77C1701.06 118.97 1701.94 116.75 1702.86 117.28C1704.6 118.27 1705.03 121.44 1706.18 123.09C1706.79 123.96 1707.81 126.2 1708.67 125.58C1710.48 124.29 1710.18 120.23 1711.99 118.94C1712.85 118.32 1713.78 120.64 1714.49 121.43C1715.78 122.88 1717.68 124.72 1718.64 126.41C1719.95 128.75 1720.7 132.35 1721.96 134.72C1722.71 136.13 1723.93 138.02 1725.28 138.87C1726.13 139.4 1727.64 139.11 1728.6 138.87C1729.69 138.6 1731.14 136.42 1731.93 137.21C1734.06 139.34 1734.44 143.82 1736.08 146.35C1737.23 148.12 1739.74 149.68 1741.06 151.33C1742.75 153.43 1744.43 156.65 1746.05 158.8C1747.42 160.64 1749.53 162.87 1751.03 164.62C1752.52 166.36 1754.25 168.96 1756.01 170.43C1757.3 171.5 1759.36 172.57 1761 172.92M1767.64 172.92C1769.77 173.4 1772.25 175.12 1774.29 175.91C1776.74 176.87 1780.01 178.22 1782.59 178.74" fill="none" stroke="#1a961f" stroke-width="1.45" stroke-linejoin="round" stroke-linecap="round"/>
<path d="M1565 219.93C1567.49 219.53 1570.86 219.28 1573.29 218.6C1575.38 218.02 1578.02 216.79 1579.93 215.78C1582.01 214.69 1584.59 212.88 1586.58 211.63C1588.32 210.53 1590.45 208.67 1592.39 207.97C1594.04 207.38 1596.75 208.44 1598.21 207.48C1600.28 206.1 1601.4 202.57 1603.19 200.83C1604.93 199.14 1607.81 197.52 1609.83 196.18C1611.79 194.88 1614.55 193.36 1616.48 192.03C1617.79 191.12 1619.72 190.02 1620.63 188.7C1622.03 186.69 1623.24 183.58 1623.95 181.23C1624.99 177.82 1625.27 172.97 1626.45 169.6C1627.04 167.91 1628.57 165.96 1629.77 164.62C1630.6 163.69 1632 161.52 1633.09 162.13C1635.14 163.27 1635.77 166.94 1637.24 168.77C1637.8 169.47 1639.06 171.02 1639.73 170.43C1641.66 168.74 1642.79 165.28 1643.89 162.96C1645.04 160.53 1644.53 154.65 1647.21 154.65C1649.89 154.65 1649.51 160.48 1650.53 162.96C1651.25 164.71 1651.18 169.23 1653.02 168.77C1655.51 168.15 1654.67 161.85 1657.18 161.3C1659.14 160.86 1659.38 165.44 1660.5 167.11C1661.38 168.44 1662.23 171.26 1663.82 171.26C1665.58 171.26 1666.32 167.73 1667.97 167.11C1668.81 166.79 1669.7 169.25 1670.47 168.77C1672.28 167.63 1672.63 163.75 1674.62 162.96C1675.97 162.42 1677.6 164.59 1678.77 165.45C1680.34 166.59 1681.89 169.03 1683.75 169.6C1685 169.99 1686.6 168.39 1687.91 168.27C1689.4 168.14 1691.45 169.21 1692.89 168.77C1694.41 168.3 1695.65 164.67 1697.04 165.45C1699.19 166.64 1699.21 170.76 1700.37 172.92C1701.21 174.51 1702.42 176.64 1703.69 177.91C1704.72 178.93 1706.75 179.43 1707.84 180.4C1709.03 181.46 1709.86 183.64 1711.16 184.55C1712.45 185.46 1714.83 185.34 1716.15 186.21C1717.91 187.39 1719.63 189.7 1721.13 191.2C1722.62 192.69 1724.55 194.76 1726.11 196.18C1727.29 197.25 1729.11 198.4 1730.27 199.5C1731.11 200.31 1731.96 201.64 1732.76 202.49C1734.2 204.03 1735.91 206.41 1737.74 207.48C1739.05 208.24 1741.3 207.8 1742.72 208.31C1744.82 209.06 1747.43 210.54 1749.37 211.63C1751.42 212.78 1753.88 214.79 1756.01 215.78C1758.4 216.89 1761.73 218.11 1764.32 218.6C1767.76 219.26 1772.45 219.5 1775.95 219.6C1785.91 219.9 1799.2 219.93 1809.17 219.93C1821.9 219.93 1838.87 219.7 1851.6 219.6" fill="none" stroke="#3daa42" stroke-width="0.8" stroke-linejoin="round"/>
<path d="M1573.29 218.6C1575.38 218.02 1578.02 216.79 1579.93 215.78C1582.01 214.69 1584.59 212.88 1586.58 211.63C1588.32 210.53 1590.45 208.67 1592.39 207.97C1594.04 207.38 1596.75 208.44 1598.21 207.48C1600.28 206.1 1601.4 202.57 1603.19 200.83C1604.93 199.14 1607.81 197.52 1609.83 196.18C1611.79 194.88 1614.55 193.36 1616.48 192.03C1617.79 191.12 1619.72 190.02 1620.63 188.7C1622.03 186.69 1623.24 183.58 1623.95 181.23C1624.99 177.82 1625.27 172.97 1626.45 169.6C1627.04 167.91 1628.57 165.96 1629.77 164.62C1630.6 163.69 1632 161.52 1633.09 162.13C1635.14 163.27 1635.77 166.94 1637.24 168.77C1637.8 169.47 1639.06 171.02 1639.73 170.43C1641.66 168.74 1642.79 165.28 1643.89 162.96C1645.04 160.53 1644.53 154.65 1647.21 154.65C1649.89 154.65 1649.51 160.48 1650.53 162.96C1651.25 164.71 1651.18 169.23 1653.02 168.77C1655.51 168.15 1654.67 161.85 1657.18 161.3C1659.14 160.86 1659.38 165.44 1660.5 167.11C1661.38 168.44 1662.23 171.26 1663.82 171.26C1665.58 171.26 1666.32 167.73 1667.97 167.11C1668.81 166.79 1669.7 169.25 1670.47 168.77C1672.28 167.63 1672.63 163.75 1674.62 162.96C1675.97 162.42 1677.6 164.59 1678.77 165.45C1680.34 166.59 1681.89 169.03 1683.75 169.6C1685 169.99 1686.6 168.39 1687.91 168.27C1689.4 168.14 1691.45 169.21 1692.89 168.77C1694.41 168.3 1695.65 164.67 1697.04 165.45C1699.19 166.64 1699.21 170.76 1700.37 172.92C1701.21 174.51 1702.42 176.64 1703.69 177.91C1704.72 178.93 1706.75 179.43 1707.84 180.4C1709.03 181.46 1709.86 183.64 1711.16 184.55C1712.45 185.46 1714.83 185.34 1716.15 186.21C1717.91 187.39 1719.63 189.7 1721.13 191.2C1722.62 192.69 1724.55 194.76 1726.11 196.18C1727.29 197.25 1729.11 198.4 1730.27 199.5C1731.11 200.31 1731.96 201.64 1732.76 202.49C1734.2 204.03 1735.91 206.41 1737.74 207.48C1739.05 208.24 1741.3 207.8 1742.72 208.31C1744.82 209.06 1747.43 210.54 1749.37 211.63C1751.42 212.78 1753.88 214.79 1756.01 215.78C1758.4 216.89 1761.73 218.11 1764.32 218.6" fill="none" stroke="#1a961f" stroke-width="1.45" stroke-linejoin="round" stroke-linecap="round"/>
<path d="M1565 259.47C1566.99 259.07 1569.75 258.91 1571.63 258.14C1573.8 257.24 1576.34 255.32 1578.27 253.99C1580.33 252.58 1582.86 250.41 1584.92 249C1586.85 247.67 1589.56 246.08 1591.56 244.85C1592.8 244.09 1594.78 243.47 1595.71 242.36C1597.36 240.39 1598.68 237.16 1599.87 234.88C1601.42 231.92 1603.25 227.85 1604.85 224.92C1606.24 222.37 1608.34 219.1 1609.83 216.61C1611.33 214.12 1613.52 210.9 1614.82 208.31C1616.02 205.91 1617.17 202.5 1618.14 200C1619.16 197.37 1620.12 193.68 1621.46 191.2C1621.92 190.35 1623.06 188.87 1623.95 189.2C1625.67 189.85 1626.27 193.62 1628.11 193.69C1630.05 193.76 1631.15 189.73 1633.09 189.53C1634.49 189.39 1635.7 191.64 1636.41 192.86C1637.48 194.7 1637.98 197.58 1638.9 199.5C1639.98 201.73 1641.98 204.41 1643.06 206.64C1644.23 209.06 1645.28 212.5 1646.38 214.95C1647.52 217.49 1649.29 220.76 1650.53 223.26C1651.78 225.75 1653.29 229.15 1654.68 231.56C1656.03 233.89 1658.11 236.83 1659.67 239.04C1661.1 241.07 1663.03 243.79 1664.65 245.68C1666.03 247.29 1668.01 249.31 1669.63 250.66C1671.01 251.81 1672.97 253.28 1674.62 253.99C1676.51 254.8 1679.26 255.2 1681.26 255.65C1683.74 256.2 1687.05 256.98 1689.57 257.31C1692.04 257.63 1695.39 257.56 1697.87 257.81C1701.37 258.16 1705.99 259.03 1709.5 259.3C1712.48 259.53 1716.48 259.35 1719.47 259.47C1723.96 259.65 1729.93 260.26 1734.42 260.3C1769.57 260.61 1816.45 260.53 1851.6 260.63" fill="none" stroke="#3daa42" stroke-width="0.8" stroke-linejoin="round"/>
<path d="M1565 259.47C1566.99 259.07 1569.75 258.91 1571.63 258.14C1573.8 257.24 1576.34 255.32 1578.27 253.99C1580.33 252.58 1582.86 250.41 1584.92 249C1586.85 247.67 1589.56 246.08 1591.56 244.85C1592.8 244.09 1594.78 243.47 1595.71 242.36C1597.36 240.39 1598.68 237.16 1599.87 234.88C1601.42 231.92 1603.25 227.85 1604.85 224.92C1606.24 222.37 1608.34 219.1 1609.83 216.61C1611.33 214.12 1613.52 210.9 1614.82 208.31C1616.02 205.91 1617.17 202.5 1618.14 200C1619.16 197.37 1620.12 193.68 1621.46 191.2C1621.92 190.35 1623.06 188.87 1623.95 189.2C1625.67 189.85 1626.27 193.62 1628.11 193.69C1630.05 193.76 1631.15 189.73 1633.09 189.53C1634.49 189.39 1635.7 191.64 1636.41 192.86C1637.48 194.7 1637.98 197.58 1638.9 199.5C1639.98 201.73 1641.98 204.41 1643.06 206.64C1644.23 209.06 1645.28 212.5 1646.38 214.95C1647.52 217.49 1649.29 220.76 1650.53 223.26C1651.78 225.75 1653.29 229.15 1654.68 231.56C1656.03 233.89 1658.11 236.83 1659.67 239.04C1661.1 241.07 1663.03 243.79 1664.65 245.68C1666.03 247.29 1668.01 249.31 1669.63 250.66C1671.01 251.81 1672.97 253.28 1674.62 253.99C1676.51 254.8 1679.26 255.2 1681.26 255.65C1683.74 256.2 1687.05 256.98 1689.57 257.31" fill="none" stroke="#1a961f" stroke-width="1.45" stroke-linejoin="round" stroke-linecap="round"/>
<path d="M1565 299.67C1566.99 299.42 1569.72 299.44 1571.63 298.84C1573.75 298.17 1576.33 296.61 1578.27 295.51C1580.32 294.36 1582.92 292.61 1584.92 291.36C1586.91 290.12 1589.56 288.44 1591.56 287.21C1592.8 286.45 1594.74 285.79 1595.71 284.72C1597.3 282.98 1598.64 280.08 1599.87 278.07C1601.38 275.59 1603.46 272.32 1604.85 269.77C1606.45 266.83 1608.43 262.84 1609.83 259.8C1611.42 256.35 1613.32 251.66 1614.82 248.17C1616.31 244.68 1617.97 239.87 1619.8 236.54C1620.74 234.84 1622.46 232.81 1623.95 231.56C1625.01 230.67 1626.79 230 1628.11 229.57C1629.56 229.09 1631.6 228.9 1633.09 228.57C1633.84 228.4 1634.95 227.45 1635.58 227.91C1636.56 228.61 1636.78 230.45 1637.24 231.56C1638.27 234.04 1639.46 237.42 1640.56 239.87C1641.71 242.41 1643.47 245.68 1644.72 248.17C1645.96 250.66 1647.72 253.94 1648.87 256.48C1650.21 259.43 1651.57 263.55 1653.02 266.45C1654.32 269.04 1656.51 272.26 1658.01 274.75C1659.5 277.24 1661.44 280.6 1662.99 283.06C1664.43 285.34 1666.28 288.43 1667.97 290.53C1668.79 291.55 1670.14 292.73 1671.3 293.36C1672.68 294.1 1674.83 294.39 1676.28 295.02C1677.83 295.69 1679.67 297.08 1681.26 297.67C1683.19 298.39 1685.87 299.05 1687.91 299.34C1690.87 299.75 1694.88 299.9 1697.87 300C1706.34 300.29 1717.64 300.63 1726.11 300.66C1763.76 300.83 1813.95 300.66 1851.6 300.66" fill="none" stroke="#3daa42" stroke-width="0.8" stroke-linejoin="round"/>
<path d="M1571.63 298.84C1573.75 298.17 1576.33 296.61 1578.27 295.51C1580.32 294.36 1582.92 292.61 1584.92 291.36C1586.91 290.12 1589.56 288.44 1591.56 287.21C1592.8 286.45 1594.74 285.79 1595.71 284.72C1597.3 282.98 1598.64 280.08 1599.87 278.07C1601.38 275.59 1603.46 272.32 1604.85 269.77C1606.45 266.83 1608.43 262.84 1609.83 259.8C1611.42 256.35 1613.32 251.66 1614.82 248.17C1616.31 244.68 1617.97 239.87 1619.8 236.54C1620.74 234.84 1622.46 232.81 1623.95 231.56C1625.01 230.67 1626.79 230 1628.11 229.57C1629.56 229.09 1631.6 228.9 1633.09 228.57C1633.84 228.4 1634.95 227.45 1635.58 227.91C1636.56 228.61 1636.78 230.45 1637.24 231.56C1638.27 234.04 1639.46 237.42 1640.56 239.87C1641.71 242.41 1643.47 245.68 1644.72 248.17C1645.96 250.66 1647.72 253.94 1648.87 256.48C1650.21 259.43 1651.57 263.55 1653.02 266.45C1654.32 269.04 1656.51 272.26 1658.01 274.75C1659.5 277.24 1661.44 280.6 1662.99 283.06C1664.43 285.34 1666.28 288.43 1667.97 290.53C1668.79 291.55 1670.14 292.73 1671.3 293.36C1672.68 294.1 1674.83 294.39 1676.28 295.02C1677.83 295.69 1679.67 297.08 1681.26 297.67C1683.19 298.39 1685.87 299.05 1687.91 299.34" fill="none" stroke="#1a961f" stroke-width="1.45" stroke-linejoin="round" stroke-linecap="round"/>
<path d="M1565 341.2C1566.99 340.8 1569.66 340.36 1571.63 339.87C1573.65 339.36 1576.38 338.75 1578.27 337.87C1580.41 336.89 1583.13 335.25 1584.92 333.72C1586.66 332.23 1588.39 329.63 1589.9 327.91C1590.88 326.79 1591.9 324.92 1593.22 324.25C1594.57 323.58 1596.95 324.58 1598.21 323.75C1599.71 322.76 1600.59 320.3 1601.53 318.77C1602.58 317.06 1603.74 314.63 1604.85 312.96C1606.23 310.88 1608.62 308.49 1609.83 306.31C1611.14 303.97 1612.14 300.49 1613.16 298.01C1614.38 295.01 1616.17 291.07 1617.31 288.04C1618.42 285.09 1619.51 281.02 1620.63 278.07C1621.26 276.43 1621.93 274.05 1623.12 272.76C1623.83 271.99 1625.48 272.15 1626.45 271.76C1627.73 271.25 1629.47 270.57 1630.6 269.77C1631.75 268.95 1632.51 266.45 1633.92 266.45C1635.03 266.45 1635.21 268.72 1635.58 269.77C1636.46 272.22 1637.03 275.69 1638.07 278.07C1638.79 279.72 1640.55 281.47 1641.4 283.06C1642.55 285.22 1643.83 288.24 1644.72 290.53C1645.57 292.73 1646.02 295.96 1647.21 298.01C1647.84 299.08 1649.9 299.42 1650.53 300.5C1651.72 302.54 1652.12 305.79 1653.02 307.97C1653.87 310.03 1655.24 312.68 1656.35 314.62C1657.24 316.18 1658.78 318.04 1659.67 319.6C1660.77 321.54 1661.75 324.39 1662.99 326.25C1664.26 328.16 1666.35 330.44 1667.97 332.06C1669.35 333.44 1671.3 335.19 1672.96 336.21C1674.82 337.36 1677.48 338.67 1679.6 339.2C1682.52 339.93 1686.56 340.33 1689.57 340.37C1738.18 340.93 1802.99 340.95 1851.6 341.2" fill="none" stroke="#3daa42" stroke-width="0.8" stroke-linejoin="round"/>
<path d="M1571.63 339.87C1573.65 339.36 1576.38 338.75 1578.27 337.87C1580.41 336.89 1583.13 335.25 1584.92 333.72C1586.66 332.23 1588.39 329.63 1589.9 327.91C1590.88 326.79 1591.9 324.92 1593.22 324.25C1594.57 323.58 1596.95 324.58 1598.21 323.75C1599.71 322.76 1600.59 320.3 1601.53 318.77C1602.58 317.06 1603.74 314.63 1604.85 312.96C1606.23 310.88 1608.62 308.49 1609.83 306.31C1611.14 303.97 1612.14 300.49 1613.16 298.01C1614.38 295.01 1616.17 291.07 1617.31 288.04C1618.42 285.09 1619.51 281.02 1620.63 278.07C1621.26 276.43 1621.93 274.05 1623.12 272.76C1623.83 271.99 1625.48 272.15 1626.45 271.76C1627.73 271.25 1629.47 270.57 1630.6 269.77C1631.75 268.95 1632.51 266.45 1633.92 266.45C1635.03 266.45 1635.21 268.72 1635.58 269.77C1636.46 272.22 1637.03 275.69 1638.07 278.07C1638.79 279.72 1640.55 281.47 1641.4 283.06C1642.55 285.22 1643.83 288.24 1644.72 290.53C1645.57 292.73 1646.02 295.96 1647.21 298.01C1647.84 299.08 1649.9 299.42 1650.53 300.5C1651.72 302.54 1652.12 305.79 1653.02 307.97C1653.87 310.03 1655.24 312.68 1656.35 314.62C1657.24 316.18 1658.78 318.04 1659.67 319.6C1660.77 321.54 1661.75 324.39 1662.99 326.25C1664.26 328.16 1666.35 330.44 1667.97 332.06C1669.35 333.44 1671.3 335.19 1672.96 336.21C1674.82 337.36 1677.48 338.67 1679.6 339.2" fill="none" stroke="#1a961f" stroke-width="1.45" stroke-linejoin="round" stroke-linecap="round"/>
</g>
<line x1="1670.5" y1="52" x2="1670.5" y2="338.4" stroke="#4a4a4a" stroke-width="1" />
<text transform="translate(1844.5 128.6) scale(0.982 1)" font-size="29.4" text-anchor="end" fill="#000" stroke="#000" stroke-width="0.42" >87.2</text>
<text transform="translate(1844.5 170.6) scale(0.982 1)" font-size="29.4" text-anchor="end" fill="#000" stroke="#000" stroke-width="0.42" >70.8</text>
<text transform="translate(1844.5 214.8) scale(0.982 1)" font-size="29.4" text-anchor="end" fill="#000" stroke="#000" stroke-width="0.42" >55.4</text>
<text transform="translate(1844.5 251.6) scale(0.982 1)" font-size="29.4" text-anchor="end" fill="#000" stroke="#000" stroke-width="0.42" >6.8</text>
<text transform="translate(1844.5 291.3) scale(0.982 1)" font-size="29.4" text-anchor="end" fill="#000" stroke="#000" stroke-width="0.42" >5.1</text>
<text transform="translate(1844.5 329.4) scale(0.982 1)" font-size="29.4" text-anchor="end" fill="#000" stroke="#000" stroke-width="0.42" >4.1</text>
</g>
<g id="hist-c1">
<clipPath id="clip-c1"><rect x="976.4" y="436.6" width="284.2" height="287.2"/></clipPath>
<rect x="976.4" y="436.6" width="284.2" height="284.2" fill="#fff" stroke="#8a8a8a" stroke-width="1"/>
<g clip-path="url(#clip-c1)">
<path d="M976.4 523.52C1016.84 523.52 1070.76 523.74 1111.2 523.52C1116.19 523.49 1122.82 522.89 1127.81 522.69C1132.79 522.49 1139.45 522.62 1144.42 522.19C1146.95 521.97 1150.33 521.37 1152.72 520.53C1155.35 519.61 1158.77 518.01 1161.03 516.38C1163.32 514.73 1165.94 511.96 1167.67 509.73C1169.46 507.44 1171.01 503.82 1172.66 501.43C1173.76 499.82 1175.87 498.15 1176.81 496.45C1178.38 493.61 1179.74 489.48 1180.96 486.48C1182.48 482.75 1183.95 477.52 1185.95 474.02C1187 472.18 1189.73 470.78 1190.93 469.04C1192.51 466.74 1193.62 463.1 1195.08 460.73C1195.64 459.83 1197 459.13 1197.57 458.24C1198.86 456.26 1199.12 450.21 1201.23 451.26C1204.11 452.7 1203.05 458.57 1204.22 461.56C1204.95 463.43 1206.54 465.63 1207.54 467.38C1208.54 469.12 1210.01 471.37 1210.86 473.19C1212.01 475.62 1213.27 478.97 1214.19 481.5C1215.26 484.46 1216.58 488.45 1217.51 491.46C1218.58 494.93 1219.56 499.69 1220.83 503.09C1221.81 505.7 1223.51 509.03 1224.98 511.4C1226.01 513.05 1227.68 515.08 1229.14 516.38C1230.95 518 1233.56 520.04 1235.78 521.03C1238.12 522.07 1241.54 522.77 1244.09 523.02C1249.02 523.52 1255.65 523.37 1260.6 523.52L1260.6 523.52L976.4 523.52Z" fill="rgba(0,0,0,0.2)" stroke="none"/>
<path d="M976.4 563.39C995.91 563.39 1021.92 563.62 1041.43 563.39C1047.42 563.32 1055.37 562.39 1061.36 562.39C1066.35 562.39 1072.98 563.31 1077.97 563.39C1082.96 563.46 1089.6 563.09 1094.58 562.89C1099.57 562.69 1106.21 562.31 1111.2 562.06C1116.18 561.81 1122.86 561.89 1127.81 561.23C1130.39 560.89 1133.69 559.68 1136.11 558.74C1138.19 557.93 1140.92 556.68 1142.76 555.42C1144.94 553.91 1147.66 551.59 1149.4 549.6C1151.18 547.57 1152.95 544.4 1154.39 542.13C1155.94 539.67 1157.82 536.28 1159.37 533.82C1160.81 531.54 1163.1 528.73 1164.35 526.35C1165.6 523.97 1166.66 520.52 1167.67 518.04C1168.9 515.04 1169.99 510.74 1171.83 508.07C1172.85 506.59 1175.66 506.13 1176.81 504.75C1178.24 503.04 1178.77 499.87 1180.13 498.11C1180.84 497.19 1182.58 495.35 1183.46 496.11C1185.37 497.79 1185.2 501.92 1186.78 503.92C1187.61 504.97 1190.17 504.48 1190.93 505.58C1192.59 507.98 1193.24 511.98 1194.25 514.72C1195.73 518.71 1197.74 524.02 1199.24 528.01C1200.73 531.99 1202.54 537.38 1204.22 541.3C1205.54 544.37 1207.29 548.52 1209.2 551.26C1210.82 553.57 1213.54 556.29 1215.85 557.91C1218.09 559.48 1221.5 561.02 1224.15 561.73C1227.55 562.63 1232.27 563.06 1235.78 563.22C1243.22 563.56 1253.15 563.34 1260.6 563.39L1260.6 563.39L976.4 563.39Z" fill="rgba(0,0,0,0.2)" stroke="none"/>
<path d="M976.4 603.26C991.92 603.26 1012.62 603.58 1028.14 603.26C1031.65 603.18 1036.26 602.04 1039.77 601.93C1043.75 601.79 1049.07 602.36 1053.06 602.43C1058.04 602.51 1064.69 602.3 1069.67 602.43C1074.66 602.55 1081.29 603.26 1086.28 603.26C1091.27 603.26 1097.9 602.55 1102.89 602.43C1107.87 602.3 1114.53 602.7 1119.5 602.43C1123.51 602.2 1128.88 601.67 1132.79 600.76C1135.41 600.16 1138.81 598.84 1141.1 597.44C1143.36 596.06 1146.13 593.73 1147.74 591.63C1149.43 589.41 1150.79 585.88 1151.89 583.32C1152.79 581.24 1153.5 578.27 1154.39 576.18C1155.25 574.13 1156.79 571.56 1157.71 569.53C1159.28 566.08 1161.38 561.47 1162.69 557.91C1164.13 553.99 1165.48 548.56 1166.84 544.62C1167.72 542.08 1167.89 537.73 1170.17 536.31C1171.52 535.47 1172.49 539.22 1173.49 540.47C1174.49 541.71 1175.61 543.57 1176.81 544.62C1177.65 545.35 1179.02 546.28 1180.13 546.28C1181.25 546.28 1182.67 543.83 1183.46 544.62C1185.35 546.52 1185.84 550.41 1186.78 552.92C1188.08 556.39 1189.58 561.1 1190.93 564.55C1192.32 568.08 1194.26 572.76 1195.91 576.18C1196.51 577.41 1197.75 578.8 1198.41 580C1199.74 582.44 1201.16 585.89 1202.56 588.31C1203.91 590.64 1205.7 593.81 1207.54 595.78C1209.24 597.6 1211.9 599.78 1214.19 600.76C1217 601.97 1221.1 602.76 1224.15 602.92C1235.07 603.51 1249.67 603.16 1260.6 603.26L1260.6 603.26L976.4 603.26Z" fill="rgba(0,0,0,0.2)" stroke="none"/>
<path d="M976.4 643.46C999.4 643.46 1030.06 643.62 1053.06 643.46C1058.04 643.42 1064.69 643.04 1069.67 642.79C1074.65 642.54 1081.32 642.35 1086.28 641.79C1089.31 641.45 1093.26 640.4 1096.25 639.8C1098.74 639.3 1102.01 638.28 1104.55 638.14C1106.56 638.03 1109.19 639.08 1111.2 638.97C1113.73 638.83 1117.13 638.23 1119.5 637.31C1121.69 636.46 1124.31 634.62 1126.15 633.16C1128.07 631.62 1130.34 629.2 1131.96 627.34C1133.83 625.2 1136.38 622.34 1137.77 619.87C1139.64 616.56 1141.35 611.76 1142.76 608.24C1144.34 604.29 1146.16 598.9 1147.74 594.95C1149.15 591.43 1151.17 586.78 1152.72 583.32C1153.41 581.8 1154.01 579.5 1155.22 578.34C1156.63 576.98 1159.25 576.18 1161.03 575.35C1162.25 574.78 1163.94 573.19 1165.18 573.69C1166.99 574.41 1167.87 577.39 1169.34 578.67C1170.65 579.82 1173.59 580.08 1174.32 581.66C1176.01 585.35 1175.76 591.03 1176.81 594.95C1177.51 597.54 1179.19 600.74 1180.13 603.26C1181.43 606.72 1182.84 611.47 1184.29 614.88C1185.59 617.96 1187.72 621.89 1189.27 624.85C1190.71 627.62 1192.27 631.58 1194.25 633.99C1195.84 635.91 1198.72 637.76 1200.9 638.97C1203.24 640.27 1206.6 641.65 1209.2 642.29C1212.13 643.01 1216.16 643.39 1219.17 643.46C1231.6 643.74 1248.17 643.46 1260.6 643.46L1260.6 643.46L976.4 643.46Z" fill="rgba(0,0,0,0.2)" stroke="none"/>
<path d="M976.4 683.49C991.92 683.44 1012.63 684.04 1028.14 683.32C1032.21 683.14 1037.44 681.35 1041.43 680.5C1044.92 679.75 1049.58 678.82 1053.06 678.01C1057.06 677.07 1062.62 676.42 1066.35 674.68C1070.23 672.87 1074.87 669.34 1077.97 666.38C1080.42 664.04 1081.94 659.32 1084.62 657.24C1086.67 655.65 1090.33 654.59 1092.92 654.75C1094.72 654.86 1096.13 658.33 1097.91 658.07C1100.37 657.72 1102.32 654.2 1104.55 653.09C1106.88 651.93 1110.53 651.76 1112.86 650.6C1115.09 649.48 1117.8 647.44 1119.5 645.61C1121.34 643.64 1123.32 640.57 1124.49 638.14C1126.08 634.8 1127.01 629.84 1128.64 626.51C1129.29 625.18 1130.52 622.5 1131.96 622.86C1133.78 623.31 1133.48 628.69 1135.28 628.17C1137.75 627.46 1137.45 622.32 1139.44 620.7C1140.59 619.75 1143.08 621.37 1144.42 620.7C1146.31 619.75 1147.44 614.93 1149.4 615.71C1151.89 616.71 1150.27 622.93 1152.72 624.02C1154.5 624.81 1155.23 618.01 1156.88 619.04C1159.29 620.54 1158.29 625.55 1159.37 628.17C1160.05 629.83 1161.42 631.89 1162.69 633.16C1163.48 633.94 1165.46 633.85 1166.01 634.82C1167.58 637.55 1168.17 641.86 1169.34 644.78C1170.16 646.85 1171.74 649.4 1172.66 651.43C1174.23 654.88 1176.05 659.61 1177.64 663.06C1179.04 666.09 1180.64 670.33 1182.62 673.02C1184.2 675.16 1187.01 677.46 1189.27 678.84C1191.56 680.24 1194.95 681.59 1197.57 682.16C1201.49 683 1206.86 683.4 1210.86 683.49C1225.78 683.8 1245.68 683.49 1260.6 683.49L1260.6 683.49L976.4 683.49Z" fill="rgba(0,0,0,0.2)" stroke="none"/>
<path d="M976.4 723.19C981.96 723.09 989.37 723.19 994.92 722.86C999.42 722.59 1005.49 722.29 1009.87 721.2C1012.57 720.52 1015.68 718.29 1018.17 717.04C1020.17 716.05 1023.06 715.1 1024.82 713.72C1026.62 712.3 1028.73 709.94 1029.8 707.91C1031.52 704.63 1032.62 699.74 1033.95 696.28C1035.12 693.26 1036.66 689.21 1038.11 686.31C1039.41 683.71 1041.69 680.55 1043.09 678.01C1044.43 675.57 1045.95 672.17 1047.24 669.7C1048.44 667.43 1049.26 663.65 1051.4 662.23C1052.43 661.53 1053.72 663.97 1054.72 664.72C1055.71 665.47 1056.83 666.92 1058.04 667.21C1059.5 667.56 1061.68 667.38 1063.02 666.71C1064.35 666.05 1064.87 663.14 1066.35 663.06C1067.59 662.99 1068.35 665.23 1068.84 666.38C1069.86 668.77 1070.26 672.31 1071.33 674.68C1072.03 676.25 1072.94 679.34 1074.65 679.34C1076.23 679.34 1076.35 676.05 1077.14 674.68C1078.09 673.06 1078.63 669.78 1080.47 669.37C1082.09 669.01 1083.4 671.89 1084.62 673.02C1085.65 673.98 1086.77 675.56 1087.94 676.35C1089.06 677.09 1090.94 678.7 1092.09 678.01C1094.11 676.8 1094.26 672.62 1096.25 671.36C1097.52 670.55 1099.72 672.34 1101.23 672.19C1102.34 672.08 1103.46 670.29 1104.55 670.53C1106.11 670.88 1107.34 673.03 1108.7 673.85C1109.85 674.54 1111.56 675.85 1112.86 675.51C1114.5 675.09 1115.39 672.18 1117.01 671.69C1118.26 671.32 1119.95 672.54 1121.16 673.02C1122.2 673.44 1123.7 673.9 1124.49 674.68C1125.76 675.95 1126.06 679.23 1127.81 679.67C1129.17 680.01 1129.76 676 1131.13 676.35C1132.87 676.78 1133.49 679.81 1134.45 681.33C1135.23 682.55 1135.49 685.48 1136.94 685.48C1138.71 685.48 1139.35 681.13 1141.1 681.33C1142.88 681.53 1143.22 684.97 1144.42 686.31C1145.25 687.24 1146.63 688.25 1147.74 688.8C1148.66 689.26 1150.3 688.95 1151.06 689.63C1152.92 691.3 1154.61 694.24 1156.05 696.28C1157.6 698.48 1159.12 701.85 1161.03 703.75C1162.69 705.42 1165.96 706.3 1167.67 707.91C1170 710.09 1171.8 714.25 1174.32 716.21C1176.44 717.86 1180.07 718.72 1182.62 719.53C1185.56 720.47 1189.53 721.63 1192.59 722.03C1198.04 722.73 1205.37 723.1 1210.86 723.19C1225.78 723.44 1245.68 723.19 1260.6 723.19L1260.6 722.52L976.4 722.52Z" fill="rgba(0,0,0,0.2)" stroke="none"/>
<path d="M976.4 523.52C1016.84 523.52 1070.76 523.74 1111.2 523.52C1116.19 523.49 1122.82 522.89 1127.81 522.69C1132.79 522.49 1139.45 522.62 1144.42 522.19C1146.95 521.97 1150.33 521.37 1152.72 520.53C1155.35 519.61 1158.77 518.01 1161.03 516.38C1163.32 514.73 1165.94 511.96 1167.67 509.73C1169.46 507.44 1171.01 503.82 1172.66 501.43C1173.76 499.82 1175.87 498.15 1176.81 496.45C1178.38 493.61 1179.74 489.48 1180.96 486.48C1182.48 482.75 1183.95 477.52 1185.95 474.02C1187 472.18 1189.73 470.78 1190.93 469.04C1192.51 466.74 1193.62 463.1 1195.08 460.73C1195.64 459.83 1197 459.13 1197.57 458.24C1198.86 456.26 1199.12 450.21 1201.23 451.26C1204.11 452.7 1203.05 458.57 1204.22 461.56C1204.95 463.43 1206.54 465.63 1207.54 467.38C1208.54 469.12 1210.01 471.37 1210.86 473.19C1212.01 475.62 1213.27 478.97 1214.19 481.5C1215.26 484.46 1216.58 488.45 1217.51 491.46C1218.58 494.93 1219.56 499.69 1220.83 503.09C1221.81 505.7 1223.51 509.03 1224.98 511.4C1226.01 513.05 1227.68 515.08 1229.14 516.38C1230.95 518 1233.56 520.04 1235.78 521.03C1238.12 522.07 1241.54 522.77 1244.09 523.02C1249.02 523.52 1255.65 523.37 1260.6 523.52" fill="none" stroke="#3a3a3a" stroke-width="0.8" stroke-linejoin="round"/>
<path d="M1144.42 522.19C1146.95 521.97 1150.33 521.37 1152.72 520.53C1155.35 519.61 1158.77 518.01 1161.03 516.38C1163.32 514.73 1165.94 511.96 1167.67 509.73C1169.46 507.44 1171.01 503.82 1172.66 501.43C1173.76 499.82 1175.87 498.15 1176.81 496.45C1178.38 493.61 1179.74 489.48 1180.96 486.48C1182.48 482.75 1183.95 477.52 1185.95 474.02C1187 472.18 1189.73 470.78 1190.93 469.04C1192.51 466.74 1193.62 463.1 1195.08 460.73C1195.64 459.83 1197 459.13 1197.57 458.24C1198.86 456.26 1199.12 450.21 1201.23 451.26C1204.11 452.7 1203.05 458.57 1204.22 461.56C1204.95 463.43 1206.54 465.63 1207.54 467.38C1208.54 469.12 1210.01 471.37 1210.86 473.19C1212.01 475.62 1213.27 478.97 1214.19 481.5C1215.26 484.46 1216.58 488.45 1217.51 491.46C1218.58 494.93 1219.56 499.69 1220.83 503.09C1221.81 505.7 1223.51 509.03 1224.98 511.4C1226.01 513.05 1227.68 515.08 1229.14 516.38C1230.95 518 1233.56 520.04 1235.78 521.03C1238.12 522.07 1241.54 522.77 1244.09 523.02" fill="none" stroke="#161616" stroke-width="1.3" stroke-linejoin="round" stroke-linecap="round"/>
<path d="M976.4 563.39C995.91 563.39 1021.92 563.62 1041.43 563.39C1047.42 563.32 1055.37 562.39 1061.36 562.39C1066.35 562.39 1072.98 563.31 1077.97 563.39C1082.96 563.46 1089.6 563.09 1094.58 562.89C1099.57 562.69 1106.21 562.31 1111.2 562.06C1116.18 561.81 1122.86 561.89 1127.81 561.23C1130.39 560.89 1133.69 559.68 1136.11 558.74C1138.19 557.93 1140.92 556.68 1142.76 555.42C1144.94 553.91 1147.66 551.59 1149.4 549.6C1151.18 547.57 1152.95 544.4 1154.39 542.13C1155.94 539.67 1157.82 536.28 1159.37 533.82C1160.81 531.54 1163.1 528.73 1164.35 526.35C1165.6 523.97 1166.66 520.52 1167.67 518.04C1168.9 515.04 1169.99 510.74 1171.83 508.07C1172.85 506.59 1175.66 506.13 1176.81 504.75C1178.24 503.04 1178.77 499.87 1180.13 498.11C1180.84 497.19 1182.58 495.35 1183.46 496.11C1185.37 497.79 1185.2 501.92 1186.78 503.92C1187.61 504.97 1190.17 504.48 1190.93 505.58C1192.59 507.98 1193.24 511.98 1194.25 514.72C1195.73 518.71 1197.74 524.02 1199.24 528.01C1200.73 531.99 1202.54 537.38 1204.22 541.3C1205.54 544.37 1207.29 548.52 1209.2 551.26C1210.82 553.57 1213.54 556.29 1215.85 557.91C1218.09 559.48 1221.5 561.02 1224.15 561.73C1227.55 562.63 1232.27 563.06 1235.78 563.22C1243.22 563.56 1253.15 563.34 1260.6 563.39" fill="none" stroke="#3a3a3a" stroke-width="0.8" stroke-linejoin="round"/>
<path d="M1127.81 561.23C1130.39 560.89 1133.69 559.68 1136.11 558.74C1138.19 557.93 1140.92 556.68 1142.76 555.42C1144.94 553.91 1147.66 551.59 1149.4 549.6C1151.18 547.57 1152.95 544.4 1154.39 542.13C1155.94 539.67 1157.82 536.28 1159.37 533.82C1160.81 531.54 1163.1 528.73 1164.35 526.35C1165.6 523.97 1166.66 520.52 1167.67 518.04C1168.9 515.04 1169.99 510.74 1171.83 508.07C1172.85 506.59 1175.66 506.13 1176.81 504.75C1178.24 503.04 1178.77 499.87 1180.13 498.11C1180.84 497.19 1182.58 495.35 1183.46 496.11C1185.37 497.79 1185.2 501.92 1186.78 503.92C1187.61 504.97 1190.17 504.48 1190.93 505.58C1192.59 507.98 1193.24 511.98 1194.25 514.72C1195.73 518.71 1197.74 524.02 1199.24 528.01C1200.73 531.99 1202.54 537.38 1204.22 541.3C1205.54 544.37 1207.29 548.52 1209.2 551.26C1210.82 553.57 1213.54 556.29 1215.85 557.91C1218.09 559.48 1221.5 561.02 1224.15 561.73" fill="none" stroke="#161616" stroke-width="1.3" stroke-linejoin="round" stroke-linecap="round"/>
<path d="M976.4 603.26C991.92 603.26 1012.62 603.58 1028.14 603.26C1031.65 603.18 1036.26 602.04 1039.77 601.93C1043.75 601.79 1049.07 602.36 1053.06 602.43C1058.04 602.51 1064.69 602.3 1069.67 602.43C1074.66 602.55 1081.29 603.26 1086.28 603.26C1091.27 603.26 1097.9 602.55 1102.89 602.43C1107.87 602.3 1114.53 602.7 1119.5 602.43C1123.51 602.2 1128.88 601.67 1132.79 600.76C1135.41 600.16 1138.81 598.84 1141.1 597.44C1143.36 596.06 1146.13 593.73 1147.74 591.63C1149.43 589.41 1150.79 585.88 1151.89 583.32C1152.79 581.24 1153.5 578.27 1154.39 576.18C1155.25 574.13 1156.79 571.56 1157.71 569.53C1159.28 566.08 1161.38 561.47 1162.69 557.91C1164.13 553.99 1165.48 548.56 1166.84 544.62C1167.72 542.08 1167.89 537.73 1170.17 536.31C1171.52 535.47 1172.49 539.22 1173.49 540.47C1174.49 541.71 1175.61 543.57 1176.81 544.62C1177.65 545.35 1179.02 546.28 1180.13 546.28C1181.25 546.28 1182.67 543.83 1183.46 544.62C1185.35 546.52 1185.84 550.41 1186.78 552.92C1188.08 556.39 1189.58 561.1 1190.93 564.55C1192.32 568.08 1194.26 572.76 1195.91 576.18C1196.51 577.41 1197.75 578.8 1198.41 580C1199.74 582.44 1201.16 585.89 1202.56 588.31C1203.91 590.64 1205.7 593.81 1207.54 595.78C1209.24 597.6 1211.9 599.78 1214.19 600.76C1217 601.97 1221.1 602.76 1224.15 602.92C1235.07 603.51 1249.67 603.16 1260.6 603.26" fill="none" stroke="#3a3a3a" stroke-width="0.8" stroke-linejoin="round"/>
<path d="M1132.79 600.76C1135.41 600.16 1138.81 598.84 1141.1 597.44C1143.36 596.06 1146.13 593.73 1147.74 591.63C1149.43 589.41 1150.79 585.88 1151.89 583.32C1152.79 581.24 1153.5 578.27 1154.39 576.18C1155.25 574.13 1156.79 571.56 1157.71 569.53C1159.28 566.08 1161.38 561.47 1162.69 557.91C1164.13 553.99 1165.48 548.56 1166.84 544.62C1167.72 542.08 1167.89 537.73 1170.17 536.31C1171.52 535.47 1172.49 539.22 1173.49 540.47C1174.49 541.71 1175.61 543.57 1176.81 544.62C1177.65 545.35 1179.02 546.28 1180.13 546.28C1181.25 546.28 1182.67 543.83 1183.46 544.62C1185.35 546.52 1185.84 550.41 1186.78 552.92C1188.08 556.39 1189.58 561.1 1190.93 564.55C1192.32 568.08 1194.26 572.76 1195.91 576.18C1196.51 577.41 1197.75 578.8 1198.41 580C1199.74 582.44 1201.16 585.89 1202.56 588.31C1203.91 590.64 1205.7 593.81 1207.54 595.78C1209.24 597.6 1211.9 599.78 1214.19 600.76C1217 601.97 1221.1 602.76 1224.15 602.92" fill="none" stroke="#161616" stroke-width="1.3" stroke-linejoin="round" stroke-linecap="round"/>
<path d="M976.4 643.46C999.4 643.46 1030.06 643.62 1053.06 643.46C1058.04 643.42 1064.69 643.04 1069.67 642.79C1074.65 642.54 1081.32 642.35 1086.28 641.79C1089.31 641.45 1093.26 640.4 1096.25 639.8C1098.74 639.3 1102.01 638.28 1104.55 638.14C1106.56 638.03 1109.19 639.08 1111.2 638.97C1113.73 638.83 1117.13 638.23 1119.5 637.31C1121.69 636.46 1124.31 634.62 1126.15 633.16C1128.07 631.62 1130.34 629.2 1131.96 627.34C1133.83 625.2 1136.38 622.34 1137.77 619.87C1139.64 616.56 1141.35 611.76 1142.76 608.24C1144.34 604.29 1146.16 598.9 1147.74 594.95C1149.15 591.43 1151.17 586.78 1152.72 583.32C1153.41 581.8 1154.01 579.5 1155.22 578.34C1156.63 576.98 1159.25 576.18 1161.03 575.35C1162.25 574.78 1163.94 573.19 1165.18 573.69C1166.99 574.41 1167.87 577.39 1169.34 578.67C1170.65 579.82 1173.59 580.08 1174.32 581.66C1176.01 585.35 1175.76 591.03 1176.81 594.95C1177.51 597.54 1179.19 600.74 1180.13 603.26C1181.43 606.72 1182.84 611.47 1184.29 614.88C1185.59 617.96 1187.72 621.89 1189.27 624.85C1190.71 627.62 1192.27 631.58 1194.25 633.99C1195.84 635.91 1198.72 637.76 1200.9 638.97C1203.24 640.27 1206.6 641.65 1209.2 642.29C1212.13 643.01 1216.16 643.39 1219.17 643.46C1231.6 643.74 1248.17 643.46 1260.6 643.46" fill="none" stroke="#3a3a3a" stroke-width="0.8" stroke-linejoin="round"/>
<path d="M1086.28 641.79C1089.31 641.45 1093.26 640.4 1096.25 639.8C1098.74 639.3 1102.01 638.28 1104.55 638.14M1111.2 638.97C1113.73 638.83 1117.13 638.23 1119.5 637.31C1121.69 636.46 1124.31 634.62 1126.15 633.16C1128.07 631.62 1130.34 629.2 1131.96 627.34C1133.83 625.2 1136.38 622.34 1137.77 619.87C1139.64 616.56 1141.35 611.76 1142.76 608.24C1144.34 604.29 1146.16 598.9 1147.74 594.95C1149.15 591.43 1151.17 586.78 1152.72 583.32C1153.41 581.8 1154.01 579.5 1155.22 578.34C1156.63 576.98 1159.25 576.18 1161.03 575.35C1162.25 574.78 1163.94 573.19 1165.18 573.69C1166.99 574.41 1167.87 577.39 1169.34 578.67C1170.65 579.82 1173.59 580.08 1174.32 581.66C1176.01 585.35 1175.76 591.03 1176.81 594.95C1177.51 597.54 1179.19 600.74 1180.13 603.26C1181.43 606.72 1182.84 611.47 1184.29 614.88C1185.59 617.96 1187.72 621.89 1189.27 624.85C1190.71 627.62 1192.27 631.58 1194.25 633.99C1195.84 635.91 1198.72 637.76 1200.9 638.97C1203.24 640.27 1206.6 641.65 1209.2 642.29" fill="none" stroke="#161616" stroke-width="1.3" stroke-linejoin="round" stroke-linecap="round"/>
<path d="M976.4 683.49C991.92 683.44 1012.63 684.04 1028.14 683.32C1032.21 683.14 1037.44 681.35 1041.43 680.5C1044.92 679.75 1049.58 678.82 1053.06 678.01C1057.06 677.07 1062.62 676.42 1066.35 674.68C1070.23 672.87 1074.87 669.34 1077.97 666.38C1080.42 664.04 1081.94 659.32 1084.62 657.24C1086.67 655.65 1090.33 654.59 1092.92 654.75C1094.72 654.86 1096.13 658.33 1097.91 658.07C1100.37 657.72 1102.32 654.2 1104.55 653.09C1106.88 651.93 1110.53 651.76 1112.86 650.6C1115.09 649.48 1117.8 647.44 1119.5 645.61C1121.34 643.64 1123.32 640.57 1124.49 638.14C1126.08 634.8 1127.01 629.84 1128.64 626.51C1129.29 625.18 1130.52 622.5 1131.96 622.86C1133.78 623.31 1133.48 628.69 1135.28 628.17C1137.75 627.46 1137.45 622.32 1139.44 620.7C1140.59 619.75 1143.08 621.37 1144.42 620.7C1146.31 619.75 1147.44 614.93 1149.4 615.71C1151.89 616.71 1150.27 622.93 1152.72 624.02C1154.5 624.81 1155.23 618.01 1156.88 619.04C1159.29 620.54 1158.29 625.55 1159.37 628.17C1160.05 629.83 1161.42 631.89 1162.69 633.16C1163.48 633.94 1165.46 633.85 1166.01 634.82C1167.58 637.55 1168.17 641.86 1169.34 644.78C1170.16 646.85 1171.74 649.4 1172.66 651.43C1174.23 654.88 1176.05 659.61 1177.64 663.06C1179.04 666.09 1180.64 670.33 1182.62 673.02C1184.2 675.16 1187.01 677.46 1189.27 678.84C1191.56 680.24 1194.95 681.59 1197.57 682.16C1201.49 683 1206.86 683.4 1210.86 683.49C1225.78 683.8 1245.68 683.49 1260.6 683.49" fill="none" stroke="#3a3a3a" stroke-width="0.8" stroke-linejoin="round"/>
<path d="M1028.14 683.32C1032.21 683.14 1037.44 681.35 1041.43 680.5C1044.92 679.75 1049.58 678.82 1053.06 678.01C1057.06 677.07 1062.62 676.42 1066.35 674.68C1070.23 672.87 1074.87 669.34 1077.97 666.38C1080.42 664.04 1081.94 659.32 1084.62 657.24C1086.67 655.65 1090.33 654.59 1092.92 654.75C1094.72 654.86 1096.13 658.33 1097.91 658.07C1100.37 657.72 1102.32 654.2 1104.55 653.09C1106.88 651.93 1110.53 651.76 1112.86 650.6C1115.09 649.48 1117.8 647.44 1119.5 645.61C1121.34 643.64 1123.32 640.57 1124.49 638.14C1126.08 634.8 1127.01 629.84 1128.64 626.51C1129.29 625.18 1130.52 622.5 1131.96 622.86C1133.78 623.31 1133.48 628.69 1135.28 628.17C1137.75 627.46 1137.45 622.32 1139.44 620.7C1140.59 619.75 1143.08 621.37 1144.42 620.7C1146.31 619.75 1147.44 614.93 1149.4 615.71C1151.89 616.71 1150.27 622.93 1152.72 624.02C1154.5 624.81 1155.23 618.01 1156.88 619.04C1159.29 620.54 1158.29 625.55 1159.37 628.17C1160.05 629.83 1161.42 631.89 1162.69 633.16C1163.48 633.94 1165.46 633.85 1166.01 634.82C1167.58 637.55 1168.17 641.86 1169.34 644.78C1170.16 646.85 1171.74 649.4 1172.66 651.43C1174.23 654.88 1176.05 659.61 1177.64 663.06C1179.04 666.09 1180.64 670.33 1182.62 673.02C1184.2 675.16 1187.01 677.46 1189.27 678.84C1191.56 680.24 1194.95 681.59 1197.57 682.16" fill="none" stroke="#161616" stroke-width="1.3" stroke-linejoin="round" stroke-linecap="round"/>
<path d="M976.4 723.19C981.96 723.09 989.37 723.19 994.92 722.86C999.42 722.59 1005.49 722.29 1009.87 721.2C1012.57 720.52 1015.68 718.29 1018.17 717.04C1020.17 716.05 1023.06 715.1 1024.82 713.72C1026.62 712.3 1028.73 709.94 1029.8 707.91C1031.52 704.63 1032.62 699.74 1033.95 696.28C1035.12 693.26 1036.66 689.21 1038.11 686.31C1039.41 683.71 1041.69 680.55 1043.09 678.01C1044.43 675.57 1045.95 672.17 1047.24 669.7C1048.44 667.43 1049.26 663.65 1051.4 662.23C1052.43 661.53 1053.72 663.97 1054.72 664.72C1055.71 665.47 1056.83 666.92 1058.04 667.21C1059.5 667.56 1061.68 667.38 1063.02 666.71C1064.35 666.05 1064.87 663.14 1066.35 663.06C1067.59 662.99 1068.35 665.23 1068.84 666.38C1069.86 668.77 1070.26 672.31 1071.33 674.68C1072.03 676.25 1072.94 679.34 1074.65 679.34C1076.23 679.34 1076.35 676.05 1077.14 674.68C1078.09 673.06 1078.63 669.78 1080.47 669.37C1082.09 669.01 1083.4 671.89 1084.62 673.02C1085.65 673.98 1086.77 675.56 1087.94 676.35C1089.06 677.09 1090.94 678.7 1092.09 678.01C1094.11 676.8 1094.26 672.62 1096.25 671.36C1097.52 670.55 1099.72 672.34 1101.23 672.19C1102.34 672.08 1103.46 670.29 1104.55 670.53C1106.11 670.88 1107.34 673.03 1108.7 673.85C1109.85 674.54 1111.56 675.85 1112.86 675.51C1114.5 675.09 1115.39 672.18 1117.01 671.69C1118.26 671.32 1119.95 672.54 1121.16 673.02C1122.2 673.44 1123.7 673.9 1124.49 674.68C1125.76 675.95 1126.06 679.23 1127.81 679.67C1129.17 680.01 1129.76 676 1131.13 676.35C1132.87 676.78 1133.49 679.81 1134.45 681.33C1135.23 682.55 1135.49 685.48 1136.94 685.48C1138.71 685.48 1139.35 681.13 1141.1 681.33C1142.88 681.53 1143.22 684.97 1144.42 686.31C1145.25 687.24 1146.63 688.25 1147.74 688.8C1148.66 689.26 1150.3 688.95 1151.06 689.63C1152.92 691.3 1154.61 694.24 1156.05 696.28C1157.6 698.48 1159.12 701.85 1161.03 703.75C1162.69 705.42 1165.96 706.3 1167.67 707.91C1170 710.09 1171.8 714.25 1174.32 716.21C1176.44 717.86 1180.07 718.72 1182.62 719.53C1185.56 720.47 1189.53 721.63 1192.59 722.03C1198.04 722.73 1205.37 723.1 1210.86 723.19C1225.78 723.44 1245.68 723.19 1260.6 723.19" fill="none" stroke="#3a3a3a" stroke-width="0.8" stroke-linejoin="round"/>
<path d="M1009.87 721.2C1012.57 720.52 1015.68 718.29 1018.17 717.04C1020.17 716.05 1023.06 715.1 1024.82 713.72C1026.62 712.3 1028.73 709.94 1029.8 707.91C1031.52 704.63 1032.62 699.74 1033.95 696.28C1035.12 693.26 1036.66 689.21 1038.11 686.31C1039.41 683.71 1041.69 680.55 1043.09 678.01C1044.43 675.57 1045.95 672.17 1047.24 669.7C1048.44 667.43 1049.26 663.65 1051.4 662.23C1052.43 661.53 1053.72 663.97 1054.72 664.72C1055.71 665.47 1056.83 666.92 1058.04 667.21C1059.5 667.56 1061.68 667.38 1063.02 666.71C1064.35 666.05 1064.87 663.14 1066.35 663.06C1067.59 662.99 1068.35 665.23 1068.84 666.38C1069.86 668.77 1070.26 672.31 1071.33 674.68C1072.03 676.25 1072.94 679.34 1074.65 679.34C1076.23 679.34 1076.35 676.05 1077.14 674.68C1078.09 673.06 1078.63 669.78 1080.47 669.37C1082.09 669.01 1083.4 671.89 1084.62 673.02C1085.65 673.98 1086.77 675.56 1087.94 676.35C1089.06 677.09 1090.94 678.7 1092.09 678.01C1094.11 676.8 1094.26 672.62 1096.25 671.36C1097.52 670.55 1099.72 672.34 1101.23 672.19C1102.34 672.08 1103.46 670.29 1104.55 670.53C1106.11 670.88 1107.34 673.03 1108.7 673.85C1109.85 674.54 1111.56 675.85 1112.86 675.51C1114.5 675.09 1115.39 672.18 1117.01 671.69C1118.26 671.32 1119.95 672.54 1121.16 673.02C1122.2 673.44 1123.7 673.9 1124.49 674.68C1125.76 675.95 1126.06 679.23 1127.81 679.67C1129.17 680.01 1129.76 676 1131.13 676.35C1132.87 676.78 1133.49 679.81 1134.45 681.33C1135.23 682.55 1135.49 685.48 1136.94 685.48C1138.71 685.48 1139.35 681.13 1141.1 681.33C1142.88 681.53 1143.22 684.97 1144.42 686.31C1145.25 687.24 1146.63 688.25 1147.74 688.8C1148.66 689.26 1150.3 688.95 1151.06 689.63C1152.92 691.3 1154.61 694.24 1156.05 696.28C1157.6 698.48 1159.12 701.85 1161.03 703.75C1162.69 705.42 1165.96 706.3 1167.67 707.91C1170 710.09 1171.8 714.25 1174.32 716.21C1176.44 717.86 1180.07 718.72 1182.62 719.53C1185.56 720.47 1189.53 721.63 1192.59 722.03" fill="none" stroke="#161616" stroke-width="1.3" stroke-linejoin="round" stroke-linecap="round"/>
</g>
<line x1="1137.5" y1="436.6" x2="1137.5" y2="720.8" stroke="#4a4a4a" stroke-width="1" />
<text transform="translate(1257.5 515.9) scale(0.982 1)" font-size="29.4" text-anchor="end" fill="#000" stroke="#000" stroke-width="0.42" >99.5</text>
<text transform="translate(1257.5 555.9) scale(0.982 1)" font-size="29.4" text-anchor="end" fill="#000" stroke="#000" stroke-width="0.42" >95.7</text>
<text transform="translate(1257.5 594) scale(0.982 1)" font-size="29.4" text-anchor="end" fill="#000" stroke="#000" stroke-width="0.42" >97.8</text>
<text transform="translate(1257.5 631.7) scale(0.982 1)" font-size="29.4" text-anchor="end" fill="#000" stroke="#000" stroke-width="0.42" >88.8</text>
<text transform="translate(1257.5 673.2) scale(0.982 1)" font-size="29.4" text-anchor="end" fill="#000" stroke="#000" stroke-width="0.42" >52.6</text>
<text transform="translate(1257.5 711) scale(0.982 1)" font-size="29.4" text-anchor="end" fill="#000" stroke="#000" stroke-width="0.42" >20.4</text>
</g>
<g id="hist-c2">
<clipPath id="clip-c2"><rect x="1269.5" y="437.1" width="283.4" height="286.6"/></clipPath>
<rect x="1269.5" y="437.1" width="283.4" height="283.6" fill="#fff" stroke="#8a8a8a" stroke-width="1"/>
<g clip-path="url(#clip-c2)">
<path d="M1269.5 523.52C1317.98 523.52 1382.63 523.75 1431.11 523.52C1435.11 523.5 1440.42 523 1444.4 522.69C1446.9 522.5 1450.28 522.48 1452.71 521.86C1454.83 521.32 1457.48 520 1459.35 518.87C1461.49 517.59 1464.3 515.71 1466 513.89C1467.84 511.92 1469.49 508.65 1470.98 506.41C1472.48 504.17 1474.67 501.3 1475.96 498.94C1477.67 495.8 1479.62 491.45 1480.95 488.14C1482.12 485.21 1483.4 481.2 1484.27 478.17C1485.4 474.22 1486.34 468.8 1487.59 464.88C1488.34 462.55 1489.8 459.59 1490.91 457.41C1492.04 455.2 1492.79 451.24 1495.07 450.27C1496.44 449.68 1496.74 453.34 1497.56 454.58C1497.99 455.24 1498.5 456.29 1499.22 456.58C1499.92 456.86 1501.37 455.57 1501.71 456.25C1503.13 459.09 1503.44 463.46 1504.2 466.54C1505.19 470.53 1506.53 475.85 1507.52 479.83C1508.52 483.82 1509.72 489.17 1510.85 493.12C1511.71 496.15 1512.96 500.18 1514.17 503.09C1515.46 506.18 1517.43 510.19 1519.15 513.06C1520.43 515.19 1522.34 517.97 1524.14 519.7C1525.39 520.91 1527.44 522.21 1529.12 522.69C1531.53 523.38 1534.92 523.43 1537.43 523.52C1542.06 523.68 1548.26 523.52 1552.9 523.52L1552.9 523.52L1269.5 523.52Z" fill="rgba(0,0,0,0.2)" stroke="none"/>
<path d="M1269.5 563.39C1295.56 563.39 1330.3 563.43 1356.36 563.39C1361.35 563.38 1367.99 563.35 1372.97 563.22C1377.96 563.1 1384.6 562.78 1389.58 562.56C1394.57 562.33 1401.21 561.98 1406.2 561.73C1411.18 561.48 1417.82 561.15 1422.81 560.9C1425.8 560.75 1429.81 560.78 1432.77 560.4C1434.81 560.13 1437.63 559.74 1439.42 558.74C1441.73 557.44 1444.01 554.59 1446.06 552.92C1448 551.35 1450.82 549.56 1452.71 547.94C1454.31 546.56 1456.59 544.76 1457.69 542.96C1459.38 540.19 1460.68 536.01 1461.84 532.99C1463.17 529.53 1464.55 524.77 1466 521.36C1467.3 518.28 1469.69 514.48 1470.98 511.4C1472.19 508.49 1472.65 504.11 1474.3 501.43C1474.84 500.55 1476.87 501.3 1477.62 500.6C1479.25 499.08 1479.56 494.67 1481.78 494.45C1483.79 494.25 1484.86 498.05 1485.93 499.77C1487.11 501.66 1488.42 504.34 1489.25 506.41C1490.42 509.34 1491.28 513.5 1492.57 516.38C1493.54 518.52 1495.82 520.85 1496.73 523.02C1498.33 526.88 1499.52 532.36 1500.88 536.31C1502.26 540.34 1504.02 545.76 1505.86 549.6C1507.03 552.03 1508.94 555.17 1510.85 557.08C1512.51 558.74 1515.3 560.38 1517.49 561.23C1519.86 562.15 1523.27 562.62 1525.8 562.89C1529.27 563.27 1533.93 563.32 1537.43 563.39C1542.07 563.47 1548.26 563.39 1552.9 563.39L1552.9 563.39L1269.5 563.39Z" fill="rgba(0,0,0,0.2)" stroke="none"/>
<path d="M1269.5 603.26C1286.59 603.01 1309.37 602.68 1326.46 602.43C1332.94 602.33 1341.58 602.09 1348.06 602.09C1358.02 602.09 1371.31 602.52 1381.28 602.43C1386.27 602.38 1392.9 601.72 1397.89 601.59C1402.87 601.47 1409.52 601.76 1414.5 601.59C1417 601.51 1420.32 601.06 1422.81 600.76C1425.31 600.46 1428.62 599.93 1431.11 599.6C1433.6 599.28 1437.05 599.43 1439.42 598.6C1441.17 597.99 1443.11 596.28 1444.4 594.95C1446.13 593.16 1447.95 590.34 1449.39 588.31C1450.94 586.1 1453.28 583.3 1454.37 580.83C1455.8 577.6 1456.6 572.89 1457.69 569.53C1458.84 566.01 1460.67 561.42 1461.84 557.91C1463.16 553.94 1464.55 548.53 1466 544.62C1467.04 541.79 1467.64 537.15 1470.15 535.48C1471.48 534.6 1471.89 539.46 1473.47 539.63C1475.06 539.81 1476.03 536.31 1477.62 536.31C1478.87 536.31 1479.65 538.48 1480.12 539.63C1481.67 543.51 1483.09 548.92 1484.27 552.92C1485.58 557.39 1487.16 563.39 1488.42 567.87C1489.4 571.37 1490.4 576.13 1491.74 579.5C1492.66 581.8 1494.64 584.51 1495.9 586.64C1497.38 589.15 1499.11 592.65 1500.88 594.95C1502.13 596.57 1504.14 598.5 1505.86 599.6C1507.69 600.77 1510.39 601.96 1512.51 602.43C1515.44 603.07 1519.48 603.19 1522.48 603.26C1531.6 603.44 1543.77 603.26 1552.9 603.26L1552.9 603.26L1269.5 603.26Z" fill="rgba(0,0,0,0.2)" stroke="none"/>
<path d="M1269.5 643.12C1285.59 643.12 1307.05 643.52 1323.14 643.12C1327.16 643.02 1332.45 642.04 1336.43 641.46C1339.93 640.95 1344.56 640.01 1348.06 639.47C1351.04 639.01 1355.05 638.67 1358.02 638.14C1360.05 637.78 1362.73 637.16 1364.67 636.48C1366.73 635.76 1369.15 633.81 1371.31 633.49C1373.31 633.19 1375.96 634.78 1377.96 634.49C1380.12 634.16 1382.75 632.66 1384.6 631.5C1385.79 630.74 1387.18 629.37 1387.92 628.17C1389.21 626.08 1389.51 622.43 1391.25 620.7C1392.32 619.63 1394.82 620.43 1396.23 619.87C1397.39 619.4 1398.58 618.15 1399.55 617.38C1401.07 616.16 1402.63 613.6 1404.53 613.22C1405.76 612.98 1406.62 615.87 1407.86 615.71C1409.26 615.54 1409.94 613.06 1411.18 612.39C1412.53 611.66 1414.66 611.53 1416.16 611.23C1417.15 611.03 1418.86 611.52 1419.49 610.73C1421.56 608.11 1422.34 603.34 1424.47 600.76C1425.96 598.95 1429.76 598.53 1431.11 596.61C1432.93 594.04 1433.26 589.57 1434.44 586.64C1435.26 584.58 1436.34 581.72 1437.76 580C1439.4 578 1442.62 576.39 1444.4 574.52C1445.64 573.22 1446.52 570.87 1447.72 569.53C1448.45 568.74 1449.78 567.01 1450.71 567.54C1452.28 568.44 1452.77 571.23 1453.54 572.86C1454.11 574.07 1454.08 576.27 1455.2 577.01C1456.05 577.58 1457.61 575.71 1458.52 576.18C1459.74 576.81 1460.48 578.74 1461.01 580C1462.24 582.9 1463.28 587 1464.34 589.97C1465.77 593.98 1467.82 599.27 1469.32 603.26C1470.81 607.24 1472.72 612.59 1474.3 616.54C1475.71 620.07 1477.53 624.81 1479.29 628.17C1480.53 630.56 1482.36 633.74 1484.27 635.65C1485.93 637.31 1488.75 638.87 1490.91 639.8C1493.78 641.03 1497.79 642.35 1500.88 642.79C1504.83 643.35 1510.18 643.1 1514.17 643.12C1525.79 643.2 1541.28 643.12 1552.9 643.12L1552.9 643.12L1269.5 643.12Z" fill="rgba(0,0,0,0.2)" stroke="none"/>
<path d="M1269.5 682.99C1280.61 682.99 1295.42 683.28 1306.53 682.99C1310.53 682.88 1315.87 682.32 1319.82 681.66C1323.36 681.07 1328.09 680.12 1331.45 678.84C1333.64 678 1336.14 675.99 1338.09 674.68C1339.63 673.65 1341.41 671.86 1343.07 671.03C1343.97 670.58 1345.55 671.09 1346.4 670.53C1348.16 669.37 1349.94 667.09 1351.38 665.55C1353.43 663.35 1356.12 660.39 1358.02 658.07C1359.61 656.15 1361.45 653.37 1363.01 651.43C1364.44 649.63 1366.61 647.45 1367.99 645.61C1369.61 643.46 1370.9 639.86 1372.97 638.14C1374.14 637.17 1376.66 638.09 1377.96 637.31C1379.32 636.49 1380 634.11 1381.28 633.16C1382.1 632.54 1383.58 632.2 1384.6 632.33C1385.71 632.46 1386.93 634.49 1387.92 633.99C1389.98 632.96 1391.21 629.73 1392.91 628.17C1394.23 626.96 1396.38 625.82 1397.89 624.85C1399.87 623.58 1402.62 622.06 1404.53 620.7C1406.12 619.57 1407.84 617.53 1409.52 616.54C1410.88 615.75 1412.97 615.25 1414.5 614.88C1415.48 614.65 1416.95 614.07 1417.82 614.55C1419.43 615.44 1420.45 618.02 1421.98 619.04C1422.82 619.6 1424.59 618.82 1425.3 619.53C1427.02 621.26 1427.94 624.6 1429.45 626.51C1430.22 627.49 1431.98 628.05 1432.77 629C1434.5 631.07 1436.2 634.28 1437.76 636.48C1439.19 638.51 1441.25 641.13 1442.74 643.12C1444.24 645.12 1446.34 647.69 1447.72 649.77C1449.34 652.19 1451.1 655.66 1452.71 658.07C1454.09 660.15 1456.07 662.83 1457.69 664.72C1459.07 666.32 1461.18 668.21 1462.67 669.7C1464.17 671.2 1466.05 673.31 1467.66 674.68C1469.55 676.31 1472.07 678.55 1474.3 679.67C1476.63 680.83 1480.04 681.73 1482.61 682.16C1486.06 682.73 1490.74 682.95 1494.24 682.99C1511.83 683.2 1535.3 682.99 1552.9 682.99L1552.9 682.99L1269.5 682.99Z" fill="rgba(0,0,0,0.2)" stroke="none"/>
<path d="M1269.5 721.2C1282.1 721.2 1298.93 721.86 1311.51 721.2C1313.18 721.11 1315.13 719.68 1316.5 718.7C1318.65 717.16 1321.21 714.7 1323.14 712.89C1325.2 710.96 1327.64 708.07 1329.78 706.25C1331.64 704.67 1334.25 702.68 1336.43 701.59C1337.8 700.91 1339.99 701 1341.41 700.43C1343.01 699.79 1344.73 698.04 1346.4 697.61C1347.38 697.35 1348.79 698.69 1349.72 698.27C1351.3 697.57 1352.16 694.53 1353.87 694.29C1355.36 694.08 1356.57 696.72 1358.02 697.11C1359.02 697.37 1360.32 696.28 1361.35 696.28C1362.86 696.28 1364.97 697.79 1366.33 697.11C1367.94 696.31 1368.53 693.53 1369.65 692.13C1370.53 691.03 1371.71 689.42 1372.97 688.8C1373.66 688.47 1375.06 689.95 1375.47 689.3C1377.11 686.72 1377.25 682.31 1378.79 679.67C1379.17 679.02 1380.71 679.83 1381.28 679.34C1382.58 678.22 1383.68 676.13 1384.6 674.68C1386.17 672.24 1388.07 668.86 1389.58 666.38C1391.56 663.13 1393.65 658.38 1396.23 655.58C1396.91 654.85 1398.64 655.99 1399.55 655.58C1401.01 654.93 1402.31 653.03 1403.7 652.26C1405.33 651.36 1407.66 650.24 1409.52 650.1C1411.06 649.98 1413.24 650.53 1414.5 651.43C1416.37 652.77 1417.99 655.5 1419.49 657.24C1420.98 658.99 1423.22 661.13 1424.47 663.06C1425.98 665.4 1427.48 668.82 1428.62 671.36C1429.72 673.81 1430.74 677.27 1431.94 679.67C1432.99 681.77 1434.69 684.43 1436.1 686.31C1436.94 687.44 1438.68 688.43 1439.42 689.63C1440.7 691.72 1441.64 694.91 1442.74 697.11C1444.14 699.9 1445.93 703.69 1447.72 706.25C1449.44 708.7 1452.18 711.67 1454.37 713.72C1456.19 715.43 1458.77 717.63 1461.01 718.7C1463.34 719.81 1466.75 720.79 1469.32 720.86C1494.38 721.54 1527.83 721.1 1552.9 721.2L1552.9 721.53L1269.5 721.53Z" fill="rgba(0,0,0,0.2)" stroke="none"/>
<path d="M1269.5 523.52C1317.98 523.52 1382.63 523.75 1431.11 523.52C1435.11 523.5 1440.42 523 1444.4 522.69C1446.9 522.5 1450.28 522.48 1452.71 521.86C1454.83 521.32 1457.48 520 1459.35 518.87C1461.49 517.59 1464.3 515.71 1466 513.89C1467.84 511.92 1469.49 508.65 1470.98 506.41C1472.48 504.17 1474.67 501.3 1475.96 498.94C1477.67 495.8 1479.62 491.45 1480.95 488.14C1482.12 485.21 1483.4 481.2 1484.27 478.17C1485.4 474.22 1486.34 468.8 1487.59 464.88C1488.34 462.55 1489.8 459.59 1490.91 457.41C1492.04 455.2 1492.79 451.24 1495.07 450.27C1496.44 449.68 1496.74 453.34 1497.56 454.58C1497.99 455.24 1498.5 456.29 1499.22 456.58C1499.92 456.86 1501.37 455.57 1501.71 456.25C1503.13 459.09 1503.44 463.46 1504.2 466.54C1505.19 470.53 1506.53 475.85 1507.52 479.83C1508.52 483.82 1509.72 489.17 1510.85 493.12C1511.71 496.15 1512.96 500.18 1514.17 503.09C1515.46 506.18 1517.43 510.19 1519.15 513.06C1520.43 515.19 1522.34 517.97 1524.14 519.7C1525.39 520.91 1527.44 522.21 1529.12 522.69C1531.53 523.38 1534.92 523.43 1537.43 523.52C1542.06 523.68 1548.26 523.52 1552.9 523.52" fill="none" stroke="#3a3a3a" stroke-width="0.8" stroke-linejoin="round"/>
<path d="M1452.71 521.86C1454.83 521.32 1457.48 520 1459.35 518.87C1461.49 517.59 1464.3 515.71 1466 513.89C1467.84 511.92 1469.49 508.65 1470.98 506.41C1472.48 504.17 1474.67 501.3 1475.96 498.94C1477.67 495.8 1479.62 491.45 1480.95 488.14C1482.12 485.21 1483.4 481.2 1484.27 478.17C1485.4 474.22 1486.34 468.8 1487.59 464.88C1488.34 462.55 1489.8 459.59 1490.91 457.41C1492.04 455.2 1492.79 451.24 1495.07 450.27C1496.44 449.68 1496.74 453.34 1497.56 454.58C1497.99 455.24 1498.5 456.29 1499.22 456.58C1499.92 456.86 1501.37 455.57 1501.71 456.25C1503.13 459.09 1503.44 463.46 1504.2 466.54C1505.19 470.53 1506.53 475.85 1507.52 479.83C1508.52 483.82 1509.72 489.17 1510.85 493.12C1511.71 496.15 1512.96 500.18 1514.17 503.09C1515.46 506.18 1517.43 510.19 1519.15 513.06C1520.43 515.19 1522.34 517.97 1524.14 519.7C1525.39 520.91 1527.44 522.21 1529.12 522.69" fill="none" stroke="#161616" stroke-width="1.3" stroke-linejoin="round" stroke-linecap="round"/>
<path d="M1269.5 563.39C1295.56 563.39 1330.3 563.43 1356.36 563.39C1361.35 563.38 1367.99 563.35 1372.97 563.22C1377.96 563.1 1384.6 562.78 1389.58 562.56C1394.57 562.33 1401.21 561.98 1406.2 561.73C1411.18 561.48 1417.82 561.15 1422.81 560.9C1425.8 560.75 1429.81 560.78 1432.77 560.4C1434.81 560.13 1437.63 559.74 1439.42 558.74C1441.73 557.44 1444.01 554.59 1446.06 552.92C1448 551.35 1450.82 549.56 1452.71 547.94C1454.31 546.56 1456.59 544.76 1457.69 542.96C1459.38 540.19 1460.68 536.01 1461.84 532.99C1463.17 529.53 1464.55 524.77 1466 521.36C1467.3 518.28 1469.69 514.48 1470.98 511.4C1472.19 508.49 1472.65 504.11 1474.3 501.43C1474.84 500.55 1476.87 501.3 1477.62 500.6C1479.25 499.08 1479.56 494.67 1481.78 494.45C1483.79 494.25 1484.86 498.05 1485.93 499.77C1487.11 501.66 1488.42 504.34 1489.25 506.41C1490.42 509.34 1491.28 513.5 1492.57 516.38C1493.54 518.52 1495.82 520.85 1496.73 523.02C1498.33 526.88 1499.52 532.36 1500.88 536.31C1502.26 540.34 1504.02 545.76 1505.86 549.6C1507.03 552.03 1508.94 555.17 1510.85 557.08C1512.51 558.74 1515.3 560.38 1517.49 561.23C1519.86 562.15 1523.27 562.62 1525.8 562.89C1529.27 563.27 1533.93 563.32 1537.43 563.39C1542.07 563.47 1548.26 563.39 1552.9 563.39" fill="none" stroke="#3a3a3a" stroke-width="0.8" stroke-linejoin="round"/>
<path d="M1432.77 560.4C1434.81 560.13 1437.63 559.74 1439.42 558.74C1441.73 557.44 1444.01 554.59 1446.06 552.92C1448 551.35 1450.82 549.56 1452.71 547.94C1454.31 546.56 1456.59 544.76 1457.69 542.96C1459.38 540.19 1460.68 536.01 1461.84 532.99C1463.17 529.53 1464.55 524.77 1466 521.36C1467.3 518.28 1469.69 514.48 1470.98 511.4C1472.19 508.49 1472.65 504.11 1474.3 501.43C1474.84 500.55 1476.87 501.3 1477.62 500.6C1479.25 499.08 1479.56 494.67 1481.78 494.45C1483.79 494.25 1484.86 498.05 1485.93 499.77C1487.11 501.66 1488.42 504.34 1489.25 506.41C1490.42 509.34 1491.28 513.5 1492.57 516.38C1493.54 518.52 1495.82 520.85 1496.73 523.02C1498.33 526.88 1499.52 532.36 1500.88 536.31C1502.26 540.34 1504.02 545.76 1505.86 549.6C1507.03 552.03 1508.94 555.17 1510.85 557.08C1512.51 558.74 1515.3 560.38 1517.49 561.23C1519.86 562.15 1523.27 562.62 1525.8 562.89" fill="none" stroke="#161616" stroke-width="1.3" stroke-linejoin="round" stroke-linecap="round"/>
<path d="M1269.5 603.26C1286.59 603.01 1309.37 602.68 1326.46 602.43C1332.94 602.33 1341.58 602.09 1348.06 602.09C1358.02 602.09 1371.31 602.52 1381.28 602.43C1386.27 602.38 1392.9 601.72 1397.89 601.59C1402.87 601.47 1409.52 601.76 1414.5 601.59C1417 601.51 1420.32 601.06 1422.81 600.76C1425.31 600.46 1428.62 599.93 1431.11 599.6C1433.6 599.28 1437.05 599.43 1439.42 598.6C1441.17 597.99 1443.11 596.28 1444.4 594.95C1446.13 593.16 1447.95 590.34 1449.39 588.31C1450.94 586.1 1453.28 583.3 1454.37 580.83C1455.8 577.6 1456.6 572.89 1457.69 569.53C1458.84 566.01 1460.67 561.42 1461.84 557.91C1463.16 553.94 1464.55 548.53 1466 544.62C1467.04 541.79 1467.64 537.15 1470.15 535.48C1471.48 534.6 1471.89 539.46 1473.47 539.63C1475.06 539.81 1476.03 536.31 1477.62 536.31C1478.87 536.31 1479.65 538.48 1480.12 539.63C1481.67 543.51 1483.09 548.92 1484.27 552.92C1485.58 557.39 1487.16 563.39 1488.42 567.87C1489.4 571.37 1490.4 576.13 1491.74 579.5C1492.66 581.8 1494.64 584.51 1495.9 586.64C1497.38 589.15 1499.11 592.65 1500.88 594.95C1502.13 596.57 1504.14 598.5 1505.86 599.6C1507.69 600.77 1510.39 601.96 1512.51 602.43C1515.44 603.07 1519.48 603.19 1522.48 603.26C1531.6 603.44 1543.77 603.26 1552.9 603.26" fill="none" stroke="#3a3a3a" stroke-width="0.8" stroke-linejoin="round"/>
<path d="M1422.81 600.76C1425.31 600.46 1428.62 599.93 1431.11 599.6M1439.42 598.6C1441.17 597.99 1443.11 596.28 1444.4 594.95C1446.13 593.16 1447.95 590.34 1449.39 588.31C1450.94 586.1 1453.28 583.3 1454.37 580.83C1455.8 577.6 1456.6 572.89 1457.69 569.53C1458.84 566.01 1460.67 561.42 1461.84 557.91C1463.16 553.94 1464.55 548.53 1466 544.62C1467.04 541.79 1467.64 537.15 1470.15 535.48C1471.48 534.6 1471.89 539.46 1473.47 539.63C1475.06 539.81 1476.03 536.31 1477.62 536.31C1478.87 536.31 1479.65 538.48 1480.12 539.63C1481.67 543.51 1483.09 548.92 1484.27 552.92C1485.58 557.39 1487.16 563.39 1488.42 567.87C1489.4 571.37 1490.4 576.13 1491.74 579.5C1492.66 581.8 1494.64 584.51 1495.9 586.64C1497.38 589.15 1499.11 592.65 1500.88 594.95C1502.13 596.57 1504.14 598.5 1505.86 599.6C1507.69 600.77 1510.39 601.96 1512.51 602.43" fill="none" stroke="#161616" stroke-width="1.3" stroke-linejoin="round" stroke-linecap="round"/>
<path d="M1269.5 643.12C1285.59 643.12 1307.05 643.52 1323.14 643.12C1327.16 643.02 1332.45 642.04 1336.43 641.46C1339.93 640.95 1344.56 640.01 1348.06 639.47C1351.04 639.01 1355.05 638.67 1358.02 638.14C1360.05 637.78 1362.73 637.16 1364.67 636.48C1366.73 635.76 1369.15 633.81 1371.31 633.49C1373.31 633.19 1375.96 634.78 1377.96 634.49C1380.12 634.16 1382.75 632.66 1384.6 631.5C1385.79 630.74 1387.18 629.37 1387.92 628.17C1389.21 626.08 1389.51 622.43 1391.25 620.7C1392.32 619.63 1394.82 620.43 1396.23 619.87C1397.39 619.4 1398.58 618.15 1399.55 617.38C1401.07 616.16 1402.63 613.6 1404.53 613.22C1405.76 612.98 1406.62 615.87 1407.86 615.71C1409.26 615.54 1409.94 613.06 1411.18 612.39C1412.53 611.66 1414.66 611.53 1416.16 611.23C1417.15 611.03 1418.86 611.52 1419.49 610.73C1421.56 608.11 1422.34 603.34 1424.47 600.76C1425.96 598.95 1429.76 598.53 1431.11 596.61C1432.93 594.04 1433.26 589.57 1434.44 586.64C1435.26 584.58 1436.34 581.72 1437.76 580C1439.4 578 1442.62 576.39 1444.4 574.52C1445.64 573.22 1446.52 570.87 1447.72 569.53C1448.45 568.74 1449.78 567.01 1450.71 567.54C1452.28 568.44 1452.77 571.23 1453.54 572.86C1454.11 574.07 1454.08 576.27 1455.2 577.01C1456.05 577.58 1457.61 575.71 1458.52 576.18C1459.74 576.81 1460.48 578.74 1461.01 580C1462.24 582.9 1463.28 587 1464.34 589.97C1465.77 593.98 1467.82 599.27 1469.32 603.26C1470.81 607.24 1472.72 612.59 1474.3 616.54C1475.71 620.07 1477.53 624.81 1479.29 628.17C1480.53 630.56 1482.36 633.74 1484.27 635.65C1485.93 637.31 1488.75 638.87 1490.91 639.8C1493.78 641.03 1497.79 642.35 1500.88 642.79C1504.83 643.35 1510.18 643.1 1514.17 643.12C1525.79 643.2 1541.28 643.12 1552.9 643.12" fill="none" stroke="#3a3a3a" stroke-width="0.8" stroke-linejoin="round"/>
<path d="M1336.43 641.46C1339.93 640.95 1344.56 640.01 1348.06 639.47C1351.04 639.01 1355.05 638.67 1358.02 638.14C1360.05 637.78 1362.73 637.16 1364.67 636.48C1366.73 635.76 1369.15 633.81 1371.31 633.49C1373.31 633.19 1375.96 634.78 1377.96 634.49C1380.12 634.16 1382.75 632.66 1384.6 631.5C1385.79 630.74 1387.18 629.37 1387.92 628.17C1389.21 626.08 1389.51 622.43 1391.25 620.7C1392.32 619.63 1394.82 620.43 1396.23 619.87C1397.39 619.4 1398.58 618.15 1399.55 617.38C1401.07 616.16 1402.63 613.6 1404.53 613.22C1405.76 612.98 1406.62 615.87 1407.86 615.71C1409.26 615.54 1409.94 613.06 1411.18 612.39C1412.53 611.66 1414.66 611.53 1416.16 611.23C1417.15 611.03 1418.86 611.52 1419.49 610.73C1421.56 608.11 1422.34 603.34 1424.47 600.76C1425.96 598.95 1429.76 598.53 1431.11 596.61C1432.93 594.04 1433.26 589.57 1434.44 586.64C1435.26 584.58 1436.34 581.72 1437.76 580C1439.4 578 1442.62 576.39 1444.4 574.52C1445.64 573.22 1446.52 570.87 1447.72 569.53C1448.45 568.74 1449.78 567.01 1450.71 567.54C1452.28 568.44 1452.77 571.23 1453.54 572.86C1454.11 574.07 1454.08 576.27 1455.2 577.01C1456.05 577.58 1457.61 575.71 1458.52 576.18C1459.74 576.81 1460.48 578.74 1461.01 580C1462.24 582.9 1463.28 587 1464.34 589.97C1465.77 593.98 1467.82 599.27 1469.32 603.26C1470.81 607.24 1472.72 612.59 1474.3 616.54C1475.71 620.07 1477.53 624.81 1479.29 628.17C1480.53 630.56 1482.36 633.74 1484.27 635.65C1485.93 637.31 1488.75 638.87 1490.91 639.8C1493.78 641.03 1497.79 642.35 1500.88 642.79" fill="none" stroke="#161616" stroke-width="1.3" stroke-linejoin="round" stroke-linecap="round"/>
<path d="M1269.5 682.99C1280.61 682.99 1295.42 683.28 1306.53 682.99C1310.53 682.88 1315.87 682.32 1319.82 681.66C1323.36 681.07 1328.09 680.12 1331.45 678.84C1333.64 678 1336.14 675.99 1338.09 674.68C1339.63 673.65 1341.41 671.86 1343.07 671.03C1343.97 670.58 1345.55 671.09 1346.4 670.53C1348.16 669.37 1349.94 667.09 1351.38 665.55C1353.43 663.35 1356.12 660.39 1358.02 658.07C1359.61 656.15 1361.45 653.37 1363.01 651.43C1364.44 649.63 1366.61 647.45 1367.99 645.61C1369.61 643.46 1370.9 639.86 1372.97 638.14C1374.14 637.17 1376.66 638.09 1377.96 637.31C1379.32 636.49 1380 634.11 1381.28 633.16C1382.1 632.54 1383.58 632.2 1384.6 632.33C1385.71 632.46 1386.93 634.49 1387.92 633.99C1389.98 632.96 1391.21 629.73 1392.91 628.17C1394.23 626.96 1396.38 625.82 1397.89 624.85C1399.87 623.58 1402.62 622.06 1404.53 620.7C1406.12 619.57 1407.84 617.53 1409.52 616.54C1410.88 615.75 1412.97 615.25 1414.5 614.88C1415.48 614.65 1416.95 614.07 1417.82 614.55C1419.43 615.44 1420.45 618.02 1421.98 619.04C1422.82 619.6 1424.59 618.82 1425.3 619.53C1427.02 621.26 1427.94 624.6 1429.45 626.51C1430.22 627.49 1431.98 628.05 1432.77 629C1434.5 631.07 1436.2 634.28 1437.76 636.48C1439.19 638.51 1441.25 641.13 1442.74 643.12C1444.24 645.12 1446.34 647.69 1447.72 649.77C1449.34 652.19 1451.1 655.66 1452.71 658.07C1454.09 660.15 1456.07 662.83 1457.69 664.72C1459.07 666.32 1461.18 668.21 1462.67 669.7C1464.17 671.2 1466.05 673.31 1467.66 674.68C1469.55 676.31 1472.07 678.55 1474.3 679.67C1476.63 680.83 1480.04 681.73 1482.61 682.16C1486.06 682.73 1490.74 682.95 1494.24 682.99C1511.83 683.2 1535.3 682.99 1552.9 682.99" fill="none" stroke="#3a3a3a" stroke-width="0.8" stroke-linejoin="round"/>
<path d="M1319.82 681.66C1323.36 681.07 1328.09 680.12 1331.45 678.84C1333.64 678 1336.14 675.99 1338.09 674.68C1339.63 673.65 1341.41 671.86 1343.07 671.03C1343.97 670.58 1345.55 671.09 1346.4 670.53C1348.16 669.37 1349.94 667.09 1351.38 665.55C1353.43 663.35 1356.12 660.39 1358.02 658.07C1359.61 656.15 1361.45 653.37 1363.01 651.43C1364.44 649.63 1366.61 647.45 1367.99 645.61C1369.61 643.46 1370.9 639.86 1372.97 638.14C1374.14 637.17 1376.66 638.09 1377.96 637.31C1379.32 636.49 1380 634.11 1381.28 633.16C1382.1 632.54 1383.58 632.2 1384.6 632.33C1385.71 632.46 1386.93 634.49 1387.92 633.99C1389.98 632.96 1391.21 629.73 1392.91 628.17C1394.23 626.96 1396.38 625.82 1397.89 624.85C1399.87 623.58 1402.62 622.06 1404.53 620.7C1406.12 619.57 1407.84 617.53 1409.52 616.54C1410.88 615.75 1412.97 615.25 1414.5 614.88C1415.48 614.65 1416.95 614.07 1417.82 614.55C1419.43 615.44 1420.45 618.02 1421.98 619.04C1422.82 619.6 1424.59 618.82 1425.3 619.53C1427.02 621.26 1427.94 624.6 1429.45 626.51C1430.22 627.49 1431.98 628.05 1432.77 629C1434.5 631.07 1436.2 634.28 1437.76 636.48C1439.19 638.51 1441.25 641.13 1442.74 643.12C1444.24 645.12 1446.34 647.69 1447.72 649.77C1449.34 652.19 1451.1 655.66 1452.71 658.07C1454.09 660.15 1456.07 662.83 1457.69 664.72C1459.07 666.32 1461.18 668.21 1462.67 669.7C1464.17 671.2 1466.05 673.31 1467.66 674.68C1469.55 676.31 1472.07 678.55 1474.3 679.67C1476.63 680.83 1480.04 681.73 1482.61 682.16" fill="none" stroke="#161616" stroke-width="1.3" stroke-linejoin="round" stroke-linecap="round"/>
<path d="M1269.5 721.2C1282.1 721.2 1298.93 721.86 1311.51 721.2C1313.18 721.11 1315.13 719.68 1316.5 718.7C1318.65 717.16 1321.21 714.7 1323.14 712.89C1325.2 710.96 1327.64 708.07 1329.78 706.25C1331.64 704.67 1334.25 702.68 1336.43 701.59C1337.8 700.91 1339.99 701 1341.41 700.43C1343.01 699.79 1344.73 698.04 1346.4 697.61C1347.38 697.35 1348.79 698.69 1349.72 698.27C1351.3 697.57 1352.16 694.53 1353.87 694.29C1355.36 694.08 1356.57 696.72 1358.02 697.11C1359.02 697.37 1360.32 696.28 1361.35 696.28C1362.86 696.28 1364.97 697.79 1366.33 697.11C1367.94 696.31 1368.53 693.53 1369.65 692.13C1370.53 691.03 1371.71 689.42 1372.97 688.8C1373.66 688.47 1375.06 689.95 1375.47 689.3C1377.11 686.72 1377.25 682.31 1378.79 679.67C1379.17 679.02 1380.71 679.83 1381.28 679.34C1382.58 678.22 1383.68 676.13 1384.6 674.68C1386.17 672.24 1388.07 668.86 1389.58 666.38C1391.56 663.13 1393.65 658.38 1396.23 655.58C1396.91 654.85 1398.64 655.99 1399.55 655.58C1401.01 654.93 1402.31 653.03 1403.7 652.26C1405.33 651.36 1407.66 650.24 1409.52 650.1C1411.06 649.98 1413.24 650.53 1414.5 651.43C1416.37 652.77 1417.99 655.5 1419.49 657.24C1420.98 658.99 1423.22 661.13 1424.47 663.06C1425.98 665.4 1427.48 668.82 1428.62 671.36C1429.72 673.81 1430.74 677.27 1431.94 679.67C1432.99 681.77 1434.69 684.43 1436.1 686.31C1436.94 687.44 1438.68 688.43 1439.42 689.63C1440.7 691.72 1441.64 694.91 1442.74 697.11C1444.14 699.9 1445.93 703.69 1447.72 706.25C1449.44 708.7 1452.18 711.67 1454.37 713.72C1456.19 715.43 1458.77 717.63 1461.01 718.7C1463.34 719.81 1466.75 720.79 1469.32 720.86C1494.38 721.54 1527.83 721.1 1552.9 721.2" fill="none" stroke="#3a3a3a" stroke-width="0.8" stroke-linejoin="round"/>
<path d="M1311.51 721.2C1313.18 721.11 1315.13 719.68 1316.5 718.7C1318.65 717.16 1321.21 714.7 1323.14 712.89C1325.2 710.96 1327.64 708.07 1329.78 706.25C1331.64 704.67 1334.25 702.68 1336.43 701.59C1337.8 700.91 1339.99 701 1341.41 700.43C1343.01 699.79 1344.73 698.04 1346.4 697.61C1347.38 697.35 1348.79 698.69 1349.72 698.27C1351.3 697.57 1352.16 694.53 1353.87 694.29C1355.36 694.08 1356.57 696.72 1358.02 697.11C1359.02 697.37 1360.32 696.28 1361.35 696.28C1362.86 696.28 1364.97 697.79 1366.33 697.11C1367.94 696.31 1368.53 693.53 1369.65 692.13C1370.53 691.03 1371.71 689.42 1372.97 688.8C1373.66 688.47 1375.06 689.95 1375.47 689.3C1377.11 686.72 1377.25 682.31 1378.79 679.67C1379.17 679.02 1380.71 679.83 1381.28 679.34C1382.58 678.22 1383.68 676.13 1384.6 674.68C1386.17 672.24 1388.07 668.86 1389.58 666.38C1391.56 663.13 1393.65 658.38 1396.23 655.58C1396.91 654.85 1398.64 655.99 1399.55 655.58C1401.01 654.93 1402.31 653.03 1403.7 652.26C1405.33 651.36 1407.66 650.24 1409.52 650.1C1411.06 649.98 1413.24 650.53 1414.5 651.43C1416.37 652.77 1417.99 655.5 1419.49 657.24C1420.98 658.99 1423.22 661.13 1424.47 663.06C1425.98 665.4 1427.48 668.82 1428.62 671.36C1429.72 673.81 1430.74 677.27 1431.94 679.67C1432.99 681.77 1434.69 684.43 1436.1 686.31C1436.94 687.44 1438.68 688.43 1439.42 689.63C1440.7 691.72 1441.64 694.91 1442.74 697.11C1444.14 699.9 1445.93 703.69 1447.72 706.25C1449.44 708.7 1452.18 711.67 1454.37 713.72C1456.19 715.43 1458.77 717.63 1461.01 718.7C1463.34 719.81 1466.75 720.79 1469.32 720.86" fill="none" stroke="#161616" stroke-width="1.3" stroke-linejoin="round" stroke-linecap="round"/>
</g>
<line x1="1430.5" y1="437.1" x2="1430.5" y2="720.7" stroke="#4a4a4a" stroke-width="1" />
<text transform="translate(1549.5 515.3) scale(0.982 1)" font-size="29.4" text-anchor="end" fill="#000" stroke="#000" stroke-width="0.42" >99.9</text>
<text transform="translate(1549.5 556.9) scale(0.982 1)" font-size="29.4" text-anchor="end" fill="#000" stroke="#000" stroke-width="0.42" >96.6</text>
<text transform="translate(1549.5 596) scale(0.982 1)" font-size="29.4" text-anchor="end" fill="#000" stroke="#000" stroke-width="0.42" >98.1</text>
<text transform="translate(1549.5 636.3) scale(0.982 1)" font-size="29.4" text-anchor="end" fill="#000" stroke="#000" stroke-width="0.42" >71.9</text>
<text transform="translate(1549.5 676.9) scale(0.982 1)" font-size="29.4" text-anchor="end" fill="#000" stroke="#000" stroke-width="0.42" >26.8</text>
<text transform="translate(1549.5 713.5) scale(0.982 1)" font-size="29.4" text-anchor="end" fill="#000" stroke="#000" stroke-width="0.42" >17.7</text>
</g>
<g id="hist-c3">
<clipPath id="clip-c3"><rect x="1560" y="437" width="284" height="286.7"/></clipPath>
<rect x="1560" y="437" width="284" height="283.7" fill="#fff" stroke="#8a8a8a" stroke-width="1"/>
<g clip-path="url(#clip-c3)">
<path d="M1560 523.52C1609.33 523.52 1675.11 523.75 1724.44 523.52C1728.43 523.5 1733.75 523.06 1737.72 522.69C1740.73 522.41 1744.74 521.98 1747.69 521.36C1750.24 520.83 1753.67 520.03 1756 518.87C1757.74 518 1759.71 516.2 1760.98 514.72C1762.73 512.67 1764.58 509.55 1765.96 507.24C1767.57 504.57 1769.68 500.96 1770.95 498.11C1772.68 494.22 1774.58 488.86 1775.93 484.82C1777.58 479.88 1779.35 473.17 1780.91 468.21C1782.09 464.45 1783.54 459.38 1785.07 455.75C1785.55 454.6 1786.73 453.36 1787.56 452.43C1788.38 451.5 1789.39 449.17 1790.55 449.6C1792.36 450.28 1793.4 453.16 1794.2 454.92C1795.51 457.78 1796.45 461.92 1797.52 464.88C1798.44 467.41 1799.93 470.67 1800.85 473.19C1801.92 476.15 1803.3 480.13 1804.17 483.16C1805.3 487.11 1806.31 492.51 1807.49 496.45C1808.56 499.99 1810.22 504.65 1811.64 508.07C1812.72 510.64 1814.19 514.1 1815.8 516.38C1816.98 518.05 1819.01 520.02 1820.78 521.03C1822.59 522.06 1825.36 522.8 1827.43 523.02C1832.37 523.55 1839.03 523.37 1844 523.52L1844 523.52L1560 523.52Z" fill="rgba(0,0,0,0.2)" stroke="none"/>
<path d="M1560 563.39C1578.43 563.39 1603.01 563.58 1621.45 563.39C1626.43 563.34 1633.07 562.73 1638.06 562.56C1643.04 562.38 1649.68 562.35 1654.67 562.23C1659.65 562.1 1666.29 561.75 1671.28 561.73C1676.26 561.7 1682.91 561.94 1687.89 562.06C1692.87 562.18 1699.52 562.56 1704.5 562.56C1707.5 562.56 1711.5 562.45 1714.47 562.06C1716.51 561.79 1719.09 560.78 1721.11 560.4C1723.59 559.93 1726.99 559.91 1729.42 559.24C1731.52 558.65 1734.22 557.42 1736.06 556.25C1737.25 555.49 1738.6 554.1 1739.39 552.92C1740.62 551.07 1741.63 548.23 1742.71 546.28C1744.12 543.74 1746.2 540.47 1747.69 537.97C1749.19 535.48 1751.33 532.24 1752.67 529.67C1754.07 527 1755.38 523.17 1756.83 520.53C1758.13 518.17 1760.86 515.58 1761.81 513.06C1763.25 509.24 1763.49 503.68 1764.63 499.77C1765.25 497.67 1765.53 493.76 1767.62 493.12C1769.22 492.64 1769.02 496.85 1770.12 498.11C1770.85 498.94 1772.69 498.94 1773.44 499.77C1775.01 501.51 1776.62 504.27 1777.59 506.41C1779.12 509.78 1780.5 514.55 1781.74 518.04C1782.99 521.53 1784.62 526.19 1785.9 529.67C1787.36 533.67 1789.2 539.04 1790.88 542.96C1792.2 546.03 1794.08 550.1 1795.86 552.92C1797.09 554.87 1799.04 557.32 1800.85 558.74C1802.6 560.11 1805.39 561.32 1807.49 562.06C1809.41 562.73 1812.1 563.31 1814.14 563.39C1823.09 563.71 1835.04 563.39 1844 563.39L1844 563.39L1560 563.39Z" fill="rgba(0,0,0,0.2)" stroke="none"/>
<path d="M1560 603.26C1573.45 603.16 1591.39 603.21 1604.83 602.92C1609.83 602.82 1616.46 602.25 1621.45 601.93C1626.43 601.6 1633.06 600.94 1638.06 600.76C1643.04 600.59 1649.69 601.01 1654.67 600.76C1659.67 600.51 1666.3 599.66 1671.28 599.1C1675.27 598.66 1680.6 598.05 1684.57 597.44C1687.08 597.06 1690.38 596.25 1692.87 595.78C1694.86 595.41 1697.5 594.76 1699.52 594.62C1701.01 594.51 1703.04 594.6 1704.5 594.95C1705.59 595.21 1706.76 596.93 1707.82 596.61C1709.69 596.05 1711.43 593.83 1712.81 592.46C1714.43 590.83 1716.37 588.45 1717.79 586.64C1719.11 584.96 1720.65 582.54 1721.94 580.83C1724.14 577.91 1727.39 574.24 1729.42 571.2C1731.64 567.85 1734 563.01 1736.06 559.57C1736.99 558.03 1738.87 556.31 1739.39 554.58C1740.4 551.21 1740.42 546.42 1741.05 542.96C1741.41 540.94 1741.65 538.07 1742.71 536.31C1743.28 535.36 1744.99 535.04 1746.03 534.65C1746.99 534.29 1748.39 534.18 1749.35 533.82C1750.4 533.43 1751.57 532.02 1752.67 532.16C1753.91 532.31 1755.06 533.83 1756 534.65C1757.06 535.58 1758.75 536.69 1759.32 537.97C1760.79 541.29 1761.49 546.16 1762.64 549.6C1763.49 552.15 1765.11 555.36 1765.96 557.91C1767.11 561.35 1768.34 566.03 1769.29 569.53C1770.09 572.51 1770.75 576.6 1771.78 579.5C1772.75 582.25 1774.44 585.79 1775.93 588.31C1777.2 590.45 1779.15 593.19 1780.91 594.95C1782.68 596.71 1785.39 598.71 1787.56 599.93C1789.41 600.98 1792.12 602.01 1794.2 602.43C1797.14 603.01 1801.17 603.21 1804.17 603.26C1816.12 603.46 1832.05 603.26 1844 603.26L1844 603.26L1560 603.26Z" fill="rgba(0,0,0,0.2)" stroke="none"/>
<path d="M1560 643.12C1565.98 643.12 1573.95 643.34 1579.92 643.12C1584.91 642.94 1591.56 642.35 1596.53 641.79C1600.53 641.35 1606.05 641.24 1609.82 639.8C1611.79 639.05 1613.36 636.36 1614.8 634.82C1616.85 632.62 1619.32 629.46 1621.45 627.34C1623.32 625.47 1626.41 623.57 1628.09 621.53C1629.94 619.29 1631.38 615.59 1633.07 613.22C1633.89 612.08 1635.2 610.65 1636.4 609.9C1637.27 609.36 1638.9 609.69 1639.72 609.07C1640.99 608.11 1642.37 606.36 1643.04 604.92C1644.14 602.56 1644.29 598.9 1645.53 596.61C1645.91 595.92 1647.24 595.78 1648.02 595.78C1649.05 595.78 1650.58 597.29 1651.35 596.61C1653.26 594.91 1653.15 590.18 1655.5 589.14C1656.96 588.49 1657.23 593.29 1658.82 593.29C1660.77 593.29 1661.93 589.65 1663.8 589.14C1665.1 588.78 1667.06 591.79 1667.96 590.8C1670.07 588.45 1670.21 583.79 1671.28 580.83C1671.7 579.66 1671.8 577.52 1672.94 577.01C1674.32 576.39 1676.45 578.21 1677.92 577.84C1679.67 577.4 1681.37 575.44 1682.91 574.52C1683.86 573.94 1685.11 572.86 1686.23 572.86C1687.34 572.86 1688.66 573.85 1689.55 574.52C1690.68 575.36 1691.51 577.5 1692.87 577.84C1693.95 578.11 1695.11 575.91 1696.2 576.18C1697.56 576.52 1698.45 578.58 1699.52 579.5C1700.95 580.73 1703.61 581.66 1704.5 583.32C1706.22 586.52 1706.32 591.65 1707.82 594.95C1708.85 597.22 1711.6 599.42 1712.81 601.59C1714.11 603.94 1715.02 607.46 1716.13 609.9C1717.51 612.94 1719.45 616.96 1721.11 619.87C1722.45 622.21 1724.32 625.31 1726.1 627.34C1727.84 629.34 1730.69 631.49 1732.74 633.16C1734.67 634.73 1737.19 636.97 1739.39 638.14C1741.72 639.39 1745.11 640.53 1747.69 641.13C1751.12 641.93 1755.81 642.49 1759.32 642.79C1762.8 643.09 1767.46 643.11 1770.95 643.12C1792.86 643.21 1822.08 643.12 1844 643.12L1844 643.12L1560 643.12Z" fill="rgba(0,0,0,0.2)" stroke="none"/>
<path d="M1560 682.99C1568.47 682.89 1579.76 683 1588.22 682.66C1592.23 682.5 1597.57 682.03 1601.51 681.33C1604.07 680.88 1607.49 680 1609.82 678.84C1612.54 677.48 1615.72 674.89 1618.12 673.02C1620.21 671.4 1623.02 669.2 1624.77 667.21C1626.54 665.18 1628.04 661.81 1629.75 659.73C1631.54 657.56 1634.66 655.31 1636.4 653.09C1638.18 650.8 1639.84 647.25 1641.38 644.78C1642.33 643.26 1643.66 641.26 1644.7 639.8C1646.15 637.77 1648.39 635.28 1649.68 633.16C1651.14 630.78 1652.22 627.12 1653.84 624.85C1654.76 623.55 1656.7 622.47 1657.99 621.53C1659.44 620.47 1661.21 618.56 1662.97 618.21C1664.07 617.99 1665.35 619.28 1666.3 619.87C1667.35 620.53 1668.37 622.36 1669.62 622.36C1670.86 622.36 1671.87 620.51 1672.94 619.87C1674.37 619.01 1676.71 618.52 1677.92 617.38C1679.54 615.85 1679.9 610.75 1682.08 611.23C1684.56 611.78 1683.9 616.98 1685.4 619.04C1686.25 620.21 1688.4 620.64 1689.55 621.53C1690.66 622.39 1691.99 623.75 1692.87 624.85C1694 626.25 1694.85 628.64 1696.2 629.83C1697.2 630.73 1699.49 630.46 1700.35 631.5C1702.13 633.64 1703.26 637.31 1704.5 639.8C1705.75 642.29 1707.24 645.71 1708.65 648.11C1709.74 649.95 1711.59 652.15 1712.81 653.92C1714.33 656.14 1716.24 659.19 1717.79 661.4C1719.23 663.43 1721.28 666.05 1722.77 668.04C1724.27 670.03 1725.93 672.99 1727.76 674.68C1729.48 676.28 1732.27 677.84 1734.4 678.84C1736.79 679.95 1740.13 681.12 1742.71 681.66C1746.14 682.38 1750.82 682.94 1754.34 682.99C1781.23 683.34 1817.1 682.99 1844 682.99L1844 682.99L1560 682.99Z" fill="rgba(0,0,0,0.2)" stroke="none"/>
<path d="M1560 721.2C1571.46 721.2 1586.75 721.83 1598.19 721.2C1600.31 721.08 1603.03 719.83 1604.83 718.7C1607.08 717.3 1609.66 714.82 1611.48 712.89C1613.67 710.57 1616.09 707.05 1618.12 704.58C1619.58 702.81 1621.51 700.42 1623.11 698.77C1624.51 697.33 1626.42 695.4 1628.09 694.29C1629.45 693.38 1631.65 692.91 1633.07 692.13C1634.65 691.26 1636.29 689.16 1638.06 688.8C1639.15 688.59 1640.36 690.01 1641.38 690.47C1642.6 691.01 1644.23 692.45 1645.53 692.13C1647.61 691.61 1649.83 689.49 1651.35 687.97C1653.11 686.21 1654.73 683.24 1656.33 681.33C1657.23 680.25 1658.28 678.35 1659.65 678.01C1660.73 677.74 1661.91 679.99 1662.97 679.67C1664.84 679.11 1666.65 676.95 1667.96 675.51C1669.17 674.19 1669.76 671.48 1671.28 670.53C1672.15 669.99 1673.87 672.09 1674.6 671.36C1676.57 669.39 1676.58 664.8 1678.75 663.06C1679.8 662.22 1681.6 665.01 1682.91 664.72C1684.28 664.41 1685.36 662.51 1686.23 661.4C1687.12 660.25 1687.51 658.05 1688.72 657.24C1689.38 656.81 1690.43 658.14 1691.21 658.07C1692.28 657.98 1693.78 655.99 1694.53 656.74C1696.37 658.58 1696.73 662.38 1697.86 664.72C1698.73 666.53 1700.19 668.78 1701.18 670.53C1702.44 672.77 1704.14 675.74 1705.33 678.01C1706.63 680.47 1708.05 683.92 1709.49 686.31C1710.31 687.68 1711.53 689.51 1712.81 690.47C1713.63 691.08 1715.53 690.46 1716.13 691.3C1717.71 693.47 1718.41 697.13 1719.45 699.6C1720.4 701.86 1721.47 705 1722.77 707.08C1723.99 709.02 1726.07 711.33 1727.76 712.89C1729.58 714.59 1732.27 716.59 1734.4 717.87C1736.28 719 1738.86 720.8 1741.05 720.86C1771.92 721.8 1813.11 721.1 1844 721.2L1844 721.53L1560 721.53Z" fill="rgba(0,0,0,0.2)" stroke="none"/>
<path d="M1560 523.52C1609.33 523.52 1675.11 523.75 1724.44 523.52C1728.43 523.5 1733.75 523.06 1737.72 522.69C1740.73 522.41 1744.74 521.98 1747.69 521.36C1750.24 520.83 1753.67 520.03 1756 518.87C1757.74 518 1759.71 516.2 1760.98 514.72C1762.73 512.67 1764.58 509.55 1765.96 507.24C1767.57 504.57 1769.68 500.96 1770.95 498.11C1772.68 494.22 1774.58 488.86 1775.93 484.82C1777.58 479.88 1779.35 473.17 1780.91 468.21C1782.09 464.45 1783.54 459.38 1785.07 455.75C1785.55 454.6 1786.73 453.36 1787.56 452.43C1788.38 451.5 1789.39 449.17 1790.55 449.6C1792.36 450.28 1793.4 453.16 1794.2 454.92C1795.51 457.78 1796.45 461.92 1797.52 464.88C1798.44 467.41 1799.93 470.67 1800.85 473.19C1801.92 476.15 1803.3 480.13 1804.17 483.16C1805.3 487.11 1806.31 492.51 1807.49 496.45C1808.56 499.99 1810.22 504.65 1811.64 508.07C1812.72 510.64 1814.19 514.1 1815.8 516.38C1816.98 518.05 1819.01 520.02 1820.78 521.03C1822.59 522.06 1825.36 522.8 1827.43 523.02C1832.37 523.55 1839.03 523.37 1844 523.52" fill="none" stroke="#3a3a3a" stroke-width="0.8" stroke-linejoin="round"/>
<path d="M1737.72 522.69C1740.73 522.41 1744.74 521.98 1747.69 521.36C1750.24 520.83 1753.67 520.03 1756 518.87C1757.74 518 1759.71 516.2 1760.98 514.72C1762.73 512.67 1764.58 509.55 1765.96 507.24C1767.57 504.57 1769.68 500.96 1770.95 498.11C1772.68 494.22 1774.58 488.86 1775.93 484.82C1777.58 479.88 1779.35 473.17 1780.91 468.21C1782.09 464.45 1783.54 459.38 1785.07 455.75C1785.55 454.6 1786.73 453.36 1787.56 452.43C1788.38 451.5 1789.39 449.17 1790.55 449.6C1792.36 450.28 1793.4 453.16 1794.2 454.92C1795.51 457.78 1796.45 461.92 1797.52 464.88C1798.44 467.41 1799.93 470.67 1800.85 473.19C1801.92 476.15 1803.3 480.13 1804.17 483.16C1805.3 487.11 1806.31 492.51 1807.49 496.45C1808.56 499.99 1810.22 504.65 1811.64 508.07C1812.72 510.64 1814.19 514.1 1815.8 516.38C1816.98 518.05 1819.01 520.02 1820.78 521.03C1822.59 522.06 1825.36 522.8 1827.43 523.02" fill="none" stroke="#161616" stroke-width="1.3" stroke-linejoin="round" stroke-linecap="round"/>
<path d="M1560 563.39C1578.43 563.39 1603.01 563.58 1621.45 563.39C1626.43 563.34 1633.07 562.73 1638.06 562.56C1643.04 562.38 1649.68 562.35 1654.67 562.23C1659.65 562.1 1666.29 561.75 1671.28 561.73C1676.26 561.7 1682.91 561.94 1687.89 562.06C1692.87 562.18 1699.52 562.56 1704.5 562.56C1707.5 562.56 1711.5 562.45 1714.47 562.06C1716.51 561.79 1719.09 560.78 1721.11 560.4C1723.59 559.93 1726.99 559.91 1729.42 559.24C1731.52 558.65 1734.22 557.42 1736.06 556.25C1737.25 555.49 1738.6 554.1 1739.39 552.92C1740.62 551.07 1741.63 548.23 1742.71 546.28C1744.12 543.74 1746.2 540.47 1747.69 537.97C1749.19 535.48 1751.33 532.24 1752.67 529.67C1754.07 527 1755.38 523.17 1756.83 520.53C1758.13 518.17 1760.86 515.58 1761.81 513.06C1763.25 509.24 1763.49 503.68 1764.63 499.77C1765.25 497.67 1765.53 493.76 1767.62 493.12C1769.22 492.64 1769.02 496.85 1770.12 498.11C1770.85 498.94 1772.69 498.94 1773.44 499.77C1775.01 501.51 1776.62 504.27 1777.59 506.41C1779.12 509.78 1780.5 514.55 1781.74 518.04C1782.99 521.53 1784.62 526.19 1785.9 529.67C1787.36 533.67 1789.2 539.04 1790.88 542.96C1792.2 546.03 1794.08 550.1 1795.86 552.92C1797.09 554.87 1799.04 557.32 1800.85 558.74C1802.6 560.11 1805.39 561.32 1807.49 562.06C1809.41 562.73 1812.1 563.31 1814.14 563.39C1823.09 563.71 1835.04 563.39 1844 563.39" fill="none" stroke="#3a3a3a" stroke-width="0.8" stroke-linejoin="round"/>
<path d="M1714.47 562.06C1716.51 561.79 1719.09 560.78 1721.11 560.4C1723.59 559.93 1726.99 559.91 1729.42 559.24C1731.52 558.65 1734.22 557.42 1736.06 556.25C1737.25 555.49 1738.6 554.1 1739.39 552.92C1740.62 551.07 1741.63 548.23 1742.71 546.28C1744.12 543.74 1746.2 540.47 1747.69 537.97C1749.19 535.48 1751.33 532.24 1752.67 529.67C1754.07 527 1755.38 523.17 1756.83 520.53C1758.13 518.17 1760.86 515.58 1761.81 513.06C1763.25 509.24 1763.49 503.68 1764.63 499.77C1765.25 497.67 1765.53 493.76 1767.62 493.12C1769.22 492.64 1769.02 496.85 1770.12 498.11C1770.85 498.94 1772.69 498.94 1773.44 499.77C1775.01 501.51 1776.62 504.27 1777.59 506.41C1779.12 509.78 1780.5 514.55 1781.74 518.04C1782.99 521.53 1784.62 526.19 1785.9 529.67C1787.36 533.67 1789.2 539.04 1790.88 542.96C1792.2 546.03 1794.08 550.1 1795.86 552.92C1797.09 554.87 1799.04 557.32 1800.85 558.74C1802.6 560.11 1805.39 561.32 1807.49 562.06" fill="none" stroke="#161616" stroke-width="1.3" stroke-linejoin="round" stroke-linecap="round"/>
<path d="M1560 603.26C1573.45 603.16 1591.39 603.21 1604.83 602.92C1609.83 602.82 1616.46 602.25 1621.45 601.93C1626.43 601.6 1633.06 600.94 1638.06 600.76C1643.04 600.59 1649.69 601.01 1654.67 600.76C1659.67 600.51 1666.3 599.66 1671.28 599.1C1675.27 598.66 1680.6 598.05 1684.57 597.44C1687.08 597.06 1690.38 596.25 1692.87 595.78C1694.86 595.41 1697.5 594.76 1699.52 594.62C1701.01 594.51 1703.04 594.6 1704.5 594.95C1705.59 595.21 1706.76 596.93 1707.82 596.61C1709.69 596.05 1711.43 593.83 1712.81 592.46C1714.43 590.83 1716.37 588.45 1717.79 586.64C1719.11 584.96 1720.65 582.54 1721.94 580.83C1724.14 577.91 1727.39 574.24 1729.42 571.2C1731.64 567.85 1734 563.01 1736.06 559.57C1736.99 558.03 1738.87 556.31 1739.39 554.58C1740.4 551.21 1740.42 546.42 1741.05 542.96C1741.41 540.94 1741.65 538.07 1742.71 536.31C1743.28 535.36 1744.99 535.04 1746.03 534.65C1746.99 534.29 1748.39 534.18 1749.35 533.82C1750.4 533.43 1751.57 532.02 1752.67 532.16C1753.91 532.31 1755.06 533.83 1756 534.65C1757.06 535.58 1758.75 536.69 1759.32 537.97C1760.79 541.29 1761.49 546.16 1762.64 549.6C1763.49 552.15 1765.11 555.36 1765.96 557.91C1767.11 561.35 1768.34 566.03 1769.29 569.53C1770.09 572.51 1770.75 576.6 1771.78 579.5C1772.75 582.25 1774.44 585.79 1775.93 588.31C1777.2 590.45 1779.15 593.19 1780.91 594.95C1782.68 596.71 1785.39 598.71 1787.56 599.93C1789.41 600.98 1792.12 602.01 1794.2 602.43C1797.14 603.01 1801.17 603.21 1804.17 603.26C1816.12 603.46 1832.05 603.26 1844 603.26" fill="none" stroke="#3a3a3a" stroke-width="0.8" stroke-linejoin="round"/>
<path d="M1684.57 597.44C1687.08 597.06 1690.38 596.25 1692.87 595.78C1694.86 595.41 1697.5 594.76 1699.52 594.62C1701.01 594.51 1703.04 594.6 1704.5 594.95C1705.59 595.21 1706.76 596.93 1707.82 596.61C1709.69 596.05 1711.43 593.83 1712.81 592.46C1714.43 590.83 1716.37 588.45 1717.79 586.64C1719.11 584.96 1720.65 582.54 1721.94 580.83C1724.14 577.91 1727.39 574.24 1729.42 571.2C1731.64 567.85 1734 563.01 1736.06 559.57C1736.99 558.03 1738.87 556.31 1739.39 554.58C1740.4 551.21 1740.42 546.42 1741.05 542.96C1741.41 540.94 1741.65 538.07 1742.71 536.31C1743.28 535.36 1744.99 535.04 1746.03 534.65C1746.99 534.29 1748.39 534.18 1749.35 533.82C1750.4 533.43 1751.57 532.02 1752.67 532.16C1753.91 532.31 1755.06 533.83 1756 534.65C1757.06 535.58 1758.75 536.69 1759.32 537.97C1760.79 541.29 1761.49 546.16 1762.64 549.6C1763.49 552.15 1765.11 555.36 1765.96 557.91C1767.11 561.35 1768.34 566.03 1769.29 569.53C1770.09 572.51 1770.75 576.6 1771.78 579.5C1772.75 582.25 1774.44 585.79 1775.93 588.31C1777.2 590.45 1779.15 593.19 1780.91 594.95C1782.68 596.71 1785.39 598.71 1787.56 599.93C1789.41 600.98 1792.12 602.01 1794.2 602.43" fill="none" stroke="#161616" stroke-width="1.3" stroke-linejoin="round" stroke-linecap="round"/>
<path d="M1560 643.12C1565.98 643.12 1573.95 643.34 1579.92 643.12C1584.91 642.94 1591.56 642.35 1596.53 641.79C1600.53 641.35 1606.05 641.24 1609.82 639.8C1611.79 639.05 1613.36 636.36 1614.8 634.82C1616.85 632.62 1619.32 629.46 1621.45 627.34C1623.32 625.47 1626.41 623.57 1628.09 621.53C1629.94 619.29 1631.38 615.59 1633.07 613.22C1633.89 612.08 1635.2 610.65 1636.4 609.9C1637.27 609.36 1638.9 609.69 1639.72 609.07C1640.99 608.11 1642.37 606.36 1643.04 604.92C1644.14 602.56 1644.29 598.9 1645.53 596.61C1645.91 595.92 1647.24 595.78 1648.02 595.78C1649.05 595.78 1650.58 597.29 1651.35 596.61C1653.26 594.91 1653.15 590.18 1655.5 589.14C1656.96 588.49 1657.23 593.29 1658.82 593.29C1660.77 593.29 1661.93 589.65 1663.8 589.14C1665.1 588.78 1667.06 591.79 1667.96 590.8C1670.07 588.45 1670.21 583.79 1671.28 580.83C1671.7 579.66 1671.8 577.52 1672.94 577.01C1674.32 576.39 1676.45 578.21 1677.92 577.84C1679.67 577.4 1681.37 575.44 1682.91 574.52C1683.86 573.94 1685.11 572.86 1686.23 572.86C1687.34 572.86 1688.66 573.85 1689.55 574.52C1690.68 575.36 1691.51 577.5 1692.87 577.84C1693.95 578.11 1695.11 575.91 1696.2 576.18C1697.56 576.52 1698.45 578.58 1699.52 579.5C1700.95 580.73 1703.61 581.66 1704.5 583.32C1706.22 586.52 1706.32 591.65 1707.82 594.95C1708.85 597.22 1711.6 599.42 1712.81 601.59C1714.11 603.94 1715.02 607.46 1716.13 609.9C1717.51 612.94 1719.45 616.96 1721.11 619.87C1722.45 622.21 1724.32 625.31 1726.1 627.34C1727.84 629.34 1730.69 631.49 1732.74 633.16C1734.67 634.73 1737.19 636.97 1739.39 638.14C1741.72 639.39 1745.11 640.53 1747.69 641.13C1751.12 641.93 1755.81 642.49 1759.32 642.79C1762.8 643.09 1767.46 643.11 1770.95 643.12C1792.86 643.21 1822.08 643.12 1844 643.12" fill="none" stroke="#3a3a3a" stroke-width="0.8" stroke-linejoin="round"/>
<path d="M1596.53 641.79C1600.53 641.35 1606.05 641.24 1609.82 639.8C1611.79 639.05 1613.36 636.36 1614.8 634.82C1616.85 632.62 1619.32 629.46 1621.45 627.34C1623.32 625.47 1626.41 623.57 1628.09 621.53C1629.94 619.29 1631.38 615.59 1633.07 613.22C1633.89 612.08 1635.2 610.65 1636.4 609.9C1637.27 609.36 1638.9 609.69 1639.72 609.07C1640.99 608.11 1642.37 606.36 1643.04 604.92C1644.14 602.56 1644.29 598.9 1645.53 596.61C1645.91 595.92 1647.24 595.78 1648.02 595.78C1649.05 595.78 1650.58 597.29 1651.35 596.61C1653.26 594.91 1653.15 590.18 1655.5 589.14C1656.96 588.49 1657.23 593.29 1658.82 593.29C1660.77 593.29 1661.93 589.65 1663.8 589.14C1665.1 588.78 1667.06 591.79 1667.96 590.8C1670.07 588.45 1670.21 583.79 1671.28 580.83C1671.7 579.66 1671.8 577.52 1672.94 577.01C1674.32 576.39 1676.45 578.21 1677.92 577.84C1679.67 577.4 1681.37 575.44 1682.91 574.52C1683.86 573.94 1685.11 572.86 1686.23 572.86C1687.34 572.86 1688.66 573.85 1689.55 574.52C1690.68 575.36 1691.51 577.5 1692.87 577.84C1693.95 578.11 1695.11 575.91 1696.2 576.18C1697.56 576.52 1698.45 578.58 1699.52 579.5C1700.95 580.73 1703.61 581.66 1704.5 583.32C1706.22 586.52 1706.32 591.65 1707.82 594.95C1708.85 597.22 1711.6 599.42 1712.81 601.59C1714.11 603.94 1715.02 607.46 1716.13 609.9C1717.51 612.94 1719.45 616.96 1721.11 619.87C1722.45 622.21 1724.32 625.31 1726.1 627.34C1727.84 629.34 1730.69 631.49 1732.74 633.16C1734.67 634.73 1737.19 636.97 1739.39 638.14C1741.72 639.39 1745.11 640.53 1747.69 641.13" fill="none" stroke="#161616" stroke-width="1.3" stroke-linejoin="round" stroke-linecap="round"/>
<path d="M1560 682.99C1568.47 682.89 1579.76 683 1588.22 682.66C1592.23 682.5 1597.57 682.03 1601.51 681.33C1604.07 680.88 1607.49 680 1609.82 678.84C1612.54 677.48 1615.72 674.89 1618.12 673.02C1620.21 671.4 1623.02 669.2 1624.77 667.21C1626.54 665.18 1628.04 661.81 1629.75 659.73C1631.54 657.56 1634.66 655.31 1636.4 653.09C1638.18 650.8 1639.84 647.25 1641.38 644.78C1642.33 643.26 1643.66 641.26 1644.7 639.8C1646.15 637.77 1648.39 635.28 1649.68 633.16C1651.14 630.78 1652.22 627.12 1653.84 624.85C1654.76 623.55 1656.7 622.47 1657.99 621.53C1659.44 620.47 1661.21 618.56 1662.97 618.21C1664.07 617.99 1665.35 619.28 1666.3 619.87C1667.35 620.53 1668.37 622.36 1669.62 622.36C1670.86 622.36 1671.87 620.51 1672.94 619.87C1674.37 619.01 1676.71 618.52 1677.92 617.38C1679.54 615.85 1679.9 610.75 1682.08 611.23C1684.56 611.78 1683.9 616.98 1685.4 619.04C1686.25 620.21 1688.4 620.64 1689.55 621.53C1690.66 622.39 1691.99 623.75 1692.87 624.85C1694 626.25 1694.85 628.64 1696.2 629.83C1697.2 630.73 1699.49 630.46 1700.35 631.5C1702.13 633.64 1703.26 637.31 1704.5 639.8C1705.75 642.29 1707.24 645.71 1708.65 648.11C1709.74 649.95 1711.59 652.15 1712.81 653.92C1714.33 656.14 1716.24 659.19 1717.79 661.4C1719.23 663.43 1721.28 666.05 1722.77 668.04C1724.27 670.03 1725.93 672.99 1727.76 674.68C1729.48 676.28 1732.27 677.84 1734.4 678.84C1736.79 679.95 1740.13 681.12 1742.71 681.66C1746.14 682.38 1750.82 682.94 1754.34 682.99C1781.23 683.34 1817.1 682.99 1844 682.99" fill="none" stroke="#3a3a3a" stroke-width="0.8" stroke-linejoin="round"/>
<path d="M1601.51 681.33C1604.07 680.88 1607.49 680 1609.82 678.84C1612.54 677.48 1615.72 674.89 1618.12 673.02C1620.21 671.4 1623.02 669.2 1624.77 667.21C1626.54 665.18 1628.04 661.81 1629.75 659.73C1631.54 657.56 1634.66 655.31 1636.4 653.09C1638.18 650.8 1639.84 647.25 1641.38 644.78C1642.33 643.26 1643.66 641.26 1644.7 639.8C1646.15 637.77 1648.39 635.28 1649.68 633.16C1651.14 630.78 1652.22 627.12 1653.84 624.85C1654.76 623.55 1656.7 622.47 1657.99 621.53C1659.44 620.47 1661.21 618.56 1662.97 618.21C1664.07 617.99 1665.35 619.28 1666.3 619.87C1667.35 620.53 1668.37 622.36 1669.62 622.36C1670.86 622.36 1671.87 620.51 1672.94 619.87C1674.37 619.01 1676.71 618.52 1677.92 617.38C1679.54 615.85 1679.9 610.75 1682.08 611.23C1684.56 611.78 1683.9 616.98 1685.4 619.04C1686.25 620.21 1688.4 620.64 1689.55 621.53C1690.66 622.39 1691.99 623.75 1692.87 624.85C1694 626.25 1694.85 628.64 1696.2 629.83C1697.2 630.73 1699.49 630.46 1700.35 631.5C1702.13 633.64 1703.26 637.31 1704.5 639.8C1705.75 642.29 1707.24 645.71 1708.65 648.11C1709.74 649.95 1711.59 652.15 1712.81 653.92C1714.33 656.14 1716.24 659.19 1717.79 661.4C1719.23 663.43 1721.28 666.05 1722.77 668.04C1724.27 670.03 1725.93 672.99 1727.76 674.68C1729.48 676.28 1732.27 677.84 1734.4 678.84C1736.79 679.95 1740.13 681.12 1742.71 681.66" fill="none" stroke="#161616" stroke-width="1.3" stroke-linejoin="round" stroke-linecap="round"/>
<path d="M1560 721.2C1571.46 721.2 1586.75 721.83 1598.19 721.2C1600.31 721.08 1603.03 719.83 1604.83 718.7C1607.08 717.3 1609.66 714.82 1611.48 712.89C1613.67 710.57 1616.09 707.05 1618.12 704.58C1619.58 702.81 1621.51 700.42 1623.11 698.77C1624.51 697.33 1626.42 695.4 1628.09 694.29C1629.45 693.38 1631.65 692.91 1633.07 692.13C1634.65 691.26 1636.29 689.16 1638.06 688.8C1639.15 688.59 1640.36 690.01 1641.38 690.47C1642.6 691.01 1644.23 692.45 1645.53 692.13C1647.61 691.61 1649.83 689.49 1651.35 687.97C1653.11 686.21 1654.73 683.24 1656.33 681.33C1657.23 680.25 1658.28 678.35 1659.65 678.01C1660.73 677.74 1661.91 679.99 1662.97 679.67C1664.84 679.11 1666.65 676.95 1667.96 675.51C1669.17 674.19 1669.76 671.48 1671.28 670.53C1672.15 669.99 1673.87 672.09 1674.6 671.36C1676.57 669.39 1676.58 664.8 1678.75 663.06C1679.8 662.22 1681.6 665.01 1682.91 664.72C1684.28 664.41 1685.36 662.51 1686.23 661.4C1687.12 660.25 1687.51 658.05 1688.72 657.24C1689.38 656.81 1690.43 658.14 1691.21 658.07C1692.28 657.98 1693.78 655.99 1694.53 656.74C1696.37 658.58 1696.73 662.38 1697.86 664.72C1698.73 666.53 1700.19 668.78 1701.18 670.53C1702.44 672.77 1704.14 675.74 1705.33 678.01C1706.63 680.47 1708.05 683.92 1709.49 686.31C1710.31 687.68 1711.53 689.51 1712.81 690.47C1713.63 691.08 1715.53 690.46 1716.13 691.3C1717.71 693.47 1718.41 697.13 1719.45 699.6C1720.4 701.86 1721.47 705 1722.77 707.08C1723.99 709.02 1726.07 711.33 1727.76 712.89C1729.58 714.59 1732.27 716.59 1734.4 717.87C1736.28 719 1738.86 720.8 1741.05 720.86C1771.92 721.8 1813.11 721.1 1844 721.2" fill="none" stroke="#3a3a3a" stroke-width="0.8" stroke-linejoin="round"/>
<path d="M1598.19 721.2C1600.31 721.08 1603.03 719.83 1604.83 718.7C1607.08 717.3 1609.66 714.82 1611.48 712.89C1613.67 710.57 1616.09 707.05 1618.12 704.58C1619.58 702.81 1621.51 700.42 1623.11 698.77C1624.51 697.33 1626.42 695.4 1628.09 694.29C1629.45 693.38 1631.65 692.91 1633.07 692.13C1634.65 691.26 1636.29 689.16 1638.06 688.8C1639.15 688.59 1640.36 690.01 1641.38 690.47C1642.6 691.01 1644.23 692.45 1645.53 692.13C1647.61 691.61 1649.83 689.49 1651.35 687.97C1653.11 686.21 1654.73 683.24 1656.33 681.33C1657.23 680.25 1658.28 678.35 1659.65 678.01C1660.73 677.74 1661.91 679.99 1662.97 679.67C1664.84 679.11 1666.65 676.95 1667.96 675.51C1669.17 674.19 1669.76 671.48 1671.28 670.53C1672.15 669.99 1673.87 672.09 1674.6 671.36C1676.57 669.39 1676.58 664.8 1678.75 663.06C1679.8 662.22 1681.6 665.01 1682.91 664.72C1684.28 664.41 1685.36 662.51 1686.23 661.4C1687.12 660.25 1687.51 658.05 1688.72 657.24C1689.38 656.81 1690.43 658.14 1691.21 658.07C1692.28 657.98 1693.78 655.99 1694.53 656.74C1696.37 658.58 1696.73 662.38 1697.86 664.72C1698.73 666.53 1700.19 668.78 1701.18 670.53C1702.44 672.77 1704.14 675.74 1705.33 678.01C1706.63 680.47 1708.05 683.92 1709.49 686.31C1710.31 687.68 1711.53 689.51 1712.81 690.47C1713.63 691.08 1715.53 690.46 1716.13 691.3C1717.71 693.47 1718.41 697.13 1719.45 699.6C1720.4 701.86 1721.47 705 1722.77 707.08C1723.99 709.02 1726.07 711.33 1727.76 712.89C1729.58 714.59 1732.27 716.59 1734.4 717.87C1736.28 719 1738.86 720.8 1741.05 720.86" fill="none" stroke="#161616" stroke-width="1.3" stroke-linejoin="round" stroke-linecap="round"/>
</g>
<line x1="1721.5" y1="437" x2="1721.5" y2="720.7" stroke="#4a4a4a" stroke-width="1" />
<text transform="translate(1837.6 513.6) scale(0.982 1)" font-size="29.4" text-anchor="end" fill="#000" stroke="#000" stroke-width="0.42" >100</text>
<text transform="translate(1837.6 555.6) scale(0.982 1)" font-size="29.4" text-anchor="end" fill="#000" stroke="#000" stroke-width="0.42" >93.5</text>
<text transform="translate(1837.6 596) scale(0.982 1)" font-size="29.4" text-anchor="end" fill="#000" stroke="#000" stroke-width="0.42" >91.3</text>
<text transform="translate(1837.6 636.6) scale(0.982 1)" font-size="29.4" text-anchor="end" fill="#000" stroke="#000" stroke-width="0.42" >7.1</text>
<text transform="translate(1837.6 673.4) scale(0.982 1)" font-size="29.4" text-anchor="end" fill="#000" stroke="#000" stroke-width="0.42" >4.1</text>
<text transform="translate(1837.6 713.8) scale(0.982 1)" font-size="29.4" text-anchor="end" fill="#000" stroke="#000" stroke-width="0.42" >5.3</text>
</g>
<path d="M978 340V347.6M1046.4 340V347.6M1119 340V347.6M1189 340V347.6M1260.6 340V347.6" stroke="#000" stroke-width="2.1" fill="none"/>
<path d="M998.59 340V343.2M1010.64 340V343.2M1019.18 340V343.2M1025.81 340V345.4M1031.23 340V343.2M1035.8 340V343.2M1039.77 340V343.2M1043.27 340V343.2M1068.25 340V343.2M1081.04 340V343.2M1090.11 340V343.2M1097.15 340V345.4M1102.89 340V343.2M1107.75 340V343.2M1111.96 340V343.2M1115.68 340V343.2M1140.07 340V343.2M1152.4 340V343.2M1161.14 340V343.2M1167.93 340V345.4M1173.47 340V343.2M1178.16 340V343.2M1182.22 340V343.2M1185.8 340V343.2M1210.55 340V343.2M1223.16 340V343.2M1232.11 340V343.2M1239.05 340V345.4M1244.72 340V343.2M1249.51 340V343.2M1253.66 340V343.2M1257.32 340V343.2" stroke="#000" stroke-width="1.25" fill="none"/>
<text transform="translate(983.1 375.6) scale(0.89 1)" font-size="21.8" fill="#000" stroke="#000" stroke-width="0.3">10<tspan dy="-13.3" dx="0.4">2</tspan></text>
<text transform="translate(1042.5 375.6) scale(0.89 1)" font-size="21.8" fill="#000" stroke="#000" stroke-width="0.3">10<tspan dy="-13.3" dx="0.4">3</tspan></text>
<text transform="translate(1114.5 375.6) scale(0.89 1)" font-size="21.8" fill="#000" stroke="#000" stroke-width="0.3">10<tspan dy="-13.3" dx="0.4">4</tspan></text>
<text transform="translate(1185.1 375.6) scale(0.89 1)" font-size="21.8" fill="#000" stroke="#000" stroke-width="0.3">10<tspan dy="-13.3" dx="0.4">5</tspan></text>
<text transform="translate(1230.5 375.6) scale(0.89 1)" font-size="21.8" fill="#000" stroke="#000" stroke-width="0.3">10<tspan dy="-13.3" dx="0.4">6</tspan></text>
<path d="M1270.6 340V347.6M1339.4 340V347.6M1411.6 340V347.6M1482 340V347.6M1554.6 340V347.6" stroke="#000" stroke-width="2.1" fill="none"/>
<path d="M1291.31 340V343.2M1303.43 340V343.2M1312.02 340V343.2M1318.69 340V345.4M1324.14 340V343.2M1328.74 340V343.2M1332.73 340V343.2M1336.25 340V343.2M1361.13 340V343.2M1373.85 340V343.2M1382.87 340V343.2M1389.87 340V345.4M1395.58 340V343.2M1400.42 340V343.2M1404.6 340V343.2M1408.3 340V343.2M1432.79 340V343.2M1445.19 340V343.2M1453.99 340V343.2M1460.81 340V345.4M1466.38 340V343.2M1471.09 340V343.2M1475.18 340V343.2M1478.78 340V343.2M1503.85 340V343.2M1516.64 340V343.2M1525.71 340V343.2M1532.75 340V345.4M1538.49 340V343.2M1543.35 340V343.2M1547.56 340V343.2M1551.28 340V343.2" stroke="#000" stroke-width="1.25" fill="none"/>
<text transform="translate(1276.5 375.6) scale(0.89 1)" font-size="21.8" fill="#000" stroke="#000" stroke-width="0.3">10<tspan dy="-13.3" dx="0.4">2</tspan></text>
<text transform="translate(1335.5 375.6) scale(0.89 1)" font-size="21.8" fill="#000" stroke="#000" stroke-width="0.3">10<tspan dy="-13.3" dx="0.4">3</tspan></text>
<text transform="translate(1407.9 375.6) scale(0.89 1)" font-size="21.8" fill="#000" stroke="#000" stroke-width="0.3">10<tspan dy="-13.3" dx="0.4">4</tspan></text>
<text transform="translate(1478.5 375.6) scale(0.89 1)" font-size="21.8" fill="#000" stroke="#000" stroke-width="0.3">10<tspan dy="-13.3" dx="0.4">5</tspan></text>
<text transform="translate(1525.1 375.6) scale(0.89 1)" font-size="21.8" fill="#000" stroke="#000" stroke-width="0.3">10<tspan dy="-13.3" dx="0.4">6</tspan></text>
<path d="M1566.5 339V346.6M1635 339V346.6M1707 339V346.6M1777.6 339V346.6M1849 339V346.6" stroke="#000" stroke-width="2.1" fill="none"/>
<path d="M1587.12 339V342.2M1599.18 339V342.2M1607.74 339V342.2M1614.38 339V344.4M1619.8 339V342.2M1624.39 339V342.2M1628.36 339V342.2M1631.87 339V342.2M1656.67 339V342.2M1669.35 339V342.2M1678.35 339V342.2M1685.33 339V344.4M1691.03 339V342.2M1695.85 339V342.2M1700.02 339V342.2M1703.71 339V342.2M1728.25 339V342.2M1740.68 339V342.2M1749.51 339V342.2M1756.35 339V344.4M1761.94 339V342.2M1766.66 339V342.2M1770.76 339V342.2M1774.37 339V342.2M1799.09 339V342.2M1811.67 339V342.2M1820.59 339V342.2M1827.51 339V344.4M1833.16 339V342.2M1837.94 339V342.2M1842.08 339V342.2M1845.73 339V342.2" stroke="#000" stroke-width="1.25" fill="none"/>
<text transform="translate(1572.5 374.4) scale(0.89 1)" font-size="21.8" fill="#000" stroke="#000" stroke-width="0.3">10<tspan dy="-13.3" dx="0.4">2</tspan></text>
<text transform="translate(1630.9 374.4) scale(0.89 1)" font-size="21.8" fill="#000" stroke="#000" stroke-width="0.3">10<tspan dy="-13.3" dx="0.4">3</tspan></text>
<text transform="translate(1702.5 374.4) scale(0.89 1)" font-size="21.8" fill="#000" stroke="#000" stroke-width="0.3">10<tspan dy="-13.3" dx="0.4">4</tspan></text>
<text transform="translate(1773.1 374.4) scale(0.89 1)" font-size="21.8" fill="#000" stroke="#000" stroke-width="0.3">10<tspan dy="-13.3" dx="0.4">5</tspan></text>
<text transform="translate(1818.5 374.4) scale(0.89 1)" font-size="21.8" fill="#000" stroke="#000" stroke-width="0.3">10<tspan dy="-13.3" dx="0.4">6</tspan></text>
<path d="M977 721V728.6M1032 721V728.6M1089 721V728.6M1145 721V728.6M1201.6 721V728.6M1258.4 721V728.6" stroke="#000" stroke-width="2.1" fill="none"/>
<path d="M993.56 721V724.2M1003.24 721V724.2M1010.11 721V724.2M1015.44 721V726.4M1019.8 721V724.2M1023.48 721V724.2M1026.67 721V724.2M1029.48 721V724.2M1049.16 721V724.2M1059.2 721V724.2M1066.32 721V724.2M1071.84 721V726.4M1076.35 721V724.2M1080.17 721V724.2M1083.48 721V724.2M1086.39 721V724.2M1105.86 721V724.2M1115.72 721V724.2M1122.72 721V724.2M1128.14 721V726.4M1132.58 721V724.2M1136.33 721V724.2M1139.57 721V724.2M1142.44 721V724.2M1162.04 721V724.2M1172.01 721V724.2M1179.08 721V724.2M1184.56 721V726.4M1189.04 721V724.2M1192.83 721V724.2M1196.11 721V724.2M1199.01 721V724.2M1218.7 721V724.2M1228.7 721V724.2M1235.8 721V724.2M1241.3 721V726.4M1245.8 721V724.2M1249.6 721V724.2M1252.9 721V724.2M1255.8 721V724.2" stroke="#000" stroke-width="1.25" fill="none"/>
<text transform="translate(983.1 756.6) scale(0.89 1)" font-size="21.8" fill="#000" stroke="#000" stroke-width="0.3">10<tspan dy="-13.3" dx="0.4">1</tspan></text>
<text transform="translate(1028.5 756.6) scale(0.89 1)" font-size="21.8" fill="#000" stroke="#000" stroke-width="0.3">10<tspan dy="-13.3" dx="0.4">2</tspan></text>
<text transform="translate(1085.1 756.6) scale(0.89 1)" font-size="21.8" fill="#000" stroke="#000" stroke-width="0.3">10<tspan dy="-13.3" dx="0.4">3</tspan></text>
<text transform="translate(1140.5 756.6) scale(0.89 1)" font-size="21.8" fill="#000" stroke="#000" stroke-width="0.3">10<tspan dy="-13.3" dx="0.4">4</tspan></text>
<text transform="translate(1197.5 756.6) scale(0.89 1)" font-size="21.8" fill="#000" stroke="#000" stroke-width="0.3">10<tspan dy="-13.3" dx="0.4">5</tspan></text>
<text transform="translate(1229.5 756.6) scale(0.89 1)" font-size="21.8" fill="#000" stroke="#000" stroke-width="0.3">10<tspan dy="-13.3" dx="0.4">6</tspan></text>
<path d="M1270.6 720.9V728.5M1325 720.9V728.5M1381.6 720.9V728.5M1437 720.9V728.5M1493.6 720.9V728.5M1550.6 720.9V728.5" stroke="#000" stroke-width="2.1" fill="none"/>
<path d="M1286.98 720.9V724.1M1296.56 720.9V724.1M1303.35 720.9V724.1M1308.62 720.9V726.3M1312.93 720.9V724.1M1316.57 720.9V724.1M1319.73 720.9V724.1M1322.51 720.9V724.1M1342.04 720.9V724.1M1352.01 720.9V724.1M1359.08 720.9V724.1M1364.56 720.9V726.3M1369.04 720.9V724.1M1372.83 720.9V724.1M1376.11 720.9V724.1M1379.01 720.9V724.1M1398.28 720.9V724.1M1408.03 720.9V724.1M1414.95 720.9V724.1M1420.32 720.9V726.3M1424.71 720.9V724.1M1428.42 720.9V724.1M1431.63 720.9V724.1M1434.47 720.9V724.1M1454.04 720.9V724.1M1464.01 720.9V724.1M1471.08 720.9V724.1M1476.56 720.9V726.3M1481.04 720.9V724.1M1484.83 720.9V724.1M1488.11 720.9V724.1M1491.01 720.9V724.1M1510.76 720.9V724.1M1520.8 720.9V724.1M1527.92 720.9V724.1M1533.44 720.9V726.3M1537.95 720.9V724.1M1541.77 720.9V724.1M1545.08 720.9V724.1M1547.99 720.9V724.1" stroke="#000" stroke-width="1.25" fill="none"/>
<text transform="translate(1276.1 755) scale(0.89 1)" font-size="21.8" fill="#000" stroke="#000" stroke-width="0.3">10<tspan dy="-13.3" dx="0.4">1</tspan></text>
<text transform="translate(1321.5 755) scale(0.89 1)" font-size="21.8" fill="#000" stroke="#000" stroke-width="0.3">10<tspan dy="-13.3" dx="0.4">2</tspan></text>
<text transform="translate(1378.1 755) scale(0.89 1)" font-size="21.8" fill="#000" stroke="#000" stroke-width="0.3">10<tspan dy="-13.3" dx="0.4">3</tspan></text>
<text transform="translate(1433.1 755) scale(0.89 1)" font-size="21.8" fill="#000" stroke="#000" stroke-width="0.3">10<tspan dy="-13.3" dx="0.4">4</tspan></text>
<text transform="translate(1490.1 755) scale(0.89 1)" font-size="21.8" fill="#000" stroke="#000" stroke-width="0.3">10<tspan dy="-13.3" dx="0.4">5</tspan></text>
<text transform="translate(1520.1 755) scale(0.89 1)" font-size="21.8" fill="#000" stroke="#000" stroke-width="0.3">10<tspan dy="-13.3" dx="0.4">6</tspan></text>
<path d="M1560 720.9V728.5M1616 720.9V728.5M1673 720.9V728.5M1728 720.9V728.5M1785 720.9V728.5M1841.4 720.9V728.5" stroke="#000" stroke-width="2.1" fill="none"/>
<path d="M1576.86 720.9V724.1M1586.72 720.9V724.1M1593.72 720.9V724.1M1599.14 720.9V726.3M1603.58 720.9V724.1M1607.33 720.9V724.1M1610.57 720.9V724.1M1613.44 720.9V724.1M1633.16 720.9V724.1M1643.2 720.9V724.1M1650.32 720.9V724.1M1655.84 720.9V726.3M1660.35 720.9V724.1M1664.17 720.9V724.1M1667.48 720.9V724.1M1670.39 720.9V724.1M1689.56 720.9V724.1M1699.24 720.9V724.1M1706.11 720.9V724.1M1711.44 720.9V726.3M1715.8 720.9V724.1M1719.48 720.9V724.1M1722.67 720.9V724.1M1725.48 720.9V724.1M1745.16 720.9V724.1M1755.2 720.9V724.1M1762.32 720.9V724.1M1767.84 720.9V726.3M1772.35 720.9V724.1M1776.17 720.9V724.1M1779.48 720.9V724.1M1782.39 720.9V724.1M1801.98 720.9V724.1M1811.91 720.9V724.1M1818.96 720.9V724.1M1824.42 720.9V726.3M1828.89 720.9V724.1M1832.66 720.9V724.1M1835.93 720.9V724.1M1838.82 720.9V724.1" stroke="#000" stroke-width="1.25" fill="none"/>
<text transform="translate(1565.5 755.3) scale(0.89 1)" font-size="21.8" fill="#000" stroke="#000" stroke-width="0.3">10<tspan dy="-13.3" dx="0.4">1</tspan></text>
<text transform="translate(1612.1 755.3) scale(0.89 1)" font-size="21.8" fill="#000" stroke="#000" stroke-width="0.3">10<tspan dy="-13.3" dx="0.4">2</tspan></text>
<text transform="translate(1668.9 755.3) scale(0.89 1)" font-size="21.8" fill="#000" stroke="#000" stroke-width="0.3">10<tspan dy="-13.3" dx="0.4">3</tspan></text>
<text transform="translate(1724.1 755.3) scale(0.89 1)" font-size="21.8" fill="#000" stroke="#000" stroke-width="0.3">10<tspan dy="-13.3" dx="0.4">4</tspan></text>
<text transform="translate(1780.9 755.3) scale(0.89 1)" font-size="21.8" fill="#000" stroke="#000" stroke-width="0.3">10<tspan dy="-13.3" dx="0.4">5</tspan></text>
<text transform="translate(1810.9 755.3) scale(0.89 1)" font-size="21.8" fill="#000" stroke="#000" stroke-width="0.3">10<tspan dy="-13.3" dx="0.4">6</tspan></text>
<line x1="981" y1="391.4" x2="1055.6" y2="391.4" stroke="#231f20" stroke-width="2" />
<path d="M1069.6 391.4 L1051.1 384 L1055.1 391.4 L1051.1 398.8 Z" fill="#231f20"/>
<text transform="translate(1083 400) scale(0.961 1)" font-size="29.9" text-anchor="start" fill="#000" stroke="#000" stroke-width="0.42" >GFP</text>
<line x1="984" y1="772.6" x2="1059" y2="772.6" stroke="#231f20" stroke-width="2" />
<path d="M1073 772.6 L1054.5 765.2 L1058.5 772.6 L1054.5 780 Z" fill="#231f20"/>
<text transform="translate(1082 785) scale(0.961 1)" font-size="29.9" text-anchor="start" fill="#000" stroke="#000" stroke-width="0.42" >APC CD69</text>
<text transform="translate(1853.5 127.7) scale(0.961 1)" font-size="29.9" text-anchor="start" fill="#000" stroke="#000" stroke-width="0.42" >PMA/Iono</text>
<text transform="translate(1853.5 169.6) scale(0.961 1)" font-size="29.9" text-anchor="start" fill="#000" stroke="#000" stroke-width="0.42" >HT-29<tspan font-size="16.2" dy="-9.4" letter-spacing="0.5">high</tspan></text>
<text transform="translate(1853.5 213.5) scale(0.961 1)" font-size="29.9" text-anchor="start" fill="#000" stroke="#000" stroke-width="0.42" >SW-1990<tspan font-size="16.2" dy="-9.4" letter-spacing="0.5">mid</tspan></text>
<text transform="translate(1853.5 251.7) scale(0.961 1)" font-size="29.9" text-anchor="start" fill="#000" stroke="#000" stroke-width="0.42" >293T<tspan font-size="16.2" dy="-9.4" letter-spacing="0.5">low</tspan></text>
<text transform="translate(1853.5 291.1) scale(0.961 1)" font-size="29.9" text-anchor="start" fill="#000" stroke="#000" stroke-width="0.42" >8505C<tspan font-size="16.2" dy="-9.4" letter-spacing="0.5">neg</tspan></text>
<text transform="translate(1853.5 332) scale(0.961 1)" font-size="29.9" text-anchor="start" fill="#000" stroke="#000" stroke-width="0.42" >No stim</text>
<text transform="translate(1853.5 509.5) scale(0.961 1)" font-size="29.9" text-anchor="start" fill="#000" stroke="#000" stroke-width="0.42" >PMA/Iono</text>
<text transform="translate(1853.5 551) scale(0.961 1)" font-size="29.9" text-anchor="start" fill="#000" stroke="#000" stroke-width="0.42" >HT-29<tspan font-size="16.2" dy="-9.4" letter-spacing="0.5">high</tspan></text>
<text transform="translate(1853.5 594) scale(0.961 1)" font-size="29.9" text-anchor="start" fill="#000" stroke="#000" stroke-width="0.42" >SW-1990<tspan font-size="16.2" dy="-9.4" letter-spacing="0.5">mid</tspan></text>
<text transform="translate(1853.5 632.1) scale(0.961 1)" font-size="29.9" text-anchor="start" fill="#000" stroke="#000" stroke-width="0.42" >293T<tspan font-size="16.2" dy="-9.4" letter-spacing="0.5">low</tspan></text>
<text transform="translate(1853.5 673.6) scale(0.961 1)" font-size="29.9" text-anchor="start" fill="#000" stroke="#000" stroke-width="0.42" >8505C<tspan font-size="16.2" dy="-9.4" letter-spacing="0.5">neg</tspan></text>
<text transform="translate(1853.5 713.8) scale(0.961 1)" font-size="29.9" text-anchor="start" fill="#000" stroke="#000" stroke-width="0.42" >No stim</text>
</g>
</svg>
</body>
</html>
